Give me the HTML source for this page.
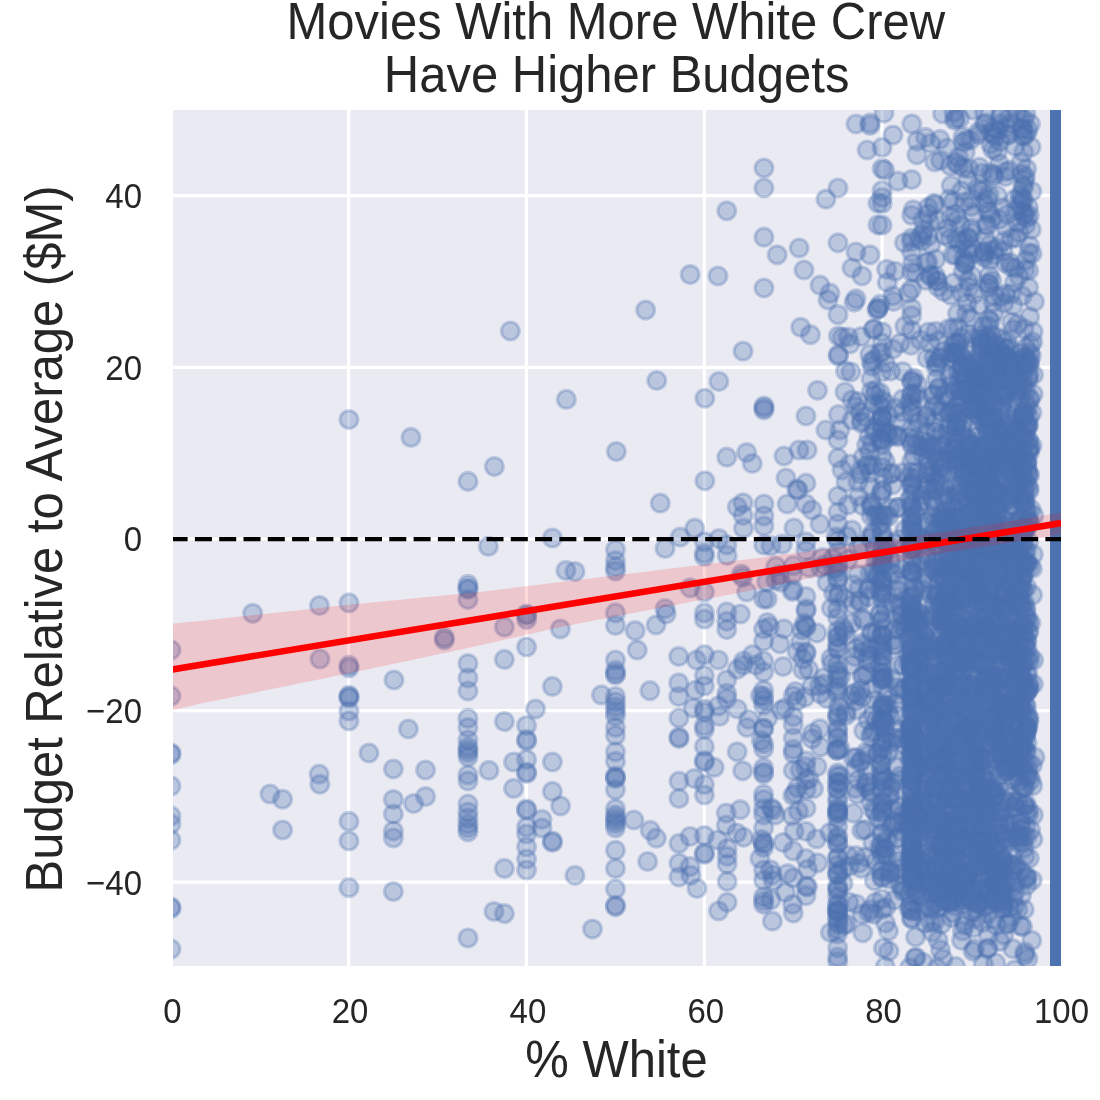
<!DOCTYPE html>
<html><head><meta charset="utf-8"><style>
html,body{margin:0;padding:0;background:#fff;width:1100px;height:1100px;overflow:hidden}
svg{display:block;will-change:transform}
text{font-family:"Liberation Sans",sans-serif;fill:#262626}
.c circle{r:9.0px}
</style></head><body>
<svg width="1100" height="1100" viewBox="0 0 1100 1100">
<defs><clipPath id="cp"><rect x="173" y="110" width="888" height="856"/></clipPath></defs>
<rect x="0" y="0" width="1100" height="1100" fill="#fff"/>
<rect x="173" y="110" width="888" height="856" fill="#EAEAF2"/>
<g stroke="#fff" stroke-width="3.2"><line x1="348.6" y1="110" x2="348.6" y2="966"/><line x1="526.4" y1="110" x2="526.4" y2="966"/><line x1="704.3" y1="110" x2="704.3" y2="966"/><line x1="882.1" y1="110" x2="882.1" y2="966"/><line x1="1060" y1="110" x2="1060" y2="966"/><line x1="173" y1="195.7" x2="1061" y2="195.7"/><line x1="173" y1="367.3" x2="1061" y2="367.3"/><line x1="173" y1="539" x2="1061" y2="539"/><line x1="173" y1="710.6" x2="1061" y2="710.6"/><line x1="173" y1="882.2" x2="1061" y2="882.2"/></g>
<g clip-path="url(#cp)">
<g class="c" fill="#4C72B0" fill-opacity="0.3" stroke="#4C72B0" stroke-opacity="0.3" stroke-width="3.2"><circle cx="171" cy="650" r="9"/><circle cx="171" cy="696" r="9"/><circle cx="171" cy="753" r="9"/><circle cx="171" cy="754.5" r="9"/><circle cx="171" cy="786" r="9"/><circle cx="171" cy="816" r="9"/><circle cx="171" cy="824" r="9"/><circle cx="171" cy="840" r="9"/><circle cx="171" cy="907" r="9"/><circle cx="171" cy="908.5" r="9"/><circle cx="171" cy="949" r="9"/><circle cx="252.7" cy="613.3" r="9"/><circle cx="319.5" cy="605.5" r="9"/><circle cx="320" cy="659" r="9"/><circle cx="270" cy="794" r="9"/><circle cx="282.6" cy="799.3" r="9"/><circle cx="282.6" cy="830" r="9"/><circle cx="319.2" cy="774.2" r="9"/><circle cx="319.9" cy="784.3" r="9"/><circle cx="349" cy="419.6" r="9"/><circle cx="349" cy="602.9" r="9"/><circle cx="349" cy="665.4" r="9"/><circle cx="349" cy="668" r="9"/><circle cx="349" cy="695.4" r="9"/><circle cx="349" cy="696.9" r="9"/><circle cx="349" cy="698" r="9"/><circle cx="349" cy="711" r="9"/><circle cx="349" cy="721" r="9"/><circle cx="349" cy="821.4" r="9"/><circle cx="349" cy="841" r="9"/><circle cx="349" cy="887.7" r="9"/><circle cx="510.4" cy="331" r="9"/><circle cx="566.4" cy="399.4" r="9"/><circle cx="411" cy="437.4" r="9"/><circle cx="494.4" cy="466.6" r="9"/><circle cx="468" cy="481.4" r="9"/><circle cx="488.4" cy="546.4" r="9"/><circle cx="552.4" cy="538" r="9"/><circle cx="566" cy="570.4" r="9"/><circle cx="575" cy="571.6" r="9"/><circle cx="504.4" cy="627" r="9"/><circle cx="560.4" cy="629" r="9"/><circle cx="504.4" cy="659.4" r="9"/><circle cx="394" cy="680" r="9"/><circle cx="552.4" cy="686.4" r="9"/><circle cx="535.6" cy="709" r="9"/><circle cx="408.4" cy="729" r="9"/><circle cx="369" cy="753" r="9"/><circle cx="425.6" cy="770" r="9"/><circle cx="413.6" cy="803.6" r="9"/><circle cx="425.6" cy="796.6" r="9"/><circle cx="504.4" cy="721.6" r="9"/><circle cx="489" cy="770.4" r="9"/><circle cx="513.6" cy="762" r="9"/><circle cx="513.6" cy="788.4" r="9"/><circle cx="504.4" cy="868.4" r="9"/><circle cx="552.4" cy="762" r="9"/><circle cx="552.4" cy="791.4" r="9"/><circle cx="560.6" cy="806" r="9"/><circle cx="542" cy="819.4" r="9"/><circle cx="542" cy="828" r="9"/><circle cx="575" cy="875.4" r="9"/><circle cx="494" cy="911.6" r="9"/><circle cx="504.4" cy="913.6" r="9"/><circle cx="552.4" cy="841" r="9"/><circle cx="552.4" cy="842.5" r="9"/><circle cx="444.4" cy="637.6" r="9"/><circle cx="444.4" cy="640" r="9"/><circle cx="393.4" cy="769" r="9"/><circle cx="393.4" cy="799.6" r="9"/><circle cx="393.4" cy="814" r="9"/><circle cx="393.4" cy="831" r="9"/><circle cx="393.4" cy="838" r="9"/><circle cx="393.4" cy="891.6" r="9"/><circle cx="468" cy="584.4" r="9"/><circle cx="468" cy="588" r="9"/><circle cx="468" cy="589.5" r="9"/><circle cx="468" cy="599.6" r="9"/><circle cx="468" cy="663.6" r="9"/><circle cx="468" cy="678" r="9"/><circle cx="468" cy="691" r="9"/><circle cx="468" cy="718.4" r="9"/><circle cx="468" cy="727.6" r="9"/><circle cx="468" cy="740" r="9"/><circle cx="468" cy="747" r="9"/><circle cx="468" cy="750" r="9"/><circle cx="468" cy="753" r="9"/><circle cx="468" cy="757" r="9"/><circle cx="468" cy="775" r="9"/><circle cx="468" cy="781" r="9"/><circle cx="468" cy="804" r="9"/><circle cx="468" cy="812" r="9"/><circle cx="468" cy="818" r="9"/><circle cx="468" cy="824" r="9"/><circle cx="468" cy="828" r="9"/><circle cx="468" cy="832" r="9"/><circle cx="468" cy="938" r="9"/><circle cx="526.6" cy="614" r="9"/><circle cx="526.6" cy="615.5" r="9"/><circle cx="526.6" cy="619.6" r="9"/><circle cx="526.6" cy="647" r="9"/><circle cx="526.6" cy="725.6" r="9"/><circle cx="526.6" cy="739.4" r="9"/><circle cx="526.6" cy="740.9" r="9"/><circle cx="526.6" cy="759.6" r="9"/><circle cx="526.6" cy="772" r="9"/><circle cx="526.6" cy="773.5" r="9"/><circle cx="526.6" cy="809" r="9"/><circle cx="526.6" cy="810.5" r="9"/><circle cx="526.6" cy="827" r="9"/><circle cx="526.6" cy="834" r="9"/><circle cx="526.6" cy="847" r="9"/><circle cx="526.6" cy="859" r="9"/><circle cx="526.6" cy="870" r="9"/><circle cx="726.8" cy="210.8" r="9"/><circle cx="690.2" cy="274.6" r="9"/><circle cx="718" cy="276" r="9"/><circle cx="645.7" cy="310.1" r="9"/><circle cx="743.1" cy="351.2" r="9"/><circle cx="656.8" cy="380.5" r="9"/><circle cx="718.9" cy="381.5" r="9"/><circle cx="704.9" cy="398.3" r="9"/><circle cx="616.4" cy="451.6" r="9"/><circle cx="726.8" cy="457.2" r="9"/><circle cx="746.7" cy="452.6" r="9"/><circle cx="752.3" cy="463.5" r="9"/><circle cx="704.9" cy="480.8" r="9"/><circle cx="660.3" cy="503.2" r="9"/><circle cx="737.3" cy="507" r="9"/><circle cx="743.1" cy="502.8" r="9"/><circle cx="743.1" cy="515.3" r="9"/><circle cx="694.8" cy="528.2" r="9"/><circle cx="680.2" cy="537.2" r="9"/><circle cx="665.1" cy="548.5" r="9"/><circle cx="690.2" cy="587.8" r="9"/><circle cx="665.1" cy="608.7" r="9"/><circle cx="666.2" cy="614" r="9"/><circle cx="656.1" cy="625" r="9"/><circle cx="635.2" cy="630.7" r="9"/><circle cx="637.3" cy="650.1" r="9"/><circle cx="649.9" cy="690.7" r="9"/><circle cx="601.4" cy="694.9" r="9"/><circle cx="678.7" cy="656.4" r="9"/><circle cx="678.7" cy="682.9" r="9"/><circle cx="678.7" cy="696.5" r="9"/><circle cx="696.5" cy="660" r="9"/><circle cx="695.4" cy="690.3" r="9"/><circle cx="693.4" cy="708" r="9"/><circle cx="718.4" cy="660" r="9"/><circle cx="718.9" cy="538.7" r="9"/><circle cx="726.8" cy="545" r="9"/><circle cx="727.2" cy="555.4" r="9"/><circle cx="726.8" cy="611.9" r="9"/><circle cx="726.8" cy="621.3" r="9"/><circle cx="726.8" cy="629.6" r="9"/><circle cx="740.4" cy="614" r="9"/><circle cx="726.8" cy="679.8" r="9"/><circle cx="726.8" cy="693.4" r="9"/><circle cx="726.8" cy="698.6" r="9"/><circle cx="718.4" cy="706" r="9"/><circle cx="719.5" cy="716.4" r="9"/><circle cx="737.3" cy="709" r="9"/><circle cx="737.3" cy="669.3" r="9"/><circle cx="743.5" cy="665.2" r="9"/><circle cx="743.5" cy="661" r="9"/><circle cx="752.5" cy="654.7" r="9"/><circle cx="748.8" cy="719.5" r="9"/><circle cx="743.5" cy="528.2" r="9"/><circle cx="742.5" cy="577.4" r="9"/><circle cx="746.7" cy="592" r="9"/><circle cx="741.4" cy="574.2" r="9"/><circle cx="615.5" cy="549.8" r="9"/><circle cx="615.5" cy="560.6" r="9"/><circle cx="615.5" cy="566.9" r="9"/><circle cx="615.5" cy="571.1" r="9"/><circle cx="615.5" cy="612.9" r="9"/><circle cx="615.5" cy="625.4" r="9"/><circle cx="615.5" cy="660" r="9"/><circle cx="615.5" cy="670.4" r="9"/><circle cx="615.5" cy="673.5" r="9"/><circle cx="615.5" cy="675" r="9"/><circle cx="615.5" cy="696.5" r="9"/><circle cx="615.5" cy="701.8" r="9"/><circle cx="615.5" cy="707" r="9"/><circle cx="615.5" cy="711.2" r="9"/><circle cx="615.5" cy="716" r="9"/><circle cx="615.5" cy="727.6" r="9"/><circle cx="615.5" cy="735.4" r="9"/><circle cx="615.5" cy="751.8" r="9"/><circle cx="615.5" cy="761.3" r="9"/><circle cx="615.5" cy="776" r="9"/><circle cx="615.5" cy="777.5" r="9"/><circle cx="615.5" cy="778.6" r="9"/><circle cx="615.5" cy="789.8" r="9"/><circle cx="615.5" cy="808.8" r="9"/><circle cx="615.5" cy="815" r="9"/><circle cx="615.5" cy="818" r="9"/><circle cx="615.5" cy="821" r="9"/><circle cx="615.5" cy="824" r="9"/><circle cx="615.5" cy="828" r="9"/><circle cx="615.5" cy="850.3" r="9"/><circle cx="615.5" cy="868.4" r="9"/><circle cx="615.5" cy="889" r="9"/><circle cx="615.5" cy="905.3" r="9"/><circle cx="615.5" cy="906.8" r="9"/><circle cx="704.4" cy="541.8" r="9"/><circle cx="704.4" cy="553.3" r="9"/><circle cx="704.4" cy="556.4" r="9"/><circle cx="704.4" cy="592" r="9"/><circle cx="704.4" cy="612.9" r="9"/><circle cx="704.4" cy="619.2" r="9"/><circle cx="704.4" cy="654.7" r="9"/><circle cx="704.4" cy="675.6" r="9"/><circle cx="704.4" cy="686" r="9"/><circle cx="704.4" cy="709" r="9"/><circle cx="704.4" cy="712.2" r="9"/><circle cx="704.4" cy="725.8" r="9"/><circle cx="704.4" cy="729.4" r="9"/><circle cx="704.4" cy="746.6" r="9"/><circle cx="704.4" cy="760.5" r="9"/><circle cx="704.4" cy="762" r="9"/><circle cx="704.4" cy="784.6" r="9"/><circle cx="704.4" cy="795" r="9"/><circle cx="704.4" cy="835.6" r="9"/><circle cx="704.4" cy="852.9" r="9"/><circle cx="704.4" cy="854.4" r="9"/><circle cx="679" cy="718.1" r="9"/><circle cx="679" cy="737.1" r="9"/><circle cx="679" cy="738.6" r="9"/><circle cx="679" cy="781.2" r="9"/><circle cx="679" cy="798.5" r="9"/><circle cx="679" cy="843.4" r="9"/><circle cx="679" cy="863.2" r="9"/><circle cx="679" cy="877.1" r="9"/><circle cx="633.9" cy="820" r="9"/><circle cx="650.3" cy="830.4" r="9"/><circle cx="656.4" cy="838.2" r="9"/><circle cx="647.7" cy="861.5" r="9"/><circle cx="592.5" cy="929.1" r="9"/><circle cx="694.4" cy="778.6" r="9"/><circle cx="690.1" cy="836.5" r="9"/><circle cx="690.1" cy="866.7" r="9"/><circle cx="690.9" cy="875.3" r="9"/><circle cx="697" cy="888.5" r="9"/><circle cx="714.2" cy="767.4" r="9"/><circle cx="737.2" cy="751.8" r="9"/><circle cx="742.7" cy="770.8" r="9"/><circle cx="747" cy="727.6" r="9"/><circle cx="726.3" cy="813.1" r="9"/><circle cx="740.2" cy="809.7" r="9"/><circle cx="726.3" cy="825.2" r="9"/><circle cx="736.7" cy="833" r="9"/><circle cx="743.6" cy="837.3" r="9"/><circle cx="717.7" cy="840" r="9"/><circle cx="727.2" cy="848.6" r="9"/><circle cx="727.2" cy="856.3" r="9"/><circle cx="727.2" cy="864.1" r="9"/><circle cx="727.2" cy="881.4" r="9"/><circle cx="727.2" cy="902.3" r="9"/><circle cx="718.6" cy="911" r="9"/><circle cx="884" cy="113.1" r="9"/><circle cx="911.8" cy="123.8" r="9"/><circle cx="954" cy="112.3" r="9"/><circle cx="954.5" cy="120.3" r="9"/><circle cx="942.6" cy="113.7" r="9"/><circle cx="959.7" cy="118.5" r="9"/><circle cx="955.6" cy="118.5" r="9"/><circle cx="979.2" cy="134.5" r="9"/><circle cx="973.6" cy="110.1" r="9"/><circle cx="978.5" cy="131.8" r="9"/><circle cx="984.5" cy="112.5" r="9"/><circle cx="990.4" cy="132.1" r="9"/><circle cx="994.5" cy="128.4" r="9"/><circle cx="985.8" cy="123.1" r="9"/><circle cx="997.7" cy="130.6" r="9"/><circle cx="1000.2" cy="115.8" r="9"/><circle cx="1001.8" cy="115.4" r="9"/><circle cx="1000" cy="123.9" r="9"/><circle cx="984.6" cy="124.7" r="9"/><circle cx="993" cy="134" r="9"/><circle cx="1009.1" cy="134.6" r="9"/><circle cx="1025.8" cy="113.8" r="9"/><circle cx="1010.7" cy="123.5" r="9"/><circle cx="1008.9" cy="118.1" r="9"/><circle cx="1006.2" cy="127.8" r="9"/><circle cx="1007" cy="134.9" r="9"/><circle cx="1028" cy="129.7" r="9"/><circle cx="1024.3" cy="119.2" r="9"/><circle cx="1022" cy="129" r="9"/><circle cx="1017" cy="111.5" r="9"/><circle cx="1020.7" cy="118.1" r="9"/><circle cx="1026.3" cy="133.8" r="9"/><circle cx="1023" cy="129.2" r="9"/><circle cx="1030.5" cy="123.9" r="9"/><circle cx="893" cy="135.1" r="9"/><circle cx="882.1" cy="147.4" r="9"/><circle cx="925.6" cy="137.4" r="9"/><circle cx="916.9" cy="154.8" r="9"/><circle cx="917.2" cy="141.1" r="9"/><circle cx="930.7" cy="143.3" r="9"/><circle cx="939.9" cy="139.4" r="9"/><circle cx="947" cy="148" r="9"/><circle cx="965.3" cy="152.3" r="9"/><circle cx="963.1" cy="136.7" r="9"/><circle cx="966.5" cy="139.9" r="9"/><circle cx="970.5" cy="140" r="9"/><circle cx="958.4" cy="157.3" r="9"/><circle cx="963.3" cy="142.3" r="9"/><circle cx="997.3" cy="151.8" r="9"/><circle cx="1000" cy="141.5" r="9"/><circle cx="990.7" cy="144.1" r="9"/><circle cx="992.9" cy="149.4" r="9"/><circle cx="995.7" cy="136.7" r="9"/><circle cx="1022.7" cy="135.9" r="9"/><circle cx="1023.7" cy="152.1" r="9"/><circle cx="1015" cy="146.2" r="9"/><circle cx="1031.1" cy="147" r="9"/><circle cx="1024" cy="135.7" r="9"/><circle cx="884.7" cy="169.9" r="9"/><circle cx="882.1" cy="168.7" r="9"/><circle cx="898.1" cy="181.2" r="9"/><circle cx="911.7" cy="179.6" r="9"/><circle cx="934.7" cy="162" r="9"/><circle cx="950.4" cy="165.8" r="9"/><circle cx="940.6" cy="160.3" r="9"/><circle cx="967.8" cy="179.8" r="9"/><circle cx="963.5" cy="168" r="9"/><circle cx="956" cy="162.5" r="9"/><circle cx="958.7" cy="165.2" r="9"/><circle cx="969.2" cy="169" r="9"/><circle cx="979.4" cy="167.1" r="9"/><circle cx="982.3" cy="173.2" r="9"/><circle cx="993.7" cy="176.4" r="9"/><circle cx="990.3" cy="173.1" r="9"/><circle cx="999.4" cy="163.8" r="9"/><circle cx="993.3" cy="174.7" r="9"/><circle cx="1009.1" cy="170.4" r="9"/><circle cx="1005.6" cy="176.6" r="9"/><circle cx="1026.7" cy="168.8" r="9"/><circle cx="1025.4" cy="176.5" r="9"/><circle cx="1005.4" cy="171.8" r="9"/><circle cx="1024.7" cy="180" r="9"/><circle cx="1021.9" cy="174.1" r="9"/><circle cx="1020.9" cy="162.7" r="9"/><circle cx="882.1" cy="197.5" r="9"/><circle cx="882.1" cy="190.5" r="9"/><circle cx="882.1" cy="203.6" r="9"/><circle cx="913.3" cy="209.8" r="9"/><circle cx="928.3" cy="207.5" r="9"/><circle cx="953.3" cy="201" r="9"/><circle cx="934" cy="203.3" r="9"/><circle cx="951.2" cy="185.4" r="9"/><circle cx="934.9" cy="204.6" r="9"/><circle cx="949.2" cy="199" r="9"/><circle cx="961.6" cy="190.9" r="9"/><circle cx="979.5" cy="190.6" r="9"/><circle cx="964.3" cy="202.2" r="9"/><circle cx="971.6" cy="199.1" r="9"/><circle cx="971.3" cy="206.6" r="9"/><circle cx="977.8" cy="187.7" r="9"/><circle cx="1002.8" cy="207.8" r="9"/><circle cx="989.2" cy="195" r="9"/><circle cx="997.1" cy="195.5" r="9"/><circle cx="982.8" cy="191.2" r="9"/><circle cx="987.6" cy="199.2" r="9"/><circle cx="984.3" cy="203.2" r="9"/><circle cx="1014.6" cy="199.3" r="9"/><circle cx="1020.9" cy="204.9" r="9"/><circle cx="1020.7" cy="197.9" r="9"/><circle cx="1023" cy="185.6" r="9"/><circle cx="1028.5" cy="207.5" r="9"/><circle cx="1023" cy="200.6" r="9"/><circle cx="1020.4" cy="194.9" r="9"/><circle cx="1023.2" cy="199" r="9"/><circle cx="1023.8" cy="187.3" r="9"/><circle cx="1031.9" cy="191.3" r="9"/><circle cx="882.1" cy="225.2" r="9"/><circle cx="911.7" cy="215.3" r="9"/><circle cx="923" cy="220" r="9"/><circle cx="924" cy="230.3" r="9"/><circle cx="929.8" cy="222.6" r="9"/><circle cx="922.5" cy="234.3" r="9"/><circle cx="928.2" cy="214" r="9"/><circle cx="947.6" cy="228.3" r="9"/><circle cx="950.8" cy="216.7" r="9"/><circle cx="937.9" cy="220.3" r="9"/><circle cx="957.3" cy="219.7" r="9"/><circle cx="971.1" cy="228.5" r="9"/><circle cx="960.7" cy="225.5" r="9"/><circle cx="973.8" cy="213.9" r="9"/><circle cx="955.4" cy="214" r="9"/><circle cx="972" cy="232.8" r="9"/><circle cx="987.8" cy="225.7" r="9"/><circle cx="987.9" cy="211" r="9"/><circle cx="986.1" cy="225" r="9"/><circle cx="991.4" cy="218.7" r="9"/><circle cx="989.8" cy="213.4" r="9"/><circle cx="999.2" cy="219.4" r="9"/><circle cx="1019.2" cy="232.5" r="9"/><circle cx="1024.9" cy="213.3" r="9"/><circle cx="1016.3" cy="210.3" r="9"/><circle cx="1023.9" cy="215.8" r="9"/><circle cx="1029.4" cy="215.6" r="9"/><circle cx="1017.7" cy="222.3" r="9"/><circle cx="1025.7" cy="224.9" r="9"/><circle cx="1027" cy="218" r="9"/><circle cx="1007.4" cy="214.6" r="9"/><circle cx="1006.2" cy="227.7" r="9"/><circle cx="1031.3" cy="229.5" r="9"/><circle cx="1021.9" cy="211.6" r="9"/><circle cx="904.4" cy="242.8" r="9"/><circle cx="911.7" cy="238" r="9"/><circle cx="922.1" cy="240.9" r="9"/><circle cx="911.7" cy="252.1" r="9"/><circle cx="919" cy="238.5" r="9"/><circle cx="911.7" cy="241.7" r="9"/><circle cx="928.4" cy="236.2" r="9"/><circle cx="952.8" cy="254.8" r="9"/><circle cx="935.8" cy="259.2" r="9"/><circle cx="950.2" cy="238.5" r="9"/><circle cx="930.9" cy="244.4" r="9"/><circle cx="944.5" cy="235.6" r="9"/><circle cx="971.8" cy="247.9" r="9"/><circle cx="967.3" cy="237.6" r="9"/><circle cx="973.7" cy="253.5" r="9"/><circle cx="955.6" cy="255.2" r="9"/><circle cx="963.9" cy="258.3" r="9"/><circle cx="963.6" cy="240.3" r="9"/><circle cx="959.9" cy="243.3" r="9"/><circle cx="956.8" cy="239.1" r="9"/><circle cx="966.8" cy="248.8" r="9"/><circle cx="968.9" cy="238.3" r="9"/><circle cx="983.7" cy="257.5" r="9"/><circle cx="983.4" cy="252.1" r="9"/><circle cx="993.9" cy="250" r="9"/><circle cx="1003.4" cy="241.4" r="9"/><circle cx="997.6" cy="247.9" r="9"/><circle cx="989.2" cy="245" r="9"/><circle cx="985.1" cy="237.5" r="9"/><circle cx="1003" cy="251" r="9"/><circle cx="984.2" cy="255.1" r="9"/><circle cx="984.6" cy="251.6" r="9"/><circle cx="994.7" cy="254.9" r="9"/><circle cx="1028.9" cy="253" r="9"/><circle cx="1016.2" cy="238" r="9"/><circle cx="1011.5" cy="238.3" r="9"/><circle cx="1032.1" cy="253.6" r="9"/><circle cx="1029.6" cy="245.7" r="9"/><circle cx="886.6" cy="269.3" r="9"/><circle cx="887.3" cy="282.5" r="9"/><circle cx="895.3" cy="271.3" r="9"/><circle cx="911.7" cy="271.9" r="9"/><circle cx="915.7" cy="272.7" r="9"/><circle cx="928.1" cy="261.9" r="9"/><circle cx="925.5" cy="280.3" r="9"/><circle cx="912.6" cy="263.3" r="9"/><circle cx="926.2" cy="262.5" r="9"/><circle cx="953.7" cy="282.8" r="9"/><circle cx="936.5" cy="280.7" r="9"/><circle cx="937.5" cy="281" r="9"/><circle cx="930.3" cy="275.2" r="9"/><circle cx="935.6" cy="275.9" r="9"/><circle cx="930.6" cy="276.2" r="9"/><circle cx="966.1" cy="261.7" r="9"/><circle cx="964.6" cy="263.9" r="9"/><circle cx="963.2" cy="271.7" r="9"/><circle cx="971.5" cy="275.8" r="9"/><circle cx="968.1" cy="281.3" r="9"/><circle cx="965.3" cy="263.6" r="9"/><circle cx="988.9" cy="283.4" r="9"/><circle cx="989.8" cy="260.3" r="9"/><circle cx="988.6" cy="284" r="9"/><circle cx="991.9" cy="280.6" r="9"/><circle cx="989.2" cy="275.2" r="9"/><circle cx="1010.1" cy="262.6" r="9"/><circle cx="1015.1" cy="268.1" r="9"/><circle cx="1018.9" cy="276.2" r="9"/><circle cx="1011" cy="266.7" r="9"/><circle cx="1005.6" cy="263" r="9"/><circle cx="1014.5" cy="282.5" r="9"/><circle cx="1026.1" cy="260.3" r="9"/><circle cx="1028.8" cy="270.5" r="9"/><circle cx="1025" cy="269.7" r="9"/><circle cx="880.3" cy="304.2" r="9"/><circle cx="893.6" cy="301.4" r="9"/><circle cx="892.9" cy="295.9" r="9"/><circle cx="911.7" cy="289.1" r="9"/><circle cx="911.7" cy="308.5" r="9"/><circle cx="908.6" cy="293" r="9"/><circle cx="950.9" cy="295.3" r="9"/><circle cx="943.7" cy="291.6" r="9"/><circle cx="938.1" cy="287" r="9"/><circle cx="967.2" cy="303.3" r="9"/><circle cx="969.3" cy="287.2" r="9"/><circle cx="961.7" cy="293" r="9"/><circle cx="974.6" cy="293.7" r="9"/><circle cx="979.1" cy="304.9" r="9"/><circle cx="993.3" cy="302.3" r="9"/><circle cx="988.5" cy="287.6" r="9"/><circle cx="1001.5" cy="296.5" r="9"/><circle cx="1004" cy="303.3" r="9"/><circle cx="994.4" cy="295.7" r="9"/><circle cx="1011.1" cy="293.8" r="9"/><circle cx="1013" cy="305.5" r="9"/><circle cx="1028.7" cy="287.4" r="9"/><circle cx="1005.6" cy="293.8" r="9"/><circle cx="1022.1" cy="295.9" r="9"/><circle cx="1034.5" cy="301.7" r="9"/><circle cx="904.8" cy="326.2" r="9"/><circle cx="882.1" cy="331.8" r="9"/><circle cx="911.7" cy="330.3" r="9"/><circle cx="928.5" cy="332.1" r="9"/><circle cx="911.7" cy="315.7" r="9"/><circle cx="935.8" cy="331.3" r="9"/><circle cx="948.4" cy="328.9" r="9"/><circle cx="953.6" cy="327.7" r="9"/><circle cx="966.7" cy="313.4" r="9"/><circle cx="967.9" cy="333.7" r="9"/><circle cx="970.4" cy="318.1" r="9"/><circle cx="957.5" cy="313.4" r="9"/><circle cx="958.1" cy="327.8" r="9"/><circle cx="990.9" cy="334.4" r="9"/><circle cx="988.3" cy="326.3" r="9"/><circle cx="988.7" cy="319.6" r="9"/><circle cx="990.7" cy="321.1" r="9"/><circle cx="982.9" cy="326" r="9"/><circle cx="993.9" cy="312.8" r="9"/><circle cx="1029.7" cy="316.9" r="9"/><circle cx="1013.5" cy="329.5" r="9"/><circle cx="1017.7" cy="324.2" r="9"/><circle cx="1024.1" cy="328.8" r="9"/><circle cx="1011.6" cy="322.2" r="9"/><circle cx="1033.2" cy="331.7" r="9"/><circle cx="861.1" cy="336.6" r="9"/><circle cx="869.8" cy="354.2" r="9"/><circle cx="879.9" cy="353.2" r="9"/><circle cx="882.1" cy="352" r="9"/><circle cx="893" cy="349.1" r="9"/><circle cx="882.1" cy="343" r="9"/><circle cx="900.1" cy="343.1" r="9"/><circle cx="920.2" cy="340" r="9"/><circle cx="911" cy="345.5" r="9"/><circle cx="927.1" cy="358.6" r="9"/><circle cx="952.6" cy="346.7" r="9"/><circle cx="934.1" cy="357.4" r="9"/><circle cx="953.8" cy="359.3" r="9"/><circle cx="939" cy="340.6" r="9"/><circle cx="953.1" cy="352.8" r="9"/><circle cx="953.1" cy="353.2" r="9"/><circle cx="954.6" cy="353.3" r="9"/><circle cx="950.5" cy="358.1" r="9"/><circle cx="940.7" cy="358" r="9"/><circle cx="940.3" cy="359" r="9"/><circle cx="943.6" cy="351" r="9"/><circle cx="930.2" cy="343.5" r="9"/><circle cx="955.3" cy="342.8" r="9"/><circle cx="961.4" cy="337.7" r="9"/><circle cx="961.4" cy="356.5" r="9"/><circle cx="960.4" cy="352.5" r="9"/><circle cx="979.8" cy="335.2" r="9"/><circle cx="972.8" cy="338.4" r="9"/><circle cx="959.6" cy="342.7" r="9"/><circle cx="977.9" cy="356.9" r="9"/><circle cx="957.3" cy="354.8" r="9"/><circle cx="957.1" cy="344" r="9"/><circle cx="980" cy="357" r="9"/><circle cx="957.7" cy="349.2" r="9"/><circle cx="996.9" cy="356.5" r="9"/><circle cx="993.9" cy="358.3" r="9"/><circle cx="1002.4" cy="339.1" r="9"/><circle cx="981.4" cy="339.9" r="9"/><circle cx="992.7" cy="352.4" r="9"/><circle cx="1001.4" cy="353.3" r="9"/><circle cx="996.4" cy="350" r="9"/><circle cx="996.4" cy="345" r="9"/><circle cx="996.6" cy="355.9" r="9"/><circle cx="1001.4" cy="353" r="9"/><circle cx="996.9" cy="336.8" r="9"/><circle cx="988.2" cy="346.4" r="9"/><circle cx="987.7" cy="340" r="9"/><circle cx="989.4" cy="355.8" r="9"/><circle cx="986.7" cy="358.4" r="9"/><circle cx="980.2" cy="345.5" r="9"/><circle cx="998" cy="353.9" r="9"/><circle cx="980.3" cy="337.9" r="9"/><circle cx="981.8" cy="349.1" r="9"/><circle cx="982.4" cy="344.9" r="9"/><circle cx="987.1" cy="337.6" r="9"/><circle cx="989.4" cy="345.9" r="9"/><circle cx="994.5" cy="343.6" r="9"/><circle cx="981.7" cy="343.2" r="9"/><circle cx="1005.1" cy="348" r="9"/><circle cx="1005.5" cy="356.6" r="9"/><circle cx="1009.9" cy="348.3" r="9"/><circle cx="1007.3" cy="348.7" r="9"/><circle cx="1024.8" cy="357.9" r="9"/><circle cx="1024.7" cy="357.3" r="9"/><circle cx="1005.2" cy="355.1" r="9"/><circle cx="1006.2" cy="356.8" r="9"/><circle cx="1029.9" cy="352.9" r="9"/><circle cx="1020.2" cy="353.3" r="9"/><circle cx="1007.2" cy="356.6" r="9"/><circle cx="1007.2" cy="341" r="9"/><circle cx="1030.3" cy="344.8" r="9"/><circle cx="1025.8" cy="347.5" r="9"/><circle cx="1031.3" cy="356" r="9"/><circle cx="1032.7" cy="342.1" r="9"/><circle cx="873.9" cy="360" r="9"/><circle cx="872.2" cy="366.2" r="9"/><circle cx="871.1" cy="379" r="9"/><circle cx="871.4" cy="361.8" r="9"/><circle cx="902.7" cy="371.6" r="9"/><circle cx="882.1" cy="371.8" r="9"/><circle cx="885.2" cy="363.1" r="9"/><circle cx="890.6" cy="371.1" r="9"/><circle cx="911.7" cy="381.5" r="9"/><circle cx="913.6" cy="378.1" r="9"/><circle cx="917.2" cy="384.5" r="9"/><circle cx="911.7" cy="380.9" r="9"/><circle cx="936.3" cy="366.9" r="9"/><circle cx="936.8" cy="363.4" r="9"/><circle cx="950.3" cy="377.5" r="9"/><circle cx="949.7" cy="376.1" r="9"/><circle cx="936.5" cy="362.2" r="9"/><circle cx="936.5" cy="379.7" r="9"/><circle cx="968.3" cy="368" r="9"/><circle cx="962.2" cy="368.4" r="9"/><circle cx="969.8" cy="364.2" r="9"/><circle cx="959" cy="381.2" r="9"/><circle cx="973.9" cy="369" r="9"/><circle cx="961.2" cy="374.6" r="9"/><circle cx="978.3" cy="379.7" r="9"/><circle cx="966.1" cy="375.9" r="9"/><circle cx="964" cy="377.7" r="9"/><circle cx="967.9" cy="360.7" r="9"/><circle cx="971.8" cy="381.8" r="9"/><circle cx="967.1" cy="364" r="9"/><circle cx="962.6" cy="364.8" r="9"/><circle cx="976" cy="378.4" r="9"/><circle cx="962.4" cy="367.6" r="9"/><circle cx="958.2" cy="371" r="9"/><circle cx="979.4" cy="378.9" r="9"/><circle cx="978.4" cy="361.9" r="9"/><circle cx="978.1" cy="382.8" r="9"/><circle cx="975.3" cy="363.2" r="9"/><circle cx="976.7" cy="384.5" r="9"/><circle cx="973.5" cy="372.9" r="9"/><circle cx="963.6" cy="382" r="9"/><circle cx="970" cy="368.1" r="9"/><circle cx="980.4" cy="377.6" r="9"/><circle cx="987.4" cy="363.3" r="9"/><circle cx="987.7" cy="371.6" r="9"/><circle cx="1001.2" cy="371.9" r="9"/><circle cx="983.2" cy="380.7" r="9"/><circle cx="996.9" cy="373.6" r="9"/><circle cx="1002.5" cy="370.1" r="9"/><circle cx="989.7" cy="361.4" r="9"/><circle cx="997.4" cy="375.5" r="9"/><circle cx="1003.7" cy="360.2" r="9"/><circle cx="990.3" cy="370.9" r="9"/><circle cx="990.4" cy="361.1" r="9"/><circle cx="1000.4" cy="361.1" r="9"/><circle cx="996" cy="367.8" r="9"/><circle cx="990.6" cy="380.9" r="9"/><circle cx="985.1" cy="372.8" r="9"/><circle cx="986.7" cy="375.3" r="9"/><circle cx="993.6" cy="376.7" r="9"/><circle cx="982.4" cy="375.8" r="9"/><circle cx="996.6" cy="361.7" r="9"/><circle cx="1004.2" cy="381.3" r="9"/><circle cx="999.8" cy="379.7" r="9"/><circle cx="992.5" cy="382.9" r="9"/><circle cx="983.9" cy="378.6" r="9"/><circle cx="1006.6" cy="376.2" r="9"/><circle cx="1029.3" cy="363.5" r="9"/><circle cx="1019" cy="382.4" r="9"/><circle cx="1011.6" cy="365.3" r="9"/><circle cx="1022.9" cy="379.9" r="9"/><circle cx="1028.5" cy="376.3" r="9"/><circle cx="1006.3" cy="380.5" r="9"/><circle cx="1012.1" cy="374.1" r="9"/><circle cx="1023" cy="384.5" r="9"/><circle cx="1018.8" cy="363.6" r="9"/><circle cx="1017.8" cy="373.9" r="9"/><circle cx="1023.8" cy="364.8" r="9"/><circle cx="1018.8" cy="361.2" r="9"/><circle cx="1029.6" cy="360.6" r="9"/><circle cx="1018.5" cy="364.4" r="9"/><circle cx="1011.9" cy="370.1" r="9"/><circle cx="1011.3" cy="366.5" r="9"/><circle cx="1012.7" cy="372.5" r="9"/><circle cx="1028.9" cy="365.2" r="9"/><circle cx="1009.3" cy="361.1" r="9"/><circle cx="1027.9" cy="379.6" r="9"/><circle cx="1025.8" cy="363.7" r="9"/><circle cx="1016" cy="376.8" r="9"/><circle cx="1018.3" cy="378.3" r="9"/><circle cx="1033.5" cy="374.8" r="9"/><circle cx="1029.2" cy="374.7" r="9"/><circle cx="1026.6" cy="360.3" r="9"/><circle cx="1022.5" cy="372" r="9"/><circle cx="871.4" cy="391.5" r="9"/><circle cx="858.1" cy="401.6" r="9"/><circle cx="875.6" cy="390.3" r="9"/><circle cx="855.9" cy="406.7" r="9"/><circle cx="873.8" cy="404.2" r="9"/><circle cx="874.8" cy="395.4" r="9"/><circle cx="878.8" cy="405.2" r="9"/><circle cx="902.7" cy="399.1" r="9"/><circle cx="882.1" cy="399.8" r="9"/><circle cx="880.4" cy="392.9" r="9"/><circle cx="895.6" cy="408.3" r="9"/><circle cx="884.6" cy="402.8" r="9"/><circle cx="882.1" cy="406.7" r="9"/><circle cx="909" cy="403.6" r="9"/><circle cx="911.7" cy="406.6" r="9"/><circle cx="919.3" cy="399.1" r="9"/><circle cx="911.7" cy="394.1" r="9"/><circle cx="911.7" cy="394.8" r="9"/><circle cx="911.7" cy="400.9" r="9"/><circle cx="915.8" cy="393.7" r="9"/><circle cx="953.7" cy="409.5" r="9"/><circle cx="939.1" cy="387.1" r="9"/><circle cx="934.1" cy="406.5" r="9"/><circle cx="938.8" cy="388.7" r="9"/><circle cx="953.9" cy="390.6" r="9"/><circle cx="944" cy="395.3" r="9"/><circle cx="933.5" cy="394.3" r="9"/><circle cx="949.7" cy="398.6" r="9"/><circle cx="951.4" cy="385.4" r="9"/><circle cx="932.7" cy="395.8" r="9"/><circle cx="946.1" cy="395.3" r="9"/><circle cx="936.9" cy="405.4" r="9"/><circle cx="971.2" cy="388.3" r="9"/><circle cx="973.5" cy="400.2" r="9"/><circle cx="973.4" cy="403.4" r="9"/><circle cx="969.1" cy="394.6" r="9"/><circle cx="975.9" cy="408.1" r="9"/><circle cx="978.8" cy="392.6" r="9"/><circle cx="960.3" cy="389.8" r="9"/><circle cx="972" cy="409.1" r="9"/><circle cx="961" cy="396.2" r="9"/><circle cx="968.6" cy="395.4" r="9"/><circle cx="968.7" cy="394.3" r="9"/><circle cx="969.7" cy="409.5" r="9"/><circle cx="974.1" cy="409.1" r="9"/><circle cx="965.5" cy="388.7" r="9"/><circle cx="960.1" cy="390.8" r="9"/><circle cx="974.2" cy="390.6" r="9"/><circle cx="969" cy="408.2" r="9"/><circle cx="965.5" cy="390.9" r="9"/><circle cx="977.2" cy="409.5" r="9"/><circle cx="956.7" cy="405.6" r="9"/><circle cx="979.4" cy="392.4" r="9"/><circle cx="964" cy="389.8" r="9"/><circle cx="960.4" cy="404.2" r="9"/><circle cx="966" cy="392.7" r="9"/><circle cx="1002.7" cy="409.9" r="9"/><circle cx="988" cy="391.7" r="9"/><circle cx="986.7" cy="404.6" r="9"/><circle cx="1002.7" cy="389.8" r="9"/><circle cx="982.6" cy="393.3" r="9"/><circle cx="1000.8" cy="406.2" r="9"/><circle cx="1003.8" cy="395.5" r="9"/><circle cx="981.1" cy="386.1" r="9"/><circle cx="1000.2" cy="394.4" r="9"/><circle cx="984.3" cy="392" r="9"/><circle cx="982.5" cy="407.9" r="9"/><circle cx="990.8" cy="397.6" r="9"/><circle cx="985" cy="398.1" r="9"/><circle cx="986.3" cy="408.5" r="9"/><circle cx="1001.6" cy="403" r="9"/><circle cx="994.1" cy="403.3" r="9"/><circle cx="982.1" cy="394" r="9"/><circle cx="1002" cy="404.8" r="9"/><circle cx="987.9" cy="394.6" r="9"/><circle cx="983.5" cy="385" r="9"/><circle cx="1003.8" cy="389.6" r="9"/><circle cx="1000" cy="389.5" r="9"/><circle cx="991.4" cy="398.6" r="9"/><circle cx="984.6" cy="392" r="9"/><circle cx="1005.1" cy="394.2" r="9"/><circle cx="1026" cy="390.5" r="9"/><circle cx="1015.8" cy="394.8" r="9"/><circle cx="1017.9" cy="390.4" r="9"/><circle cx="1006.2" cy="393.3" r="9"/><circle cx="1029.5" cy="399.5" r="9"/><circle cx="1016.3" cy="392.4" r="9"/><circle cx="1022.9" cy="388.7" r="9"/><circle cx="1020.3" cy="397.5" r="9"/><circle cx="1006.7" cy="397.5" r="9"/><circle cx="1013.5" cy="385.3" r="9"/><circle cx="1016.2" cy="390.1" r="9"/><circle cx="1030.3" cy="398.8" r="9"/><circle cx="1025.9" cy="402.6" r="9"/><circle cx="1033.2" cy="394.1" r="9"/><circle cx="1027.9" cy="407.3" r="9"/><circle cx="874.7" cy="431.8" r="9"/><circle cx="865.3" cy="417.1" r="9"/><circle cx="874.2" cy="427.6" r="9"/><circle cx="861.9" cy="421.1" r="9"/><circle cx="861.2" cy="423.1" r="9"/><circle cx="860.2" cy="411.8" r="9"/><circle cx="882.1" cy="417.5" r="9"/><circle cx="887.8" cy="433.2" r="9"/><circle cx="886.5" cy="432.6" r="9"/><circle cx="880.4" cy="421.7" r="9"/><circle cx="882.1" cy="416.9" r="9"/><circle cx="893.3" cy="434.6" r="9"/><circle cx="888.3" cy="415.7" r="9"/><circle cx="882.1" cy="429.3" r="9"/><circle cx="901.5" cy="422" r="9"/><circle cx="902.5" cy="411.9" r="9"/><circle cx="881.9" cy="418.8" r="9"/><circle cx="882.1" cy="425.8" r="9"/><circle cx="911.7" cy="428.4" r="9"/><circle cx="926.6" cy="432.7" r="9"/><circle cx="926.2" cy="417.2" r="9"/><circle cx="920" cy="419.9" r="9"/><circle cx="918.6" cy="422.9" r="9"/><circle cx="911.7" cy="413.7" r="9"/><circle cx="927" cy="415.2" r="9"/><circle cx="935.8" cy="432" r="9"/><circle cx="941.1" cy="434.5" r="9"/><circle cx="942.4" cy="412.9" r="9"/><circle cx="949.1" cy="413" r="9"/><circle cx="947.4" cy="434.9" r="9"/><circle cx="948.6" cy="430.3" r="9"/><circle cx="940.6" cy="411.6" r="9"/><circle cx="935.6" cy="431.5" r="9"/><circle cx="949.7" cy="424.4" r="9"/><circle cx="935" cy="421.9" r="9"/><circle cx="950.5" cy="412.7" r="9"/><circle cx="952.6" cy="412" r="9"/><circle cx="955.5" cy="431.4" r="9"/><circle cx="962.9" cy="423.8" r="9"/><circle cx="956.1" cy="426.7" r="9"/><circle cx="979.9" cy="417.6" r="9"/><circle cx="976" cy="413.8" r="9"/><circle cx="955.9" cy="426.7" r="9"/><circle cx="961.8" cy="427.9" r="9"/><circle cx="956.6" cy="413.3" r="9"/><circle cx="962.9" cy="423" r="9"/><circle cx="961" cy="413.2" r="9"/><circle cx="957.8" cy="419.2" r="9"/><circle cx="956.6" cy="423.5" r="9"/><circle cx="993" cy="417.9" r="9"/><circle cx="981" cy="410.6" r="9"/><circle cx="994.6" cy="427.8" r="9"/><circle cx="984.5" cy="424.3" r="9"/><circle cx="982.1" cy="421.6" r="9"/><circle cx="1000.4" cy="414.7" r="9"/><circle cx="991.6" cy="432.6" r="9"/><circle cx="986.7" cy="429.6" r="9"/><circle cx="981.9" cy="416.9" r="9"/><circle cx="999.4" cy="431.7" r="9"/><circle cx="987.3" cy="420.3" r="9"/><circle cx="988.3" cy="414.8" r="9"/><circle cx="988.2" cy="431" r="9"/><circle cx="994.4" cy="431.1" r="9"/><circle cx="994.3" cy="426.9" r="9"/><circle cx="993.9" cy="415.3" r="9"/><circle cx="992.3" cy="418.6" r="9"/><circle cx="985.7" cy="417.9" r="9"/><circle cx="1003" cy="434.1" r="9"/><circle cx="1004.2" cy="423.6" r="9"/><circle cx="986.9" cy="419.1" r="9"/><circle cx="987.4" cy="434.1" r="9"/><circle cx="1001.6" cy="429.7" r="9"/><circle cx="993" cy="422.1" r="9"/><circle cx="1027.2" cy="427.9" r="9"/><circle cx="1028.7" cy="425.1" r="9"/><circle cx="1026" cy="425.2" r="9"/><circle cx="1018.7" cy="430.5" r="9"/><circle cx="1016.2" cy="431.1" r="9"/><circle cx="1011.4" cy="434.4" r="9"/><circle cx="1023.3" cy="414.9" r="9"/><circle cx="1022.1" cy="417.2" r="9"/><circle cx="1007.4" cy="413.3" r="9"/><circle cx="1015.8" cy="433.7" r="9"/><circle cx="1010.9" cy="423.6" r="9"/><circle cx="1016" cy="414.3" r="9"/><circle cx="1022.4" cy="417.6" r="9"/><circle cx="1006.1" cy="431.2" r="9"/><circle cx="1024.1" cy="411.2" r="9"/><circle cx="1016.3" cy="418" r="9"/><circle cx="1021.4" cy="417.8" r="9"/><circle cx="1022.5" cy="411.1" r="9"/><circle cx="1027.7" cy="426.2" r="9"/><circle cx="1015" cy="430.5" r="9"/><circle cx="1023.5" cy="417.8" r="9"/><circle cx="1007.2" cy="426" r="9"/><circle cx="1015.6" cy="431.7" r="9"/><circle cx="1008.7" cy="430.8" r="9"/><circle cx="1023.1" cy="416.4" r="9"/><circle cx="1029.2" cy="417.1" r="9"/><circle cx="1027.3" cy="423.3" r="9"/><circle cx="1025.9" cy="413.1" r="9"/><circle cx="1024.3" cy="430.3" r="9"/><circle cx="1032" cy="412.5" r="9"/><circle cx="866.7" cy="445" r="9"/><circle cx="869.6" cy="451.5" r="9"/><circle cx="879.8" cy="438.7" r="9"/><circle cx="863.1" cy="457.3" r="9"/><circle cx="872.2" cy="442.7" r="9"/><circle cx="869.1" cy="436.6" r="9"/><circle cx="882.1" cy="456.1" r="9"/><circle cx="882.1" cy="444.3" r="9"/><circle cx="897.4" cy="436.8" r="9"/><circle cx="882.1" cy="439.3" r="9"/><circle cx="888.8" cy="436.9" r="9"/><circle cx="882.1" cy="441.6" r="9"/><circle cx="897.8" cy="435.5" r="9"/><circle cx="911.7" cy="445" r="9"/><circle cx="908.7" cy="437.7" r="9"/><circle cx="923.1" cy="454.7" r="9"/><circle cx="927.5" cy="442.5" r="9"/><circle cx="922.5" cy="440.7" r="9"/><circle cx="928" cy="449.8" r="9"/><circle cx="914.2" cy="456.1" r="9"/><circle cx="911.7" cy="442.6" r="9"/><circle cx="921.5" cy="446.6" r="9"/><circle cx="924.6" cy="448.1" r="9"/><circle cx="916.8" cy="444.7" r="9"/><circle cx="914.9" cy="438.3" r="9"/><circle cx="947.2" cy="443" r="9"/><circle cx="950.2" cy="452" r="9"/><circle cx="941.3" cy="448.2" r="9"/><circle cx="953.7" cy="448.5" r="9"/><circle cx="932.6" cy="446" r="9"/><circle cx="937.6" cy="459" r="9"/><circle cx="940.9" cy="445" r="9"/><circle cx="949.1" cy="454.1" r="9"/><circle cx="932" cy="452" r="9"/><circle cx="953.3" cy="449.5" r="9"/><circle cx="936.9" cy="458.3" r="9"/><circle cx="931.6" cy="447.2" r="9"/><circle cx="968.9" cy="445" r="9"/><circle cx="977" cy="436.8" r="9"/><circle cx="966.6" cy="442.2" r="9"/><circle cx="957.7" cy="456.1" r="9"/><circle cx="971.2" cy="443.8" r="9"/><circle cx="968.3" cy="446.2" r="9"/><circle cx="956.5" cy="443.2" r="9"/><circle cx="955.8" cy="437.5" r="9"/><circle cx="976.2" cy="454.5" r="9"/><circle cx="962.4" cy="435.4" r="9"/><circle cx="977" cy="436.7" r="9"/><circle cx="961.1" cy="456.2" r="9"/><circle cx="969.4" cy="446" r="9"/><circle cx="974.5" cy="458" r="9"/><circle cx="969.4" cy="458" r="9"/><circle cx="956.7" cy="448" r="9"/><circle cx="972.2" cy="456.2" r="9"/><circle cx="966.9" cy="450.7" r="9"/><circle cx="962.2" cy="453.2" r="9"/><circle cx="969.5" cy="459.7" r="9"/><circle cx="968.2" cy="439.8" r="9"/><circle cx="974.8" cy="446.3" r="9"/><circle cx="958.3" cy="459.1" r="9"/><circle cx="967.4" cy="439.2" r="9"/><circle cx="986.4" cy="458.2" r="9"/><circle cx="1000.3" cy="435.9" r="9"/><circle cx="997.5" cy="443.2" r="9"/><circle cx="990.9" cy="453.6" r="9"/><circle cx="987.3" cy="442.3" r="9"/><circle cx="1003.3" cy="454.7" r="9"/><circle cx="1000.8" cy="453.6" r="9"/><circle cx="1004" cy="453.9" r="9"/><circle cx="998.6" cy="442.3" r="9"/><circle cx="997.6" cy="458.4" r="9"/><circle cx="994.3" cy="453" r="9"/><circle cx="984.4" cy="446.6" r="9"/><circle cx="993.2" cy="453.3" r="9"/><circle cx="993" cy="440.9" r="9"/><circle cx="1004.6" cy="447.1" r="9"/><circle cx="983" cy="456" r="9"/><circle cx="989.1" cy="458.8" r="9"/><circle cx="980.8" cy="454" r="9"/><circle cx="997" cy="452.9" r="9"/><circle cx="980.9" cy="447.6" r="9"/><circle cx="992.6" cy="442.5" r="9"/><circle cx="982.2" cy="450.3" r="9"/><circle cx="989.1" cy="459.6" r="9"/><circle cx="985.9" cy="444.8" r="9"/><circle cx="1008.4" cy="438.8" r="9"/><circle cx="1007.2" cy="456.2" r="9"/><circle cx="1024.6" cy="438" r="9"/><circle cx="1012" cy="451.6" r="9"/><circle cx="1006.4" cy="436.5" r="9"/><circle cx="1009.7" cy="454.4" r="9"/><circle cx="1011.2" cy="453.7" r="9"/><circle cx="1009.1" cy="450.9" r="9"/><circle cx="1021.9" cy="451" r="9"/><circle cx="1009.4" cy="446.6" r="9"/><circle cx="1011.3" cy="443.1" r="9"/><circle cx="1013.3" cy="457.7" r="9"/><circle cx="1009.7" cy="444.9" r="9"/><circle cx="1024.5" cy="437" r="9"/><circle cx="1024.4" cy="457.6" r="9"/><circle cx="1020.5" cy="458.1" r="9"/><circle cx="1016.4" cy="454.5" r="9"/><circle cx="1029.9" cy="447.4" r="9"/><circle cx="1016.3" cy="458.8" r="9"/><circle cx="1022.4" cy="447.6" r="9"/><circle cx="1014.9" cy="452.9" r="9"/><circle cx="1029.3" cy="447.6" r="9"/><circle cx="1016.6" cy="447.7" r="9"/><circle cx="1006" cy="455.6" r="9"/><circle cx="1029.4" cy="452.4" r="9"/><circle cx="1032.1" cy="445.8" r="9"/><circle cx="1028.6" cy="441" r="9"/><circle cx="1028.4" cy="451.3" r="9"/><circle cx="1028.4" cy="439.9" r="9"/><circle cx="1024.2" cy="436" r="9"/><circle cx="866.8" cy="465" r="9"/><circle cx="868.3" cy="465.4" r="9"/><circle cx="860.5" cy="470.7" r="9"/><circle cx="870.9" cy="472.9" r="9"/><circle cx="860.7" cy="474.3" r="9"/><circle cx="872.6" cy="465.3" r="9"/><circle cx="858" cy="481.7" r="9"/><circle cx="892.2" cy="472.8" r="9"/><circle cx="883.8" cy="477.5" r="9"/><circle cx="903.4" cy="472.4" r="9"/><circle cx="892.6" cy="484.7" r="9"/><circle cx="882.1" cy="467.5" r="9"/><circle cx="890.5" cy="474.1" r="9"/><circle cx="885.3" cy="461.6" r="9"/><circle cx="928.8" cy="466" r="9"/><circle cx="917.4" cy="472.3" r="9"/><circle cx="927.5" cy="474.6" r="9"/><circle cx="928" cy="471.1" r="9"/><circle cx="911.7" cy="472" r="9"/><circle cx="913.2" cy="478.6" r="9"/><circle cx="909.3" cy="477.4" r="9"/><circle cx="928" cy="484.5" r="9"/><circle cx="911.7" cy="484.3" r="9"/><circle cx="927.6" cy="460.2" r="9"/><circle cx="912.3" cy="482.5" r="9"/><circle cx="911.7" cy="461.4" r="9"/><circle cx="947.3" cy="473.3" r="9"/><circle cx="940.3" cy="461.7" r="9"/><circle cx="948.1" cy="460.2" r="9"/><circle cx="944.5" cy="462.4" r="9"/><circle cx="941.4" cy="474.6" r="9"/><circle cx="936.2" cy="478.9" r="9"/><circle cx="936.4" cy="481.7" r="9"/><circle cx="939.8" cy="477.2" r="9"/><circle cx="941.3" cy="468" r="9"/><circle cx="932.3" cy="475.3" r="9"/><circle cx="931.3" cy="471.7" r="9"/><circle cx="940.2" cy="467.3" r="9"/><circle cx="967.2" cy="482" r="9"/><circle cx="974.9" cy="467.7" r="9"/><circle cx="969.9" cy="475.8" r="9"/><circle cx="973.1" cy="475.6" r="9"/><circle cx="956.6" cy="463.6" r="9"/><circle cx="974.7" cy="466.6" r="9"/><circle cx="969.2" cy="461.3" r="9"/><circle cx="969.5" cy="467.2" r="9"/><circle cx="956" cy="460.4" r="9"/><circle cx="961" cy="472.9" r="9"/><circle cx="973.8" cy="460.8" r="9"/><circle cx="967.7" cy="468.4" r="9"/><circle cx="970.2" cy="477.5" r="9"/><circle cx="957.1" cy="466.2" r="9"/><circle cx="976.7" cy="476.6" r="9"/><circle cx="959.2" cy="473.5" r="9"/><circle cx="964.1" cy="463.9" r="9"/><circle cx="965.2" cy="473.3" r="9"/><circle cx="971.4" cy="482.1" r="9"/><circle cx="961.8" cy="484.7" r="9"/><circle cx="964.2" cy="476.2" r="9"/><circle cx="964.9" cy="471.2" r="9"/><circle cx="972.2" cy="478.5" r="9"/><circle cx="956.7" cy="460.6" r="9"/><circle cx="987.9" cy="471.1" r="9"/><circle cx="1003.6" cy="467.5" r="9"/><circle cx="985.7" cy="470.8" r="9"/><circle cx="988.3" cy="470.3" r="9"/><circle cx="993.1" cy="462.8" r="9"/><circle cx="998.9" cy="475.8" r="9"/><circle cx="998.8" cy="471" r="9"/><circle cx="984.4" cy="478.6" r="9"/><circle cx="1001.8" cy="482.3" r="9"/><circle cx="998.1" cy="463.1" r="9"/><circle cx="987.3" cy="477.3" r="9"/><circle cx="981" cy="467.1" r="9"/><circle cx="989.7" cy="479.9" r="9"/><circle cx="980.7" cy="466.8" r="9"/><circle cx="995.9" cy="460.1" r="9"/><circle cx="987.7" cy="478.4" r="9"/><circle cx="991.6" cy="478.6" r="9"/><circle cx="986.1" cy="477.8" r="9"/><circle cx="983.9" cy="475.7" r="9"/><circle cx="999.7" cy="461.6" r="9"/><circle cx="987" cy="468.3" r="9"/><circle cx="1002.1" cy="461.7" r="9"/><circle cx="990.3" cy="484.9" r="9"/><circle cx="982.3" cy="483.9" r="9"/><circle cx="1018.6" cy="471.2" r="9"/><circle cx="1022.1" cy="467.1" r="9"/><circle cx="1016.8" cy="481.7" r="9"/><circle cx="1009.1" cy="482.4" r="9"/><circle cx="1007.4" cy="464.4" r="9"/><circle cx="1010.6" cy="473.5" r="9"/><circle cx="1012.8" cy="471.8" r="9"/><circle cx="1006.5" cy="467.5" r="9"/><circle cx="1005.1" cy="463" r="9"/><circle cx="1021.5" cy="473.9" r="9"/><circle cx="1016.6" cy="460.6" r="9"/><circle cx="1024" cy="462.5" r="9"/><circle cx="1022.5" cy="470.2" r="9"/><circle cx="1026.8" cy="462.4" r="9"/><circle cx="1013.8" cy="461" r="9"/><circle cx="1028.4" cy="475.4" r="9"/><circle cx="1013.5" cy="464" r="9"/><circle cx="1027.3" cy="468.9" r="9"/><circle cx="1008.1" cy="471.7" r="9"/><circle cx="1014.1" cy="480.5" r="9"/><circle cx="1006.5" cy="479.2" r="9"/><circle cx="1027.2" cy="461.5" r="9"/><circle cx="1022" cy="478.1" r="9"/><circle cx="1023.9" cy="481.7" r="9"/><circle cx="1029.7" cy="474.7" r="9"/><circle cx="1026.6" cy="463.3" r="9"/><circle cx="1028.1" cy="473.2" r="9"/><circle cx="1025.2" cy="478.2" r="9"/><circle cx="862.5" cy="505.6" r="9"/><circle cx="871.5" cy="502.6" r="9"/><circle cx="869.9" cy="486.7" r="9"/><circle cx="871.2" cy="506.7" r="9"/><circle cx="871.7" cy="506.1" r="9"/><circle cx="858.6" cy="496.4" r="9"/><circle cx="882.1" cy="490.1" r="9"/><circle cx="882.1" cy="491.4" r="9"/><circle cx="890.3" cy="508.1" r="9"/><circle cx="897.4" cy="507.7" r="9"/><circle cx="880.7" cy="495.6" r="9"/><circle cx="898.1" cy="507.6" r="9"/><circle cx="927.8" cy="489.7" r="9"/><circle cx="911.7" cy="495.6" r="9"/><circle cx="911.7" cy="485.8" r="9"/><circle cx="922" cy="501.1" r="9"/><circle cx="914.2" cy="491.9" r="9"/><circle cx="909.2" cy="499.9" r="9"/><circle cx="911.7" cy="504" r="9"/><circle cx="911.7" cy="505.9" r="9"/><circle cx="911.7" cy="508.3" r="9"/><circle cx="924.9" cy="490.1" r="9"/><circle cx="922.4" cy="495" r="9"/><circle cx="919.8" cy="506" r="9"/><circle cx="950.5" cy="497.5" r="9"/><circle cx="932.5" cy="500.8" r="9"/><circle cx="954.3" cy="490.4" r="9"/><circle cx="933.4" cy="489.8" r="9"/><circle cx="932.2" cy="497.8" r="9"/><circle cx="935" cy="507.1" r="9"/><circle cx="952.3" cy="506.8" r="9"/><circle cx="943.3" cy="496.2" r="9"/><circle cx="946.7" cy="495.1" r="9"/><circle cx="944.1" cy="486.6" r="9"/><circle cx="943.7" cy="499" r="9"/><circle cx="935.4" cy="489.5" r="9"/><circle cx="977.5" cy="509.8" r="9"/><circle cx="972.7" cy="493.2" r="9"/><circle cx="963.2" cy="508.1" r="9"/><circle cx="961.7" cy="499.9" r="9"/><circle cx="973" cy="492" r="9"/><circle cx="978.2" cy="491.3" r="9"/><circle cx="979.8" cy="502.6" r="9"/><circle cx="968.2" cy="499.4" r="9"/><circle cx="977.3" cy="506.4" r="9"/><circle cx="956.1" cy="493" r="9"/><circle cx="955.2" cy="495.6" r="9"/><circle cx="972.6" cy="494.7" r="9"/><circle cx="969.1" cy="489.1" r="9"/><circle cx="960.1" cy="493.3" r="9"/><circle cx="961.4" cy="502.8" r="9"/><circle cx="974.5" cy="492.7" r="9"/><circle cx="975.9" cy="493.8" r="9"/><circle cx="975.8" cy="502.5" r="9"/><circle cx="967.5" cy="504.2" r="9"/><circle cx="974.7" cy="490.5" r="9"/><circle cx="977.5" cy="493.5" r="9"/><circle cx="956.6" cy="509.8" r="9"/><circle cx="979.8" cy="501.6" r="9"/><circle cx="956.1" cy="485.3" r="9"/><circle cx="997.3" cy="506" r="9"/><circle cx="1004" cy="500.7" r="9"/><circle cx="1000.3" cy="494.1" r="9"/><circle cx="990.2" cy="500.4" r="9"/><circle cx="987.7" cy="501.4" r="9"/><circle cx="1002.1" cy="496.2" r="9"/><circle cx="1002.3" cy="504.1" r="9"/><circle cx="986.5" cy="486.7" r="9"/><circle cx="987.9" cy="499.9" r="9"/><circle cx="994.5" cy="489.1" r="9"/><circle cx="997.1" cy="493" r="9"/><circle cx="989.6" cy="487.8" r="9"/><circle cx="997.7" cy="491.2" r="9"/><circle cx="985.1" cy="507.4" r="9"/><circle cx="988.3" cy="505.2" r="9"/><circle cx="981.5" cy="497.6" r="9"/><circle cx="996.1" cy="502.6" r="9"/><circle cx="991.6" cy="489.3" r="9"/><circle cx="993.6" cy="507.1" r="9"/><circle cx="987.4" cy="495.2" r="9"/><circle cx="996.6" cy="493.8" r="9"/><circle cx="996.2" cy="495.4" r="9"/><circle cx="984.1" cy="497" r="9"/><circle cx="981.5" cy="487" r="9"/><circle cx="1013.5" cy="505.1" r="9"/><circle cx="1006.3" cy="493.7" r="9"/><circle cx="1020.1" cy="499.3" r="9"/><circle cx="1020.5" cy="499.4" r="9"/><circle cx="1029.1" cy="490.6" r="9"/><circle cx="1017.7" cy="486.9" r="9"/><circle cx="1024.1" cy="498.7" r="9"/><circle cx="1029.1" cy="487.9" r="9"/><circle cx="1018.4" cy="491.7" r="9"/><circle cx="1015.5" cy="508.2" r="9"/><circle cx="1010.7" cy="488.3" r="9"/><circle cx="1015.1" cy="491.8" r="9"/><circle cx="1024.3" cy="502.8" r="9"/><circle cx="1011.6" cy="506" r="9"/><circle cx="1010.9" cy="486.6" r="9"/><circle cx="1009.3" cy="499.4" r="9"/><circle cx="1024.3" cy="502.9" r="9"/><circle cx="1009" cy="494.8" r="9"/><circle cx="1025.5" cy="500.9" r="9"/><circle cx="1024.2" cy="488.8" r="9"/><circle cx="1025.1" cy="489.3" r="9"/><circle cx="1005.8" cy="497" r="9"/><circle cx="1021.2" cy="500.8" r="9"/><circle cx="1017.2" cy="489.6" r="9"/><circle cx="1027.1" cy="485" r="9"/><circle cx="1023.9" cy="494.6" r="9"/><circle cx="1031" cy="509.3" r="9"/><circle cx="879" cy="516.4" r="9"/><circle cx="879.9" cy="524.8" r="9"/><circle cx="871.1" cy="515.9" r="9"/><circle cx="878.1" cy="513.6" r="9"/><circle cx="872.3" cy="533.2" r="9"/><circle cx="875.1" cy="515.3" r="9"/><circle cx="904.9" cy="530" r="9"/><circle cx="885.5" cy="515.3" r="9"/><circle cx="882.1" cy="521.9" r="9"/><circle cx="882.1" cy="532.6" r="9"/><circle cx="888.5" cy="516.4" r="9"/><circle cx="882.1" cy="515.2" r="9"/><circle cx="911.7" cy="527.6" r="9"/><circle cx="911.7" cy="524" r="9"/><circle cx="913.3" cy="525.8" r="9"/><circle cx="911.7" cy="532.4" r="9"/><circle cx="916.1" cy="533.1" r="9"/><circle cx="916.4" cy="514.7" r="9"/><circle cx="911.7" cy="517.8" r="9"/><circle cx="911.7" cy="531.7" r="9"/><circle cx="926.5" cy="522.1" r="9"/><circle cx="914.3" cy="513.4" r="9"/><circle cx="911.7" cy="517.7" r="9"/><circle cx="912.2" cy="523.1" r="9"/><circle cx="933.5" cy="524.5" r="9"/><circle cx="952.6" cy="528.9" r="9"/><circle cx="943.5" cy="516.2" r="9"/><circle cx="947.9" cy="516" r="9"/><circle cx="951.2" cy="516.9" r="9"/><circle cx="934.8" cy="529.5" r="9"/><circle cx="935.3" cy="517" r="9"/><circle cx="947.4" cy="519.6" r="9"/><circle cx="939.9" cy="532.9" r="9"/><circle cx="951.7" cy="534.8" r="9"/><circle cx="944" cy="519.4" r="9"/><circle cx="944.7" cy="520.2" r="9"/><circle cx="954.1" cy="516.6" r="9"/><circle cx="950.7" cy="529.7" r="9"/><circle cx="937" cy="529.5" r="9"/><circle cx="947.3" cy="529.9" r="9"/><circle cx="942.9" cy="513.6" r="9"/><circle cx="942.1" cy="533.9" r="9"/><circle cx="952.7" cy="518" r="9"/><circle cx="946.2" cy="510.7" r="9"/><circle cx="948" cy="524.6" r="9"/><circle cx="939.7" cy="516.8" r="9"/><circle cx="932.1" cy="516" r="9"/><circle cx="940.7" cy="520.6" r="9"/><circle cx="972.4" cy="510.3" r="9"/><circle cx="959.5" cy="517.1" r="9"/><circle cx="959.4" cy="530.3" r="9"/><circle cx="978.8" cy="521.8" r="9"/><circle cx="963.4" cy="531.1" r="9"/><circle cx="973.9" cy="526.3" r="9"/><circle cx="978.1" cy="511.8" r="9"/><circle cx="969.8" cy="516.7" r="9"/><circle cx="979.2" cy="511.6" r="9"/><circle cx="977.1" cy="532.9" r="9"/><circle cx="956.4" cy="532.1" r="9"/><circle cx="967.6" cy="532.5" r="9"/><circle cx="966.7" cy="534.5" r="9"/><circle cx="962.9" cy="514.8" r="9"/><circle cx="970.8" cy="534.4" r="9"/><circle cx="961.4" cy="527.2" r="9"/><circle cx="961.6" cy="519.3" r="9"/><circle cx="970.4" cy="529.2" r="9"/><circle cx="967.4" cy="533.3" r="9"/><circle cx="971.4" cy="510.9" r="9"/><circle cx="970.4" cy="510.9" r="9"/><circle cx="961" cy="523.4" r="9"/><circle cx="965.2" cy="527.2" r="9"/><circle cx="965.2" cy="530.2" r="9"/><circle cx="994.8" cy="525.4" r="9"/><circle cx="992.6" cy="523.3" r="9"/><circle cx="980.2" cy="513.7" r="9"/><circle cx="987.8" cy="515.7" r="9"/><circle cx="984.8" cy="527.3" r="9"/><circle cx="991.1" cy="514" r="9"/><circle cx="996.4" cy="514.4" r="9"/><circle cx="987.5" cy="515" r="9"/><circle cx="996.9" cy="522.6" r="9"/><circle cx="980.3" cy="527.6" r="9"/><circle cx="984.5" cy="516.5" r="9"/><circle cx="982.6" cy="524.9" r="9"/><circle cx="993.9" cy="516.3" r="9"/><circle cx="1004.9" cy="520" r="9"/><circle cx="983.3" cy="530" r="9"/><circle cx="992.8" cy="521.6" r="9"/><circle cx="995.1" cy="521.8" r="9"/><circle cx="990.8" cy="511.1" r="9"/><circle cx="999.9" cy="523.8" r="9"/><circle cx="997.8" cy="511.5" r="9"/><circle cx="991.8" cy="518.6" r="9"/><circle cx="993.1" cy="527.4" r="9"/><circle cx="986.4" cy="528.4" r="9"/><circle cx="997.4" cy="511.8" r="9"/><circle cx="1020.6" cy="516.7" r="9"/><circle cx="1027.3" cy="511.1" r="9"/><circle cx="1019.4" cy="531.3" r="9"/><circle cx="1023.1" cy="532.8" r="9"/><circle cx="1017.1" cy="532.9" r="9"/><circle cx="1006.2" cy="530.6" r="9"/><circle cx="1009.8" cy="526.2" r="9"/><circle cx="1029.8" cy="522.5" r="9"/><circle cx="1026.1" cy="527" r="9"/><circle cx="1026.1" cy="510.1" r="9"/><circle cx="1017.2" cy="526.3" r="9"/><circle cx="1023.1" cy="533.5" r="9"/><circle cx="1009.5" cy="523.1" r="9"/><circle cx="1020.5" cy="520" r="9"/><circle cx="1028" cy="522.6" r="9"/><circle cx="1006.8" cy="526" r="9"/><circle cx="1023.6" cy="527.5" r="9"/><circle cx="1017.2" cy="521.7" r="9"/><circle cx="1026.4" cy="527.6" r="9"/><circle cx="1022.6" cy="530.5" r="9"/><circle cx="1007.6" cy="527.5" r="9"/><circle cx="1026.4" cy="528.3" r="9"/><circle cx="1028.6" cy="519.9" r="9"/><circle cx="1023.9" cy="529.1" r="9"/><circle cx="1027.7" cy="522" r="9"/><circle cx="1033.8" cy="515.5" r="9"/><circle cx="1024.8" cy="514.2" r="9"/><circle cx="763.9" cy="545" r="9"/><circle cx="771" cy="545.8" r="9"/><circle cx="782.3" cy="544.2" r="9"/><circle cx="806" cy="550.6" r="9"/><circle cx="822.6" cy="557.7" r="9"/><circle cx="806" cy="541.9" r="9"/><circle cx="847.2" cy="536.4" r="9"/><circle cx="836.1" cy="536.8" r="9"/><circle cx="832.9" cy="558.7" r="9"/><circle cx="837.7" cy="540.2" r="9"/><circle cx="848.2" cy="559" r="9"/><circle cx="837.7" cy="552.1" r="9"/><circle cx="861.9" cy="545.7" r="9"/><circle cx="875" cy="546.7" r="9"/><circle cx="878.3" cy="558.4" r="9"/><circle cx="870.1" cy="538" r="9"/><circle cx="858.3" cy="548.5" r="9"/><circle cx="875.7" cy="560" r="9"/><circle cx="872.9" cy="535" r="9"/><circle cx="883.2" cy="552.5" r="9"/><circle cx="886.8" cy="549.3" r="9"/><circle cx="895.1" cy="543.4" r="9"/><circle cx="903" cy="548.8" r="9"/><circle cx="882.1" cy="549.3" r="9"/><circle cx="881.9" cy="556.6" r="9"/><circle cx="885.4" cy="540.6" r="9"/><circle cx="882.1" cy="556.2" r="9"/><circle cx="890.4" cy="559.7" r="9"/><circle cx="882.1" cy="535.1" r="9"/><circle cx="899" cy="539.5" r="9"/><circle cx="882" cy="548.9" r="9"/><circle cx="926.5" cy="556.2" r="9"/><circle cx="911.7" cy="545.5" r="9"/><circle cx="911.7" cy="549.6" r="9"/><circle cx="923.3" cy="542.6" r="9"/><circle cx="922.3" cy="538.8" r="9"/><circle cx="911.7" cy="548.9" r="9"/><circle cx="910.7" cy="545.3" r="9"/><circle cx="916.9" cy="536.7" r="9"/><circle cx="923.4" cy="541.2" r="9"/><circle cx="926.2" cy="553.5" r="9"/><circle cx="911.7" cy="542.9" r="9"/><circle cx="911.7" cy="556.7" r="9"/><circle cx="948.7" cy="535.3" r="9"/><circle cx="948.6" cy="538.5" r="9"/><circle cx="934.6" cy="546.6" r="9"/><circle cx="945.2" cy="541.4" r="9"/><circle cx="951.6" cy="553.3" r="9"/><circle cx="954.1" cy="538.6" r="9"/><circle cx="941.8" cy="544.2" r="9"/><circle cx="939.9" cy="537.5" r="9"/><circle cx="952.6" cy="538.1" r="9"/><circle cx="931.3" cy="535.4" r="9"/><circle cx="949.8" cy="556.7" r="9"/><circle cx="938.1" cy="539.8" r="9"/><circle cx="937" cy="545.8" r="9"/><circle cx="945.3" cy="541.7" r="9"/><circle cx="948.5" cy="553.4" r="9"/><circle cx="953.2" cy="558.5" r="9"/><circle cx="948.6" cy="558.5" r="9"/><circle cx="949.5" cy="544.7" r="9"/><circle cx="930.6" cy="540.4" r="9"/><circle cx="953.6" cy="551.5" r="9"/><circle cx="950.5" cy="536.4" r="9"/><circle cx="949.6" cy="542" r="9"/><circle cx="937.4" cy="545.9" r="9"/><circle cx="950.8" cy="552.7" r="9"/><circle cx="955.1" cy="545.9" r="9"/><circle cx="970.5" cy="546.2" r="9"/><circle cx="964.7" cy="557.4" r="9"/><circle cx="967.7" cy="538.8" r="9"/><circle cx="964.7" cy="544.9" r="9"/><circle cx="962.1" cy="537.5" r="9"/><circle cx="975.9" cy="552.5" r="9"/><circle cx="979.3" cy="552.2" r="9"/><circle cx="967.5" cy="558" r="9"/><circle cx="970.4" cy="557.1" r="9"/><circle cx="977.2" cy="547.1" r="9"/><circle cx="960.3" cy="543.6" r="9"/><circle cx="977.1" cy="545.5" r="9"/><circle cx="964.9" cy="540.5" r="9"/><circle cx="974.3" cy="535" r="9"/><circle cx="976.7" cy="539" r="9"/><circle cx="960.3" cy="541.9" r="9"/><circle cx="965.7" cy="549.6" r="9"/><circle cx="973.7" cy="547.1" r="9"/><circle cx="971.9" cy="536" r="9"/><circle cx="970.4" cy="549.6" r="9"/><circle cx="956.9" cy="559.2" r="9"/><circle cx="969.9" cy="547" r="9"/><circle cx="960.2" cy="548" r="9"/><circle cx="997.4" cy="537.2" r="9"/><circle cx="987.8" cy="558" r="9"/><circle cx="982.7" cy="550.7" r="9"/><circle cx="1001.7" cy="552" r="9"/><circle cx="995.8" cy="535.9" r="9"/><circle cx="987.1" cy="540.9" r="9"/><circle cx="986.5" cy="551.6" r="9"/><circle cx="988" cy="535.4" r="9"/><circle cx="981.3" cy="545.3" r="9"/><circle cx="990.8" cy="548.9" r="9"/><circle cx="987.9" cy="555" r="9"/><circle cx="1003.2" cy="557.4" r="9"/><circle cx="1003.5" cy="544.4" r="9"/><circle cx="991.2" cy="556.9" r="9"/><circle cx="984.2" cy="557.5" r="9"/><circle cx="1000.4" cy="542.7" r="9"/><circle cx="980.1" cy="548.2" r="9"/><circle cx="984.9" cy="539.7" r="9"/><circle cx="989.6" cy="545.2" r="9"/><circle cx="998.6" cy="552.4" r="9"/><circle cx="1000.1" cy="554.5" r="9"/><circle cx="990" cy="543.7" r="9"/><circle cx="989.5" cy="548.1" r="9"/><circle cx="992.1" cy="549.2" r="9"/><circle cx="1013.9" cy="549" r="9"/><circle cx="1009.8" cy="549.2" r="9"/><circle cx="1019.6" cy="551.9" r="9"/><circle cx="1016.3" cy="538.4" r="9"/><circle cx="1013.8" cy="541.9" r="9"/><circle cx="1009.7" cy="558.1" r="9"/><circle cx="1022.6" cy="558.5" r="9"/><circle cx="1028.6" cy="541.8" r="9"/><circle cx="1012.6" cy="547.4" r="9"/><circle cx="1015.2" cy="545.5" r="9"/><circle cx="1007.1" cy="558.1" r="9"/><circle cx="1026.5" cy="549.6" r="9"/><circle cx="1014.5" cy="549.9" r="9"/><circle cx="1018.5" cy="544.5" r="9"/><circle cx="1023.2" cy="541.4" r="9"/><circle cx="1014.1" cy="555.7" r="9"/><circle cx="1022.9" cy="540" r="9"/><circle cx="1013.3" cy="548" r="9"/><circle cx="1009" cy="553.5" r="9"/><circle cx="1020.5" cy="544.1" r="9"/><circle cx="1013.3" cy="539.7" r="9"/><circle cx="1009.8" cy="549.3" r="9"/><circle cx="1018.6" cy="556" r="9"/><circle cx="1025" cy="553.3" r="9"/><circle cx="1023.5" cy="546" r="9"/><circle cx="1033.4" cy="554.6" r="9"/><circle cx="775.9" cy="566.4" r="9"/><circle cx="779.3" cy="574.8" r="9"/><circle cx="775.8" cy="580.1" r="9"/><circle cx="766.7" cy="581.8" r="9"/><circle cx="792.4" cy="574.9" r="9"/><circle cx="793.3" cy="565.7" r="9"/><circle cx="780.8" cy="582.2" r="9"/><circle cx="827.2" cy="582.6" r="9"/><circle cx="824.4" cy="565.2" r="9"/><circle cx="809.3" cy="567.7" r="9"/><circle cx="820.9" cy="568.1" r="9"/><circle cx="853.3" cy="584.7" r="9"/><circle cx="837.7" cy="579.8" r="9"/><circle cx="837.7" cy="564.9" r="9"/><circle cx="837.7" cy="567.7" r="9"/><circle cx="833.8" cy="569.1" r="9"/><circle cx="837.7" cy="577.9" r="9"/><circle cx="837.7" cy="572.2" r="9"/><circle cx="869.8" cy="572.8" r="9"/><circle cx="876.5" cy="574.7" r="9"/><circle cx="877.5" cy="576.1" r="9"/><circle cx="873.1" cy="573.2" r="9"/><circle cx="857.8" cy="574.6" r="9"/><circle cx="876.9" cy="578.8" r="9"/><circle cx="882.1" cy="581.5" r="9"/><circle cx="882.1" cy="560.3" r="9"/><circle cx="882.1" cy="565.2" r="9"/><circle cx="882.1" cy="579.6" r="9"/><circle cx="901.8" cy="569.1" r="9"/><circle cx="882.1" cy="567.2" r="9"/><circle cx="882.1" cy="579.2" r="9"/><circle cx="893.6" cy="573.8" r="9"/><circle cx="897.4" cy="580.8" r="9"/><circle cx="891.1" cy="572.5" r="9"/><circle cx="884.1" cy="561.9" r="9"/><circle cx="891" cy="564.3" r="9"/><circle cx="911.7" cy="570.8" r="9"/><circle cx="928.2" cy="579" r="9"/><circle cx="920.9" cy="560.5" r="9"/><circle cx="911.7" cy="571" r="9"/><circle cx="922.9" cy="583" r="9"/><circle cx="916.7" cy="563.5" r="9"/><circle cx="911.7" cy="564.8" r="9"/><circle cx="921.7" cy="579.7" r="9"/><circle cx="911.7" cy="571.9" r="9"/><circle cx="912.9" cy="573.4" r="9"/><circle cx="911.7" cy="576.2" r="9"/><circle cx="922.2" cy="561" r="9"/><circle cx="939.1" cy="565.8" r="9"/><circle cx="954.7" cy="573.1" r="9"/><circle cx="947.7" cy="572.3" r="9"/><circle cx="952.3" cy="564.1" r="9"/><circle cx="942.1" cy="577.5" r="9"/><circle cx="934.3" cy="563.6" r="9"/><circle cx="942.2" cy="573.4" r="9"/><circle cx="951.8" cy="576.1" r="9"/><circle cx="935.9" cy="568.2" r="9"/><circle cx="950.8" cy="564.1" r="9"/><circle cx="937.8" cy="568" r="9"/><circle cx="945" cy="577.9" r="9"/><circle cx="933.9" cy="570.9" r="9"/><circle cx="951.5" cy="576.4" r="9"/><circle cx="951.5" cy="581.3" r="9"/><circle cx="943.1" cy="566.9" r="9"/><circle cx="937.9" cy="573.2" r="9"/><circle cx="952.6" cy="567" r="9"/><circle cx="949.7" cy="566.4" r="9"/><circle cx="935.9" cy="561.4" r="9"/><circle cx="939.8" cy="580.2" r="9"/><circle cx="940.4" cy="575.5" r="9"/><circle cx="932.2" cy="567.8" r="9"/><circle cx="943.1" cy="560.3" r="9"/><circle cx="975.4" cy="562.5" r="9"/><circle cx="974.7" cy="575.9" r="9"/><circle cx="960.8" cy="564.5" r="9"/><circle cx="971.7" cy="574.2" r="9"/><circle cx="963.6" cy="580.2" r="9"/><circle cx="968.6" cy="583.2" r="9"/><circle cx="963.6" cy="571.1" r="9"/><circle cx="975.8" cy="567.7" r="9"/><circle cx="974.1" cy="579.5" r="9"/><circle cx="971.4" cy="575.1" r="9"/><circle cx="976.7" cy="564.3" r="9"/><circle cx="979" cy="581.7" r="9"/><circle cx="963.7" cy="560.1" r="9"/><circle cx="980" cy="582.3" r="9"/><circle cx="971" cy="584.4" r="9"/><circle cx="958.9" cy="567.6" r="9"/><circle cx="964.9" cy="564.1" r="9"/><circle cx="959.4" cy="581.5" r="9"/><circle cx="967.8" cy="570.2" r="9"/><circle cx="965.2" cy="577.5" r="9"/><circle cx="972.6" cy="570" r="9"/><circle cx="957.6" cy="568.1" r="9"/><circle cx="962.5" cy="564.5" r="9"/><circle cx="969.7" cy="583.9" r="9"/><circle cx="981.3" cy="563.5" r="9"/><circle cx="1003.4" cy="584.4" r="9"/><circle cx="989.5" cy="571.4" r="9"/><circle cx="986.7" cy="577" r="9"/><circle cx="1002.7" cy="574.6" r="9"/><circle cx="997.7" cy="560.3" r="9"/><circle cx="1001.5" cy="573.8" r="9"/><circle cx="981" cy="568.4" r="9"/><circle cx="998.4" cy="565.1" r="9"/><circle cx="1000.1" cy="575.3" r="9"/><circle cx="996.1" cy="582.3" r="9"/><circle cx="1002.8" cy="567.9" r="9"/><circle cx="983.4" cy="577.4" r="9"/><circle cx="998.7" cy="566.9" r="9"/><circle cx="990.2" cy="581.3" r="9"/><circle cx="984.2" cy="562.5" r="9"/><circle cx="1003.5" cy="560.3" r="9"/><circle cx="985.3" cy="560.5" r="9"/><circle cx="991.3" cy="577.4" r="9"/><circle cx="985.5" cy="563.2" r="9"/><circle cx="992.6" cy="565.3" r="9"/><circle cx="994.3" cy="570.7" r="9"/><circle cx="986.6" cy="580.4" r="9"/><circle cx="986.6" cy="574" r="9"/><circle cx="1026.8" cy="564.6" r="9"/><circle cx="1021.5" cy="584.8" r="9"/><circle cx="1010.5" cy="577.4" r="9"/><circle cx="1006.8" cy="583" r="9"/><circle cx="1021.5" cy="577.7" r="9"/><circle cx="1006" cy="569.6" r="9"/><circle cx="1019.9" cy="566.4" r="9"/><circle cx="1023.9" cy="574.2" r="9"/><circle cx="1010.3" cy="581.7" r="9"/><circle cx="1021.1" cy="566.2" r="9"/><circle cx="1013.7" cy="576.7" r="9"/><circle cx="1021" cy="570.8" r="9"/><circle cx="1021.6" cy="561.5" r="9"/><circle cx="1010.7" cy="562.4" r="9"/><circle cx="1022.2" cy="578" r="9"/><circle cx="1022.7" cy="575.7" r="9"/><circle cx="1013.4" cy="572.7" r="9"/><circle cx="1015.7" cy="563.6" r="9"/><circle cx="1025.3" cy="563.3" r="9"/><circle cx="1012" cy="578.6" r="9"/><circle cx="1026.6" cy="562.4" r="9"/><circle cx="1024.2" cy="566" r="9"/><circle cx="1027.8" cy="562.5" r="9"/><circle cx="1029.8" cy="567" r="9"/><circle cx="1032.4" cy="568.4" r="9"/><circle cx="1022.4" cy="567.6" r="9"/><circle cx="767.2" cy="599.1" r="9"/><circle cx="763.6" cy="599.1" r="9"/><circle cx="793.3" cy="589.7" r="9"/><circle cx="792.3" cy="591.6" r="9"/><circle cx="806.3" cy="608.9" r="9"/><circle cx="806" cy="596.6" r="9"/><circle cx="839" cy="593.4" r="9"/><circle cx="837.7" cy="609.3" r="9"/><circle cx="831.3" cy="608.3" r="9"/><circle cx="833.6" cy="593.2" r="9"/><circle cx="853.4" cy="604.5" r="9"/><circle cx="837.7" cy="597.1" r="9"/><circle cx="844.8" cy="598.4" r="9"/><circle cx="859.2" cy="588.3" r="9"/><circle cx="860.6" cy="602.4" r="9"/><circle cx="868.7" cy="597" r="9"/><circle cx="868.9" cy="589.1" r="9"/><circle cx="859.2" cy="600.4" r="9"/><circle cx="879.3" cy="589.7" r="9"/><circle cx="868.3" cy="590.1" r="9"/><circle cx="899.5" cy="605.2" r="9"/><circle cx="881.7" cy="593.9" r="9"/><circle cx="892" cy="602.8" r="9"/><circle cx="897.8" cy="589.5" r="9"/><circle cx="898.5" cy="591" r="9"/><circle cx="882.1" cy="593.1" r="9"/><circle cx="886.2" cy="594.5" r="9"/><circle cx="885.4" cy="607.2" r="9"/><circle cx="903.8" cy="600.5" r="9"/><circle cx="882.1" cy="586.7" r="9"/><circle cx="882.1" cy="598.8" r="9"/><circle cx="900.4" cy="608" r="9"/><circle cx="915.9" cy="588.8" r="9"/><circle cx="911.7" cy="604.5" r="9"/><circle cx="913.9" cy="588" r="9"/><circle cx="911.7" cy="596.5" r="9"/><circle cx="911.7" cy="606.4" r="9"/><circle cx="911.7" cy="597.2" r="9"/><circle cx="922.7" cy="590" r="9"/><circle cx="913.4" cy="595" r="9"/><circle cx="911.7" cy="605.6" r="9"/><circle cx="908.4" cy="597" r="9"/><circle cx="910.3" cy="606.1" r="9"/><circle cx="924.4" cy="603.5" r="9"/><circle cx="940.3" cy="605.9" r="9"/><circle cx="947.5" cy="603.9" r="9"/><circle cx="945.4" cy="594.5" r="9"/><circle cx="950.9" cy="588.4" r="9"/><circle cx="951.3" cy="605.8" r="9"/><circle cx="942.1" cy="599.8" r="9"/><circle cx="947.9" cy="585.5" r="9"/><circle cx="934" cy="605.1" r="9"/><circle cx="937.2" cy="595.2" r="9"/><circle cx="949.3" cy="602.1" r="9"/><circle cx="931.4" cy="594.9" r="9"/><circle cx="935.7" cy="596.2" r="9"/><circle cx="939.8" cy="594.1" r="9"/><circle cx="949.5" cy="596.9" r="9"/><circle cx="945.8" cy="590.2" r="9"/><circle cx="937.7" cy="596.7" r="9"/><circle cx="945.1" cy="595.7" r="9"/><circle cx="949.5" cy="594.1" r="9"/><circle cx="935.9" cy="592.6" r="9"/><circle cx="941.9" cy="606.2" r="9"/><circle cx="948.6" cy="590.4" r="9"/><circle cx="954.1" cy="607.2" r="9"/><circle cx="946" cy="597.9" r="9"/><circle cx="951.8" cy="601.9" r="9"/><circle cx="956.1" cy="598.1" r="9"/><circle cx="976.1" cy="595.5" r="9"/><circle cx="978.5" cy="594.3" r="9"/><circle cx="965.6" cy="605" r="9"/><circle cx="965.9" cy="589.9" r="9"/><circle cx="970.5" cy="587.3" r="9"/><circle cx="957.7" cy="600.6" r="9"/><circle cx="968.4" cy="588" r="9"/><circle cx="965.3" cy="585.4" r="9"/><circle cx="976.4" cy="606.3" r="9"/><circle cx="957.1" cy="593.9" r="9"/><circle cx="961.2" cy="601.3" r="9"/><circle cx="967.8" cy="598.9" r="9"/><circle cx="976.5" cy="599.3" r="9"/><circle cx="969.3" cy="603.2" r="9"/><circle cx="960.8" cy="603.6" r="9"/><circle cx="978.2" cy="600.4" r="9"/><circle cx="977.8" cy="592.9" r="9"/><circle cx="962.9" cy="599.2" r="9"/><circle cx="956.5" cy="598.1" r="9"/><circle cx="957.6" cy="599.8" r="9"/><circle cx="978.7" cy="585.5" r="9"/><circle cx="963.4" cy="585.4" r="9"/><circle cx="963.6" cy="593.5" r="9"/><circle cx="983.6" cy="600.5" r="9"/><circle cx="992.1" cy="602.2" r="9"/><circle cx="988.9" cy="602.8" r="9"/><circle cx="996" cy="604.3" r="9"/><circle cx="987.5" cy="597.3" r="9"/><circle cx="981.8" cy="593" r="9"/><circle cx="992.6" cy="605.7" r="9"/><circle cx="1003.2" cy="603.5" r="9"/><circle cx="987" cy="595.1" r="9"/><circle cx="998.8" cy="607.4" r="9"/><circle cx="1003.4" cy="594.3" r="9"/><circle cx="988.3" cy="603.6" r="9"/><circle cx="992.5" cy="606" r="9"/><circle cx="990.9" cy="588.8" r="9"/><circle cx="989.7" cy="598.7" r="9"/><circle cx="997.9" cy="594.4" r="9"/><circle cx="1004.3" cy="588.6" r="9"/><circle cx="989.9" cy="590" r="9"/><circle cx="984.1" cy="606.5" r="9"/><circle cx="1002.9" cy="608.8" r="9"/><circle cx="993.9" cy="586.1" r="9"/><circle cx="981" cy="591" r="9"/><circle cx="1003.8" cy="593.3" r="9"/><circle cx="1003.7" cy="594.5" r="9"/><circle cx="1024.6" cy="603.2" r="9"/><circle cx="1019.6" cy="598.8" r="9"/><circle cx="1022.5" cy="589.3" r="9"/><circle cx="1013.6" cy="594.8" r="9"/><circle cx="1008.1" cy="600.6" r="9"/><circle cx="1018.8" cy="588.8" r="9"/><circle cx="1026.7" cy="587.1" r="9"/><circle cx="1014.4" cy="590" r="9"/><circle cx="1024.1" cy="589.6" r="9"/><circle cx="1006.7" cy="605.4" r="9"/><circle cx="1014.1" cy="603.7" r="9"/><circle cx="1022.8" cy="606.8" r="9"/><circle cx="1013.7" cy="605.1" r="9"/><circle cx="1018" cy="605.5" r="9"/><circle cx="1011.9" cy="587.8" r="9"/><circle cx="1021" cy="607.9" r="9"/><circle cx="1012.7" cy="598.9" r="9"/><circle cx="1019.5" cy="587" r="9"/><circle cx="1020.5" cy="604.6" r="9"/><circle cx="1012.7" cy="585.3" r="9"/><circle cx="1013.5" cy="595.4" r="9"/><circle cx="1020.1" cy="589.5" r="9"/><circle cx="1006.2" cy="607.2" r="9"/><circle cx="1018.8" cy="595.7" r="9"/><circle cx="1021.3" cy="602.1" r="9"/><circle cx="1032.6" cy="594.9" r="9"/><circle cx="1026" cy="608.1" r="9"/><circle cx="767.4" cy="622.5" r="9"/><circle cx="769.5" cy="626.8" r="9"/><circle cx="763.6" cy="629" r="9"/><circle cx="784" cy="628.8" r="9"/><circle cx="801.9" cy="629.7" r="9"/><circle cx="804.3" cy="623.4" r="9"/><circle cx="806" cy="610.8" r="9"/><circle cx="806" cy="625.6" r="9"/><circle cx="816.9" cy="632.9" r="9"/><circle cx="806" cy="627.4" r="9"/><circle cx="837.7" cy="617.7" r="9"/><circle cx="843.2" cy="627.6" r="9"/><circle cx="837.7" cy="630.7" r="9"/><circle cx="844.4" cy="630.8" r="9"/><circle cx="846.2" cy="634.8" r="9"/><circle cx="851.8" cy="623.3" r="9"/><circle cx="864" cy="620.5" r="9"/><circle cx="872" cy="632.8" r="9"/><circle cx="876.3" cy="631.9" r="9"/><circle cx="871.2" cy="632.9" r="9"/><circle cx="879.8" cy="613.9" r="9"/><circle cx="862.1" cy="618.1" r="9"/><circle cx="902.1" cy="625.8" r="9"/><circle cx="882.1" cy="619.7" r="9"/><circle cx="901.7" cy="613.6" r="9"/><circle cx="900.1" cy="629.9" r="9"/><circle cx="904.9" cy="628.4" r="9"/><circle cx="904.6" cy="623" r="9"/><circle cx="894.2" cy="629.4" r="9"/><circle cx="880.6" cy="613" r="9"/><circle cx="881.3" cy="620.9" r="9"/><circle cx="901.5" cy="615.5" r="9"/><circle cx="901.2" cy="620.8" r="9"/><circle cx="883.5" cy="627.8" r="9"/><circle cx="917.4" cy="619.5" r="9"/><circle cx="911.7" cy="615.1" r="9"/><circle cx="911.5" cy="617.9" r="9"/><circle cx="926.8" cy="615.4" r="9"/><circle cx="911.7" cy="633.1" r="9"/><circle cx="916.3" cy="612" r="9"/><circle cx="911.7" cy="614.7" r="9"/><circle cx="911.7" cy="618.2" r="9"/><circle cx="924.1" cy="634.2" r="9"/><circle cx="911.7" cy="615.9" r="9"/><circle cx="911.7" cy="614.5" r="9"/><circle cx="920.4" cy="614.2" r="9"/><circle cx="916.6" cy="622.1" r="9"/><circle cx="926.5" cy="630.5" r="9"/><circle cx="924.5" cy="634.6" r="9"/><circle cx="919.4" cy="631.2" r="9"/><circle cx="911.7" cy="622.3" r="9"/><circle cx="918.1" cy="624.4" r="9"/><circle cx="915.4" cy="620.1" r="9"/><circle cx="919.4" cy="623.6" r="9"/><circle cx="908" cy="621" r="9"/><circle cx="919.4" cy="618.6" r="9"/><circle cx="911.7" cy="627" r="9"/><circle cx="910.9" cy="610" r="9"/><circle cx="943.9" cy="629.2" r="9"/><circle cx="945" cy="610.8" r="9"/><circle cx="947.5" cy="618.2" r="9"/><circle cx="947.7" cy="626.6" r="9"/><circle cx="950.1" cy="617" r="9"/><circle cx="940.9" cy="620.5" r="9"/><circle cx="941.5" cy="618.5" r="9"/><circle cx="931.7" cy="615.3" r="9"/><circle cx="940.5" cy="615.8" r="9"/><circle cx="944.2" cy="618.8" r="9"/><circle cx="946.1" cy="615.2" r="9"/><circle cx="944.4" cy="624.5" r="9"/><circle cx="953.5" cy="628.9" r="9"/><circle cx="951.9" cy="623.2" r="9"/><circle cx="943.8" cy="610.8" r="9"/><circle cx="942.4" cy="621.2" r="9"/><circle cx="931.7" cy="620.6" r="9"/><circle cx="942.2" cy="621.9" r="9"/><circle cx="955" cy="612" r="9"/><circle cx="943.3" cy="617.8" r="9"/><circle cx="938.4" cy="620.9" r="9"/><circle cx="952.5" cy="631.8" r="9"/><circle cx="934.2" cy="617.4" r="9"/><circle cx="945" cy="627.3" r="9"/><circle cx="961.6" cy="627" r="9"/><circle cx="967" cy="621.6" r="9"/><circle cx="977.9" cy="616.8" r="9"/><circle cx="976.4" cy="627.2" r="9"/><circle cx="972.2" cy="618.8" r="9"/><circle cx="962.8" cy="627.3" r="9"/><circle cx="969.1" cy="611.8" r="9"/><circle cx="958.4" cy="627.4" r="9"/><circle cx="955.6" cy="622.2" r="9"/><circle cx="957.8" cy="627.2" r="9"/><circle cx="962.4" cy="625.5" r="9"/><circle cx="964.1" cy="630.6" r="9"/><circle cx="955.9" cy="634.4" r="9"/><circle cx="972.6" cy="610.1" r="9"/><circle cx="956.9" cy="622" r="9"/><circle cx="977.4" cy="618.7" r="9"/><circle cx="955" cy="630" r="9"/><circle cx="959.1" cy="615.9" r="9"/><circle cx="974.3" cy="624.7" r="9"/><circle cx="977" cy="630.4" r="9"/><circle cx="955.6" cy="625.7" r="9"/><circle cx="974.6" cy="624.2" r="9"/><circle cx="974.5" cy="627.5" r="9"/><circle cx="968.2" cy="631.6" r="9"/><circle cx="986.3" cy="624.2" r="9"/><circle cx="1002.3" cy="626.2" r="9"/><circle cx="1002.1" cy="612.4" r="9"/><circle cx="985.7" cy="618.8" r="9"/><circle cx="994.9" cy="615.1" r="9"/><circle cx="982.2" cy="628" r="9"/><circle cx="991.7" cy="614.7" r="9"/><circle cx="1004.3" cy="610.5" r="9"/><circle cx="997.2" cy="632.5" r="9"/><circle cx="998.6" cy="621.7" r="9"/><circle cx="986" cy="626.4" r="9"/><circle cx="984" cy="633.8" r="9"/><circle cx="993.4" cy="619.8" r="9"/><circle cx="991.4" cy="634.2" r="9"/><circle cx="982.8" cy="628.1" r="9"/><circle cx="983.6" cy="616.4" r="9"/><circle cx="986.2" cy="626.8" r="9"/><circle cx="995.8" cy="617" r="9"/><circle cx="993.1" cy="630.5" r="9"/><circle cx="981.3" cy="620.6" r="9"/><circle cx="988.9" cy="629.1" r="9"/><circle cx="1001.4" cy="630.5" r="9"/><circle cx="989.7" cy="632.3" r="9"/><circle cx="998.9" cy="623.4" r="9"/><circle cx="1006.8" cy="618.4" r="9"/><circle cx="1023.6" cy="626.5" r="9"/><circle cx="1028.9" cy="631.8" r="9"/><circle cx="1021.2" cy="620.7" r="9"/><circle cx="1015.6" cy="633.6" r="9"/><circle cx="1011.5" cy="616.3" r="9"/><circle cx="1005.3" cy="612.2" r="9"/><circle cx="1025.9" cy="617.7" r="9"/><circle cx="1014.4" cy="633.7" r="9"/><circle cx="1011" cy="632" r="9"/><circle cx="1013.7" cy="631.2" r="9"/><circle cx="1028.7" cy="623.3" r="9"/><circle cx="1027.5" cy="618" r="9"/><circle cx="1011.8" cy="629.2" r="9"/><circle cx="1023.5" cy="633.4" r="9"/><circle cx="1016.7" cy="632.9" r="9"/><circle cx="1006.2" cy="633.9" r="9"/><circle cx="1010.3" cy="627.1" r="9"/><circle cx="1028.1" cy="631.7" r="9"/><circle cx="1019.4" cy="629.1" r="9"/><circle cx="1015.7" cy="626.4" r="9"/><circle cx="1009.4" cy="613.6" r="9"/><circle cx="1024.9" cy="623.5" r="9"/><circle cx="1025.7" cy="611.7" r="9"/><circle cx="1030.9" cy="622.9" r="9"/><circle cx="1022.1" cy="627.5" r="9"/><circle cx="763.6" cy="641.2" r="9"/><circle cx="779.8" cy="643.8" r="9"/><circle cx="797.2" cy="651.8" r="9"/><circle cx="800.4" cy="642.1" r="9"/><circle cx="803" cy="659.1" r="9"/><circle cx="806" cy="651.8" r="9"/><circle cx="806" cy="653.7" r="9"/><circle cx="831" cy="658.4" r="9"/><circle cx="837.7" cy="642.9" r="9"/><circle cx="854.8" cy="656.6" r="9"/><circle cx="837.7" cy="647.5" r="9"/><circle cx="837.7" cy="649.6" r="9"/><circle cx="837.7" cy="637.1" r="9"/><circle cx="837.7" cy="636.5" r="9"/><circle cx="868.5" cy="655.6" r="9"/><circle cx="862.9" cy="651.9" r="9"/><circle cx="862.5" cy="643.2" r="9"/><circle cx="862.9" cy="645.7" r="9"/><circle cx="856.9" cy="648.4" r="9"/><circle cx="877.3" cy="645.4" r="9"/><circle cx="870.2" cy="648.8" r="9"/><circle cx="882.1" cy="635.5" r="9"/><circle cx="882.1" cy="656.8" r="9"/><circle cx="882.1" cy="649.5" r="9"/><circle cx="882.1" cy="635.1" r="9"/><circle cx="882.1" cy="652" r="9"/><circle cx="882.1" cy="646.5" r="9"/><circle cx="896.3" cy="645" r="9"/><circle cx="893.8" cy="640.5" r="9"/><circle cx="882.1" cy="655.8" r="9"/><circle cx="882.1" cy="643.7" r="9"/><circle cx="894.3" cy="644.7" r="9"/><circle cx="882.1" cy="635.9" r="9"/><circle cx="925.1" cy="637.4" r="9"/><circle cx="911.3" cy="656.7" r="9"/><circle cx="919.2" cy="653.7" r="9"/><circle cx="908.1" cy="654.3" r="9"/><circle cx="911.7" cy="649.6" r="9"/><circle cx="926.9" cy="656.3" r="9"/><circle cx="918" cy="637.9" r="9"/><circle cx="911.7" cy="656" r="9"/><circle cx="925.2" cy="645.1" r="9"/><circle cx="911.7" cy="647.2" r="9"/><circle cx="927.6" cy="649.5" r="9"/><circle cx="911.7" cy="659.9" r="9"/><circle cx="915.6" cy="641.9" r="9"/><circle cx="911.7" cy="635.9" r="9"/><circle cx="916.7" cy="657.1" r="9"/><circle cx="919.9" cy="658.9" r="9"/><circle cx="911.7" cy="648.1" r="9"/><circle cx="908.5" cy="639.3" r="9"/><circle cx="911.7" cy="639.3" r="9"/><circle cx="921.6" cy="659.6" r="9"/><circle cx="928.9" cy="639.9" r="9"/><circle cx="911.7" cy="651.3" r="9"/><circle cx="921.8" cy="643.2" r="9"/><circle cx="928" cy="643" r="9"/><circle cx="945.4" cy="641" r="9"/><circle cx="934.2" cy="650.1" r="9"/><circle cx="945.9" cy="649.3" r="9"/><circle cx="936.3" cy="645.5" r="9"/><circle cx="947.5" cy="646.3" r="9"/><circle cx="931.8" cy="651.5" r="9"/><circle cx="934.8" cy="657.4" r="9"/><circle cx="939" cy="648.2" r="9"/><circle cx="948.9" cy="649.3" r="9"/><circle cx="933.5" cy="648" r="9"/><circle cx="954.4" cy="646.8" r="9"/><circle cx="932.1" cy="657.3" r="9"/><circle cx="946" cy="643.1" r="9"/><circle cx="953.5" cy="640.3" r="9"/><circle cx="947.6" cy="642.5" r="9"/><circle cx="935.3" cy="640.4" r="9"/><circle cx="944.4" cy="653.8" r="9"/><circle cx="938.4" cy="658.1" r="9"/><circle cx="943.7" cy="646.9" r="9"/><circle cx="945.6" cy="648.6" r="9"/><circle cx="949" cy="657.9" r="9"/><circle cx="951.5" cy="635.8" r="9"/><circle cx="949.8" cy="639.6" r="9"/><circle cx="948.3" cy="636.2" r="9"/><circle cx="964.1" cy="639.7" r="9"/><circle cx="971.3" cy="650" r="9"/><circle cx="970.4" cy="658.7" r="9"/><circle cx="956.6" cy="648.6" r="9"/><circle cx="958.1" cy="642.3" r="9"/><circle cx="965.2" cy="654.1" r="9"/><circle cx="973.2" cy="648.1" r="9"/><circle cx="974.4" cy="645" r="9"/><circle cx="963.2" cy="646.3" r="9"/><circle cx="977.1" cy="653.8" r="9"/><circle cx="967" cy="644.6" r="9"/><circle cx="965.6" cy="642.5" r="9"/><circle cx="968" cy="635.3" r="9"/><circle cx="978.5" cy="640.6" r="9"/><circle cx="961.3" cy="656.9" r="9"/><circle cx="957.1" cy="647.2" r="9"/><circle cx="960.7" cy="639.4" r="9"/><circle cx="959.9" cy="639.7" r="9"/><circle cx="964.7" cy="656.5" r="9"/><circle cx="978.5" cy="651.4" r="9"/><circle cx="962.6" cy="643.5" r="9"/><circle cx="961.3" cy="643.8" r="9"/><circle cx="975.3" cy="643.3" r="9"/><circle cx="974.3" cy="647.4" r="9"/><circle cx="990.8" cy="646.1" r="9"/><circle cx="997.3" cy="641.2" r="9"/><circle cx="987.6" cy="639.7" r="9"/><circle cx="999.4" cy="636" r="9"/><circle cx="1000.4" cy="648.7" r="9"/><circle cx="996.8" cy="644.8" r="9"/><circle cx="997.7" cy="651.9" r="9"/><circle cx="996.7" cy="654.9" r="9"/><circle cx="1004.4" cy="648.2" r="9"/><circle cx="980.3" cy="640.7" r="9"/><circle cx="983.9" cy="647.7" r="9"/><circle cx="984.9" cy="651.2" r="9"/><circle cx="999.7" cy="652.3" r="9"/><circle cx="986.1" cy="648.2" r="9"/><circle cx="1003.9" cy="651.5" r="9"/><circle cx="990.3" cy="635.7" r="9"/><circle cx="1000.7" cy="651.2" r="9"/><circle cx="991.9" cy="655.3" r="9"/><circle cx="1003.3" cy="639.4" r="9"/><circle cx="990.6" cy="650.6" r="9"/><circle cx="980.5" cy="647.1" r="9"/><circle cx="1001.5" cy="641.8" r="9"/><circle cx="994.6" cy="652.1" r="9"/><circle cx="999.9" cy="655.8" r="9"/><circle cx="1023.7" cy="637.2" r="9"/><circle cx="1011" cy="657.1" r="9"/><circle cx="1019.7" cy="641.4" r="9"/><circle cx="1014.4" cy="646.1" r="9"/><circle cx="1014.4" cy="636.9" r="9"/><circle cx="1017.8" cy="644.6" r="9"/><circle cx="1006.4" cy="655.7" r="9"/><circle cx="1009.4" cy="636.9" r="9"/><circle cx="1029.5" cy="655.7" r="9"/><circle cx="1010.7" cy="657" r="9"/><circle cx="1026.6" cy="639.9" r="9"/><circle cx="1024.3" cy="637.4" r="9"/><circle cx="1025.3" cy="644.3" r="9"/><circle cx="1011.1" cy="658.2" r="9"/><circle cx="1015.3" cy="650.5" r="9"/><circle cx="1014.8" cy="656.8" r="9"/><circle cx="1025.7" cy="657.6" r="9"/><circle cx="1019.1" cy="655.9" r="9"/><circle cx="1016.5" cy="660" r="9"/><circle cx="1019.8" cy="638.6" r="9"/><circle cx="1018.6" cy="653.1" r="9"/><circle cx="1011.5" cy="654.4" r="9"/><circle cx="1022.3" cy="653.4" r="9"/><circle cx="1019.6" cy="646.8" r="9"/><circle cx="1027" cy="648.8" r="9"/><circle cx="1026.8" cy="641" r="9"/><circle cx="1025.1" cy="648.6" r="9"/><circle cx="756" cy="665.2" r="9"/><circle cx="763.6" cy="661" r="9"/><circle cx="763.6" cy="672.1" r="9"/><circle cx="803" cy="669.9" r="9"/><circle cx="783.1" cy="666.6" r="9"/><circle cx="824" cy="677.7" r="9"/><circle cx="823.6" cy="684" r="9"/><circle cx="808.7" cy="669.5" r="9"/><circle cx="837.7" cy="679.3" r="9"/><circle cx="840.7" cy="677.1" r="9"/><circle cx="831.9" cy="663.3" r="9"/><circle cx="837.7" cy="664.4" r="9"/><circle cx="850.8" cy="665.1" r="9"/><circle cx="837.7" cy="671.1" r="9"/><circle cx="837.7" cy="675.2" r="9"/><circle cx="866.6" cy="674.3" r="9"/><circle cx="870.8" cy="662.8" r="9"/><circle cx="879.4" cy="663.3" r="9"/><circle cx="863.1" cy="674.8" r="9"/><circle cx="867.6" cy="660.4" r="9"/><circle cx="862.4" cy="676.7" r="9"/><circle cx="882.1" cy="678.4" r="9"/><circle cx="882.1" cy="665.1" r="9"/><circle cx="882.1" cy="684.9" r="9"/><circle cx="891.6" cy="678.2" r="9"/><circle cx="903.1" cy="665.3" r="9"/><circle cx="882.1" cy="672.9" r="9"/><circle cx="882.1" cy="676.5" r="9"/><circle cx="881.1" cy="672.3" r="9"/><circle cx="882.1" cy="678.6" r="9"/><circle cx="898.2" cy="664.9" r="9"/><circle cx="884.6" cy="677.6" r="9"/><circle cx="882.1" cy="680.2" r="9"/><circle cx="923.3" cy="675.2" r="9"/><circle cx="920.4" cy="672.7" r="9"/><circle cx="919.9" cy="663.2" r="9"/><circle cx="911.7" cy="667.4" r="9"/><circle cx="921.6" cy="683" r="9"/><circle cx="925" cy="672.6" r="9"/><circle cx="908.7" cy="662.4" r="9"/><circle cx="911.7" cy="670.9" r="9"/><circle cx="911.7" cy="664.1" r="9"/><circle cx="911.7" cy="683.5" r="9"/><circle cx="911.7" cy="665.8" r="9"/><circle cx="921.3" cy="668.1" r="9"/><circle cx="911.7" cy="682.4" r="9"/><circle cx="911.7" cy="661.1" r="9"/><circle cx="923.3" cy="677.2" r="9"/><circle cx="911.7" cy="670.8" r="9"/><circle cx="923.9" cy="677.5" r="9"/><circle cx="924.6" cy="672.4" r="9"/><circle cx="911.7" cy="663.6" r="9"/><circle cx="911.7" cy="677.1" r="9"/><circle cx="911.7" cy="665.6" r="9"/><circle cx="926.6" cy="672.6" r="9"/><circle cx="911.7" cy="669.4" r="9"/><circle cx="911.7" cy="666.4" r="9"/><circle cx="952" cy="663.1" r="9"/><circle cx="945.9" cy="663.3" r="9"/><circle cx="933.7" cy="672.9" r="9"/><circle cx="950.1" cy="666.9" r="9"/><circle cx="945.6" cy="682.8" r="9"/><circle cx="944.5" cy="669.2" r="9"/><circle cx="937.6" cy="678.7" r="9"/><circle cx="946.8" cy="676.5" r="9"/><circle cx="946.5" cy="675.9" r="9"/><circle cx="942.3" cy="684.2" r="9"/><circle cx="932.7" cy="661.3" r="9"/><circle cx="942.3" cy="682.9" r="9"/><circle cx="940.9" cy="682.7" r="9"/><circle cx="940.6" cy="673.1" r="9"/><circle cx="948.5" cy="683.3" r="9"/><circle cx="942.6" cy="670.6" r="9"/><circle cx="953.7" cy="670.1" r="9"/><circle cx="945.4" cy="673.9" r="9"/><circle cx="944.8" cy="661.4" r="9"/><circle cx="946.2" cy="675.6" r="9"/><circle cx="952.4" cy="681.6" r="9"/><circle cx="946.4" cy="674.3" r="9"/><circle cx="948.6" cy="665.2" r="9"/><circle cx="930.5" cy="677.2" r="9"/><circle cx="965.1" cy="663.8" r="9"/><circle cx="959.9" cy="674" r="9"/><circle cx="965.3" cy="683.9" r="9"/><circle cx="968.9" cy="667.7" r="9"/><circle cx="963.4" cy="660.5" r="9"/><circle cx="975" cy="660.1" r="9"/><circle cx="973.7" cy="661.6" r="9"/><circle cx="958.5" cy="666.3" r="9"/><circle cx="962.2" cy="663.1" r="9"/><circle cx="965.1" cy="661.6" r="9"/><circle cx="956.6" cy="662.3" r="9"/><circle cx="962.4" cy="661.8" r="9"/><circle cx="971" cy="673.6" r="9"/><circle cx="976" cy="660.9" r="9"/><circle cx="970.8" cy="663.4" r="9"/><circle cx="979.4" cy="664.1" r="9"/><circle cx="960.9" cy="683.6" r="9"/><circle cx="977.1" cy="680.7" r="9"/><circle cx="955.3" cy="661" r="9"/><circle cx="955.5" cy="673.1" r="9"/><circle cx="978.4" cy="663.7" r="9"/><circle cx="962.9" cy="672.2" r="9"/><circle cx="969" cy="683.4" r="9"/><circle cx="962.1" cy="668.8" r="9"/><circle cx="989.4" cy="667.9" r="9"/><circle cx="993.8" cy="665" r="9"/><circle cx="988.6" cy="684.6" r="9"/><circle cx="982.4" cy="665.1" r="9"/><circle cx="995.6" cy="667.2" r="9"/><circle cx="992.6" cy="677.4" r="9"/><circle cx="983.9" cy="664.2" r="9"/><circle cx="985.6" cy="677.9" r="9"/><circle cx="995.3" cy="684.8" r="9"/><circle cx="988.6" cy="672.5" r="9"/><circle cx="984.5" cy="684.2" r="9"/><circle cx="997.5" cy="676.2" r="9"/><circle cx="984.7" cy="680.2" r="9"/><circle cx="1000.9" cy="663.3" r="9"/><circle cx="983.4" cy="681.7" r="9"/><circle cx="993.4" cy="678.9" r="9"/><circle cx="1003.4" cy="679.4" r="9"/><circle cx="984" cy="664.3" r="9"/><circle cx="997.7" cy="675.7" r="9"/><circle cx="1001.7" cy="678.1" r="9"/><circle cx="987.8" cy="675.3" r="9"/><circle cx="995.3" cy="684" r="9"/><circle cx="1004.5" cy="672.8" r="9"/><circle cx="991.3" cy="676.4" r="9"/><circle cx="1016.1" cy="664.7" r="9"/><circle cx="1009.2" cy="673.5" r="9"/><circle cx="1015.3" cy="672.9" r="9"/><circle cx="1023.4" cy="664.2" r="9"/><circle cx="1011.7" cy="679.7" r="9"/><circle cx="1012.7" cy="668.8" r="9"/><circle cx="1027.5" cy="660.4" r="9"/><circle cx="1014.2" cy="664.4" r="9"/><circle cx="1029.5" cy="683.4" r="9"/><circle cx="1027.6" cy="672.7" r="9"/><circle cx="1019.2" cy="675.1" r="9"/><circle cx="1023.2" cy="679.7" r="9"/><circle cx="1026.7" cy="675.1" r="9"/><circle cx="1006.7" cy="677.9" r="9"/><circle cx="1015.4" cy="672.8" r="9"/><circle cx="1023.9" cy="682.9" r="9"/><circle cx="1021.7" cy="675.6" r="9"/><circle cx="1029.9" cy="660.4" r="9"/><circle cx="1022.9" cy="662.5" r="9"/><circle cx="1018.9" cy="666.4" r="9"/><circle cx="1014.1" cy="680.8" r="9"/><circle cx="1013.1" cy="682.5" r="9"/><circle cx="1020.7" cy="682.6" r="9"/><circle cx="1020.8" cy="675.2" r="9"/><circle cx="1033.7" cy="660.2" r="9"/><circle cx="1021.7" cy="665.5" r="9"/><circle cx="1033.4" cy="684.1" r="9"/><circle cx="763.6" cy="696.7" r="9"/><circle cx="763.6" cy="690.3" r="9"/><circle cx="763.6" cy="705.2" r="9"/><circle cx="763.6" cy="700" r="9"/><circle cx="760.5" cy="695.7" r="9"/><circle cx="793.3" cy="695.8" r="9"/><circle cx="785.1" cy="708" r="9"/><circle cx="805" cy="697.3" r="9"/><circle cx="796.9" cy="701" r="9"/><circle cx="795.4" cy="691.5" r="9"/><circle cx="820.1" cy="693.7" r="9"/><circle cx="811.9" cy="686" r="9"/><circle cx="826.8" cy="698.6" r="9"/><circle cx="819.5" cy="685.9" r="9"/><circle cx="837.7" cy="693.8" r="9"/><circle cx="851.5" cy="694.7" r="9"/><circle cx="837.7" cy="686.8" r="9"/><circle cx="837.7" cy="690.6" r="9"/><circle cx="838.6" cy="706.7" r="9"/><circle cx="854.8" cy="692.9" r="9"/><circle cx="871.9" cy="688.8" r="9"/><circle cx="874.5" cy="700.6" r="9"/><circle cx="857.7" cy="695.5" r="9"/><circle cx="862.4" cy="697.1" r="9"/><circle cx="860.7" cy="689.7" r="9"/><circle cx="855.2" cy="701.4" r="9"/><circle cx="895.9" cy="703.1" r="9"/><circle cx="904.3" cy="688.8" r="9"/><circle cx="882.1" cy="704.7" r="9"/><circle cx="883.7" cy="704.7" r="9"/><circle cx="882.1" cy="706.9" r="9"/><circle cx="899" cy="694.6" r="9"/><circle cx="887.3" cy="706.1" r="9"/><circle cx="882.8" cy="708.4" r="9"/><circle cx="887.9" cy="695.8" r="9"/><circle cx="884.4" cy="704.8" r="9"/><circle cx="899.9" cy="689.5" r="9"/><circle cx="897" cy="687.5" r="9"/><circle cx="911.7" cy="685" r="9"/><circle cx="911.7" cy="707.8" r="9"/><circle cx="915" cy="687.8" r="9"/><circle cx="910.1" cy="685.3" r="9"/><circle cx="925.5" cy="694.9" r="9"/><circle cx="919" cy="697" r="9"/><circle cx="927.6" cy="697.8" r="9"/><circle cx="914.5" cy="697.6" r="9"/><circle cx="917.7" cy="707.5" r="9"/><circle cx="911.7" cy="696" r="9"/><circle cx="911.7" cy="694.2" r="9"/><circle cx="929.4" cy="693.4" r="9"/><circle cx="913" cy="686.1" r="9"/><circle cx="911.7" cy="700.2" r="9"/><circle cx="926.1" cy="703.7" r="9"/><circle cx="911.7" cy="686.8" r="9"/><circle cx="913.3" cy="705" r="9"/><circle cx="926.1" cy="689.4" r="9"/><circle cx="927.6" cy="687.9" r="9"/><circle cx="917.3" cy="708.4" r="9"/><circle cx="911.7" cy="701.3" r="9"/><circle cx="911.7" cy="696.3" r="9"/><circle cx="912" cy="703.5" r="9"/><circle cx="924" cy="706.9" r="9"/><circle cx="953.2" cy="709.1" r="9"/><circle cx="941.3" cy="685.8" r="9"/><circle cx="936.5" cy="687.6" r="9"/><circle cx="934.3" cy="691.9" r="9"/><circle cx="943.9" cy="687.4" r="9"/><circle cx="953.5" cy="696.7" r="9"/><circle cx="936.3" cy="685.5" r="9"/><circle cx="944.7" cy="705.1" r="9"/><circle cx="951.4" cy="700.5" r="9"/><circle cx="943.6" cy="685.5" r="9"/><circle cx="939.8" cy="709.7" r="9"/><circle cx="934.4" cy="705.7" r="9"/><circle cx="946" cy="701.9" r="9"/><circle cx="941.9" cy="695" r="9"/><circle cx="949.4" cy="703.1" r="9"/><circle cx="942.9" cy="685" r="9"/><circle cx="940.9" cy="691.3" r="9"/><circle cx="932" cy="697.9" r="9"/><circle cx="939.7" cy="709.8" r="9"/><circle cx="937.4" cy="706.6" r="9"/><circle cx="933.8" cy="698.7" r="9"/><circle cx="938.9" cy="685.7" r="9"/><circle cx="932.4" cy="699.2" r="9"/><circle cx="951.7" cy="685.7" r="9"/><circle cx="975.4" cy="701.1" r="9"/><circle cx="972.2" cy="698.4" r="9"/><circle cx="961.1" cy="697.4" r="9"/><circle cx="956.1" cy="706.4" r="9"/><circle cx="955.2" cy="686" r="9"/><circle cx="968.4" cy="687.1" r="9"/><circle cx="963.2" cy="703.9" r="9"/><circle cx="965.5" cy="701.9" r="9"/><circle cx="961.5" cy="709" r="9"/><circle cx="956.9" cy="700.5" r="9"/><circle cx="960.2" cy="695.2" r="9"/><circle cx="962.5" cy="685.1" r="9"/><circle cx="979.2" cy="702.3" r="9"/><circle cx="975" cy="685" r="9"/><circle cx="972.1" cy="701.5" r="9"/><circle cx="959.7" cy="686.9" r="9"/><circle cx="972.3" cy="695.3" r="9"/><circle cx="963.9" cy="708" r="9"/><circle cx="976.5" cy="690" r="9"/><circle cx="973.7" cy="685.5" r="9"/><circle cx="962.2" cy="685.1" r="9"/><circle cx="971.8" cy="689.8" r="9"/><circle cx="967.5" cy="692.6" r="9"/><circle cx="960.7" cy="703.8" r="9"/><circle cx="995.7" cy="699.8" r="9"/><circle cx="1002.9" cy="689.6" r="9"/><circle cx="982.9" cy="703.5" r="9"/><circle cx="989" cy="704.7" r="9"/><circle cx="987.5" cy="687.3" r="9"/><circle cx="1002.8" cy="704" r="9"/><circle cx="1004.5" cy="709.8" r="9"/><circle cx="984.6" cy="686.6" r="9"/><circle cx="985.9" cy="691.7" r="9"/><circle cx="999.6" cy="702.3" r="9"/><circle cx="985.6" cy="702.1" r="9"/><circle cx="989.3" cy="708.7" r="9"/><circle cx="1001.1" cy="687.8" r="9"/><circle cx="993.8" cy="689.1" r="9"/><circle cx="1001.7" cy="709.1" r="9"/><circle cx="998.4" cy="704.2" r="9"/><circle cx="984.4" cy="694.2" r="9"/><circle cx="1004.9" cy="694" r="9"/><circle cx="1000.3" cy="697.1" r="9"/><circle cx="1001.5" cy="708.9" r="9"/><circle cx="1001.2" cy="707.9" r="9"/><circle cx="989.1" cy="688.3" r="9"/><circle cx="999.1" cy="706.9" r="9"/><circle cx="990.5" cy="694.4" r="9"/><circle cx="1029" cy="688.1" r="9"/><circle cx="1025.3" cy="704.8" r="9"/><circle cx="1022.5" cy="705" r="9"/><circle cx="1019.5" cy="705.7" r="9"/><circle cx="1019.7" cy="706.8" r="9"/><circle cx="1028.5" cy="686.3" r="9"/><circle cx="1020.4" cy="709.4" r="9"/><circle cx="1014.2" cy="685.6" r="9"/><circle cx="1014.8" cy="699.6" r="9"/><circle cx="1011.4" cy="707.6" r="9"/><circle cx="1005.2" cy="692.4" r="9"/><circle cx="1025.3" cy="691.2" r="9"/><circle cx="1009.5" cy="692.6" r="9"/><circle cx="1009.8" cy="703.4" r="9"/><circle cx="1026.6" cy="690.7" r="9"/><circle cx="1026.4" cy="706.4" r="9"/><circle cx="1015" cy="694.9" r="9"/><circle cx="1027" cy="691.9" r="9"/><circle cx="1022.1" cy="708.7" r="9"/><circle cx="1019.2" cy="691.3" r="9"/><circle cx="1018.6" cy="699.3" r="9"/><circle cx="1017" cy="690.2" r="9"/><circle cx="1005.5" cy="705.9" r="9"/><circle cx="1005.1" cy="702.1" r="9"/><circle cx="1024.6" cy="686.2" r="9"/><circle cx="1028.5" cy="689.9" r="9"/><circle cx="1022.2" cy="698.4" r="9"/><circle cx="1025.7" cy="693" r="9"/><circle cx="763.6" cy="728.6" r="9"/><circle cx="767.8" cy="718.2" r="9"/><circle cx="763.6" cy="728.5" r="9"/><circle cx="793.3" cy="724.7" r="9"/><circle cx="781.4" cy="710" r="9"/><circle cx="793.3" cy="716.7" r="9"/><circle cx="812.4" cy="733.4" r="9"/><circle cx="819.7" cy="728.7" r="9"/><circle cx="837.7" cy="731.3" r="9"/><circle cx="837.7" cy="728.6" r="9"/><circle cx="837.7" cy="718.1" r="9"/><circle cx="846.1" cy="712" r="9"/><circle cx="837.7" cy="715.9" r="9"/><circle cx="846" cy="715.4" r="9"/><circle cx="837.7" cy="713.1" r="9"/><circle cx="868.3" cy="720.2" r="9"/><circle cx="863.7" cy="730.8" r="9"/><circle cx="874.4" cy="731.4" r="9"/><circle cx="871.8" cy="733.2" r="9"/><circle cx="876" cy="720.3" r="9"/><circle cx="873.2" cy="715.1" r="9"/><circle cx="856.9" cy="710" r="9"/><circle cx="882.1" cy="719.3" r="9"/><circle cx="880.8" cy="727.1" r="9"/><circle cx="881" cy="722.3" r="9"/><circle cx="883.9" cy="727.8" r="9"/><circle cx="885.6" cy="733" r="9"/><circle cx="882.1" cy="719.3" r="9"/><circle cx="884.3" cy="720.6" r="9"/><circle cx="887.8" cy="712" r="9"/><circle cx="897.9" cy="715.5" r="9"/><circle cx="885.3" cy="723.2" r="9"/><circle cx="896.6" cy="729.3" r="9"/><circle cx="890" cy="716.5" r="9"/><circle cx="915.5" cy="710.8" r="9"/><circle cx="927.6" cy="725.9" r="9"/><circle cx="909.2" cy="728.7" r="9"/><circle cx="911.5" cy="726.4" r="9"/><circle cx="912.4" cy="733.5" r="9"/><circle cx="929.9" cy="716.2" r="9"/><circle cx="919.5" cy="714" r="9"/><circle cx="911.7" cy="712.2" r="9"/><circle cx="929.2" cy="711" r="9"/><circle cx="921.1" cy="724" r="9"/><circle cx="922.7" cy="715.3" r="9"/><circle cx="911.7" cy="727.8" r="9"/><circle cx="927.8" cy="734.1" r="9"/><circle cx="911.7" cy="729" r="9"/><circle cx="909.1" cy="721.4" r="9"/><circle cx="911.7" cy="728.2" r="9"/><circle cx="911.7" cy="723.8" r="9"/><circle cx="920.7" cy="732.7" r="9"/><circle cx="911.7" cy="727.5" r="9"/><circle cx="910.5" cy="733.3" r="9"/><circle cx="911.7" cy="725.5" r="9"/><circle cx="911.7" cy="713" r="9"/><circle cx="910.1" cy="728" r="9"/><circle cx="913.1" cy="711.6" r="9"/><circle cx="932.6" cy="734.9" r="9"/><circle cx="932.7" cy="714.2" r="9"/><circle cx="931" cy="735" r="9"/><circle cx="945" cy="712" r="9"/><circle cx="930.3" cy="720.6" r="9"/><circle cx="936.7" cy="730.9" r="9"/><circle cx="949.7" cy="716.2" r="9"/><circle cx="930.1" cy="716.5" r="9"/><circle cx="933.8" cy="715.8" r="9"/><circle cx="935.5" cy="726.7" r="9"/><circle cx="940.8" cy="732.6" r="9"/><circle cx="950.4" cy="722" r="9"/><circle cx="941.8" cy="722.7" r="9"/><circle cx="954.3" cy="720.5" r="9"/><circle cx="940.8" cy="714" r="9"/><circle cx="952.5" cy="729.8" r="9"/><circle cx="946.9" cy="729.6" r="9"/><circle cx="939.5" cy="730.7" r="9"/><circle cx="935.1" cy="710" r="9"/><circle cx="946.8" cy="728.7" r="9"/><circle cx="944.3" cy="723.4" r="9"/><circle cx="943.6" cy="710.9" r="9"/><circle cx="944" cy="731.6" r="9"/><circle cx="930.5" cy="716.5" r="9"/><circle cx="964.9" cy="727.1" r="9"/><circle cx="958.9" cy="725.3" r="9"/><circle cx="967.5" cy="729.6" r="9"/><circle cx="970.9" cy="727.1" r="9"/><circle cx="962.2" cy="732.9" r="9"/><circle cx="964" cy="725.4" r="9"/><circle cx="963.3" cy="731.3" r="9"/><circle cx="973.3" cy="724.4" r="9"/><circle cx="978.3" cy="732.8" r="9"/><circle cx="964.2" cy="716.6" r="9"/><circle cx="963.1" cy="716.1" r="9"/><circle cx="962.2" cy="712.7" r="9"/><circle cx="974.1" cy="719.3" r="9"/><circle cx="976.4" cy="710.2" r="9"/><circle cx="962.6" cy="734" r="9"/><circle cx="976.7" cy="734.9" r="9"/><circle cx="979.3" cy="732.2" r="9"/><circle cx="971.1" cy="734.1" r="9"/><circle cx="958.6" cy="721.5" r="9"/><circle cx="969.3" cy="729.5" r="9"/><circle cx="969.7" cy="715" r="9"/><circle cx="976.8" cy="722.7" r="9"/><circle cx="971.1" cy="710.3" r="9"/><circle cx="979.6" cy="710.7" r="9"/><circle cx="995.6" cy="721.7" r="9"/><circle cx="996.1" cy="721.9" r="9"/><circle cx="1003.4" cy="730.4" r="9"/><circle cx="980.3" cy="720.7" r="9"/><circle cx="988" cy="729.5" r="9"/><circle cx="988" cy="718.7" r="9"/><circle cx="1003.6" cy="724" r="9"/><circle cx="988.3" cy="716" r="9"/><circle cx="980.2" cy="715.2" r="9"/><circle cx="985" cy="728.6" r="9"/><circle cx="1004" cy="719.6" r="9"/><circle cx="981.6" cy="710.5" r="9"/><circle cx="1004.6" cy="732.1" r="9"/><circle cx="1001.9" cy="727.9" r="9"/><circle cx="992.7" cy="718.1" r="9"/><circle cx="988.8" cy="722.2" r="9"/><circle cx="985" cy="720.6" r="9"/><circle cx="1003.6" cy="723" r="9"/><circle cx="993" cy="722.1" r="9"/><circle cx="992.6" cy="732.3" r="9"/><circle cx="996.2" cy="728.4" r="9"/><circle cx="1003.2" cy="729" r="9"/><circle cx="997.7" cy="731" r="9"/><circle cx="990.4" cy="725.3" r="9"/><circle cx="1026.8" cy="730.5" r="9"/><circle cx="1016.9" cy="726.2" r="9"/><circle cx="1029" cy="717.9" r="9"/><circle cx="1019.4" cy="731.9" r="9"/><circle cx="1017.8" cy="712" r="9"/><circle cx="1010" cy="712.2" r="9"/><circle cx="1014.2" cy="711.6" r="9"/><circle cx="1023.5" cy="714.3" r="9"/><circle cx="1005.3" cy="711.3" r="9"/><circle cx="1005.9" cy="730.6" r="9"/><circle cx="1005.9" cy="719.3" r="9"/><circle cx="1026.1" cy="730.7" r="9"/><circle cx="1012" cy="710.4" r="9"/><circle cx="1026.3" cy="726.3" r="9"/><circle cx="1027.9" cy="727.3" r="9"/><circle cx="1023.9" cy="725.5" r="9"/><circle cx="1021.9" cy="725.5" r="9"/><circle cx="1008" cy="716.2" r="9"/><circle cx="1023.1" cy="733.4" r="9"/><circle cx="1009" cy="714.7" r="9"/><circle cx="1012.9" cy="724.1" r="9"/><circle cx="1027" cy="714" r="9"/><circle cx="1028.8" cy="722.1" r="9"/><circle cx="1006.3" cy="723" r="9"/><circle cx="1026" cy="732.5" r="9"/><circle cx="1020.5" cy="717.4" r="9"/><circle cx="1028.2" cy="718.8" r="9"/><circle cx="1027.4" cy="727.1" r="9"/><circle cx="763.6" cy="748.8" r="9"/><circle cx="763.6" cy="743.7" r="9"/><circle cx="761.3" cy="740.7" r="9"/><circle cx="793.3" cy="749.4" r="9"/><circle cx="793.3" cy="753.3" r="9"/><circle cx="793.3" cy="738" r="9"/><circle cx="812.1" cy="738.8" r="9"/><circle cx="820.5" cy="746.9" r="9"/><circle cx="837.7" cy="750.4" r="9"/><circle cx="837.7" cy="749" r="9"/><circle cx="840.2" cy="748.5" r="9"/><circle cx="837.7" cy="738" r="9"/><circle cx="837.7" cy="737.1" r="9"/><circle cx="853.2" cy="758" r="9"/><circle cx="836.2" cy="750.1" r="9"/><circle cx="865.9" cy="752.4" r="9"/><circle cx="870.8" cy="736.8" r="9"/><circle cx="856.2" cy="757.5" r="9"/><circle cx="877.6" cy="753" r="9"/><circle cx="868.1" cy="754.9" r="9"/><circle cx="877.8" cy="753.8" r="9"/><circle cx="882.1" cy="741.3" r="9"/><circle cx="891.4" cy="742.3" r="9"/><circle cx="904.8" cy="744.8" r="9"/><circle cx="887.8" cy="754.6" r="9"/><circle cx="882.1" cy="743.7" r="9"/><circle cx="882.1" cy="748.3" r="9"/><circle cx="902.2" cy="738.3" r="9"/><circle cx="885.4" cy="740.4" r="9"/><circle cx="897" cy="738.6" r="9"/><circle cx="889.2" cy="750.2" r="9"/><circle cx="892.2" cy="737.5" r="9"/><circle cx="882.1" cy="756.2" r="9"/><circle cx="914.8" cy="752.1" r="9"/><circle cx="918.8" cy="741.3" r="9"/><circle cx="911.7" cy="738.9" r="9"/><circle cx="908.3" cy="756.8" r="9"/><circle cx="913.5" cy="740" r="9"/><circle cx="917.5" cy="740.4" r="9"/><circle cx="928.4" cy="756.7" r="9"/><circle cx="920.1" cy="753.3" r="9"/><circle cx="911.7" cy="736" r="9"/><circle cx="910.4" cy="742.1" r="9"/><circle cx="911.7" cy="748.4" r="9"/><circle cx="911.7" cy="740.9" r="9"/><circle cx="911.7" cy="756.4" r="9"/><circle cx="923.6" cy="735.5" r="9"/><circle cx="911.7" cy="754" r="9"/><circle cx="923.6" cy="743.8" r="9"/><circle cx="914.6" cy="749.8" r="9"/><circle cx="913.9" cy="742.2" r="9"/><circle cx="928.3" cy="756.3" r="9"/><circle cx="920.5" cy="743" r="9"/><circle cx="911.7" cy="758.4" r="9"/><circle cx="913.7" cy="757.1" r="9"/><circle cx="910" cy="743" r="9"/><circle cx="911.7" cy="754.2" r="9"/><circle cx="945.7" cy="745.9" r="9"/><circle cx="951.4" cy="745.1" r="9"/><circle cx="933.6" cy="751.3" r="9"/><circle cx="952.7" cy="757.3" r="9"/><circle cx="950.6" cy="745.9" r="9"/><circle cx="942.1" cy="751" r="9"/><circle cx="943.4" cy="758" r="9"/><circle cx="947" cy="756.2" r="9"/><circle cx="945.3" cy="736.6" r="9"/><circle cx="932" cy="741.1" r="9"/><circle cx="944.8" cy="757.1" r="9"/><circle cx="952.3" cy="749.9" r="9"/><circle cx="936.7" cy="749.8" r="9"/><circle cx="936.1" cy="748" r="9"/><circle cx="942.3" cy="758.4" r="9"/><circle cx="952.6" cy="736.2" r="9"/><circle cx="950.5" cy="750" r="9"/><circle cx="945" cy="746.2" r="9"/><circle cx="952.2" cy="754.4" r="9"/><circle cx="933.6" cy="743.7" r="9"/><circle cx="936.3" cy="740.5" r="9"/><circle cx="935.2" cy="751.8" r="9"/><circle cx="939.2" cy="741.2" r="9"/><circle cx="938.2" cy="756.1" r="9"/><circle cx="976.8" cy="750" r="9"/><circle cx="967" cy="739.1" r="9"/><circle cx="979.9" cy="755.7" r="9"/><circle cx="970.5" cy="748.3" r="9"/><circle cx="970.3" cy="744.8" r="9"/><circle cx="955.7" cy="739.7" r="9"/><circle cx="963.4" cy="737.6" r="9"/><circle cx="974" cy="748.8" r="9"/><circle cx="976" cy="757.1" r="9"/><circle cx="969.6" cy="751.5" r="9"/><circle cx="960.5" cy="737.6" r="9"/><circle cx="973.4" cy="756.9" r="9"/><circle cx="960.4" cy="756.2" r="9"/><circle cx="965.5" cy="749.6" r="9"/><circle cx="977.1" cy="757.5" r="9"/><circle cx="975.4" cy="755.7" r="9"/><circle cx="972.4" cy="755.8" r="9"/><circle cx="975.4" cy="741.6" r="9"/><circle cx="969.4" cy="736.3" r="9"/><circle cx="960.1" cy="758.4" r="9"/><circle cx="959.5" cy="745.1" r="9"/><circle cx="960.1" cy="740.9" r="9"/><circle cx="965.3" cy="737.3" r="9"/><circle cx="973.5" cy="740.5" r="9"/><circle cx="991.5" cy="746.8" r="9"/><circle cx="990.1" cy="759.2" r="9"/><circle cx="1003.6" cy="756.3" r="9"/><circle cx="994.3" cy="738.3" r="9"/><circle cx="997.2" cy="741.1" r="9"/><circle cx="993.8" cy="738.7" r="9"/><circle cx="997" cy="740.4" r="9"/><circle cx="1003.5" cy="754.2" r="9"/><circle cx="994" cy="737.8" r="9"/><circle cx="985.2" cy="746.1" r="9"/><circle cx="997.8" cy="746.8" r="9"/><circle cx="1002.3" cy="748.9" r="9"/><circle cx="986.5" cy="740.1" r="9"/><circle cx="981.6" cy="755.4" r="9"/><circle cx="1002.2" cy="755.9" r="9"/><circle cx="1002.3" cy="755.9" r="9"/><circle cx="992.4" cy="744.9" r="9"/><circle cx="994.9" cy="758.3" r="9"/><circle cx="984.9" cy="758.8" r="9"/><circle cx="997.9" cy="738.4" r="9"/><circle cx="980.7" cy="738.7" r="9"/><circle cx="1002.1" cy="742.5" r="9"/><circle cx="1000.1" cy="752.6" r="9"/><circle cx="984.9" cy="743.4" r="9"/><circle cx="1007.9" cy="743.4" r="9"/><circle cx="1022.5" cy="747.6" r="9"/><circle cx="1018.5" cy="746.6" r="9"/><circle cx="1020.9" cy="749" r="9"/><circle cx="1008.7" cy="737.5" r="9"/><circle cx="1013.3" cy="752.6" r="9"/><circle cx="1025" cy="748.1" r="9"/><circle cx="1026.5" cy="751.6" r="9"/><circle cx="1025.3" cy="750.8" r="9"/><circle cx="1027.1" cy="742.9" r="9"/><circle cx="1011.2" cy="750.8" r="9"/><circle cx="1021" cy="748.8" r="9"/><circle cx="1011.1" cy="753.7" r="9"/><circle cx="1021.4" cy="746.5" r="9"/><circle cx="1018.9" cy="742.4" r="9"/><circle cx="1014.7" cy="759.2" r="9"/><circle cx="1008.5" cy="747.3" r="9"/><circle cx="1020.2" cy="747.5" r="9"/><circle cx="1016.4" cy="737.5" r="9"/><circle cx="1025" cy="736.6" r="9"/><circle cx="1014.1" cy="744.9" r="9"/><circle cx="1009.3" cy="757.2" r="9"/><circle cx="1025.7" cy="735.6" r="9"/><circle cx="1006" cy="736.5" r="9"/><circle cx="1022.6" cy="746.8" r="9"/><circle cx="1021.9" cy="736" r="9"/><circle cx="1035" cy="757.2" r="9"/><circle cx="1021.2" cy="743.6" r="9"/><circle cx="763.6" cy="773.9" r="9"/><circle cx="763.6" cy="767.9" r="9"/><circle cx="763.6" cy="772" r="9"/><circle cx="793.3" cy="770.4" r="9"/><circle cx="800.2" cy="770" r="9"/><circle cx="805.7" cy="766.7" r="9"/><circle cx="817.1" cy="766.6" r="9"/><circle cx="809.2" cy="779" r="9"/><circle cx="806" cy="760.9" r="9"/><circle cx="806" cy="779.9" r="9"/><circle cx="840.2" cy="782.9" r="9"/><circle cx="837.7" cy="772.9" r="9"/><circle cx="837.7" cy="775.8" r="9"/><circle cx="837.7" cy="782" r="9"/><circle cx="837.7" cy="782.8" r="9"/><circle cx="839.5" cy="776.3" r="9"/><circle cx="867.2" cy="771.2" r="9"/><circle cx="861.2" cy="760.7" r="9"/><circle cx="858.4" cy="780" r="9"/><circle cx="855.5" cy="768.4" r="9"/><circle cx="860.2" cy="762.3" r="9"/><circle cx="867.7" cy="782" r="9"/><circle cx="865.9" cy="783.7" r="9"/><circle cx="880.5" cy="764.4" r="9"/><circle cx="881.1" cy="772" r="9"/><circle cx="900.1" cy="775.8" r="9"/><circle cx="881.7" cy="764.1" r="9"/><circle cx="892.9" cy="782.9" r="9"/><circle cx="900.6" cy="779.6" r="9"/><circle cx="882.1" cy="774.5" r="9"/><circle cx="896.8" cy="767" r="9"/><circle cx="885.9" cy="778.9" r="9"/><circle cx="882.1" cy="780.6" r="9"/><circle cx="882.7" cy="781" r="9"/><circle cx="882.1" cy="776.4" r="9"/><circle cx="911.7" cy="774.4" r="9"/><circle cx="921.9" cy="764.6" r="9"/><circle cx="911.7" cy="780.2" r="9"/><circle cx="911.7" cy="771.4" r="9"/><circle cx="923.3" cy="764.8" r="9"/><circle cx="929.4" cy="768.3" r="9"/><circle cx="917.3" cy="760.7" r="9"/><circle cx="916" cy="784.7" r="9"/><circle cx="919.8" cy="767.4" r="9"/><circle cx="911.7" cy="779.4" r="9"/><circle cx="911.7" cy="780.5" r="9"/><circle cx="928" cy="768.5" r="9"/><circle cx="911.7" cy="776.7" r="9"/><circle cx="928.6" cy="770.3" r="9"/><circle cx="913.6" cy="767.2" r="9"/><circle cx="920.4" cy="766.2" r="9"/><circle cx="911.7" cy="761.5" r="9"/><circle cx="915.8" cy="770.8" r="9"/><circle cx="915.4" cy="764.9" r="9"/><circle cx="911.7" cy="772.5" r="9"/><circle cx="928.8" cy="782.8" r="9"/><circle cx="911.7" cy="768" r="9"/><circle cx="911.7" cy="781.6" r="9"/><circle cx="928.8" cy="763.5" r="9"/><circle cx="940" cy="762" r="9"/><circle cx="941.8" cy="774.9" r="9"/><circle cx="954.8" cy="771.2" r="9"/><circle cx="948.5" cy="778.7" r="9"/><circle cx="947" cy="773.7" r="9"/><circle cx="946.2" cy="781.1" r="9"/><circle cx="935.2" cy="760.9" r="9"/><circle cx="948" cy="763.8" r="9"/><circle cx="948.8" cy="770.6" r="9"/><circle cx="953.5" cy="776.5" r="9"/><circle cx="938" cy="763.7" r="9"/><circle cx="931.1" cy="762" r="9"/><circle cx="941" cy="777.9" r="9"/><circle cx="954.8" cy="778.5" r="9"/><circle cx="943.2" cy="774.5" r="9"/><circle cx="944.6" cy="761.5" r="9"/><circle cx="944.7" cy="761.7" r="9"/><circle cx="934" cy="782.2" r="9"/><circle cx="937.6" cy="776.7" r="9"/><circle cx="938" cy="765.1" r="9"/><circle cx="940.8" cy="774.4" r="9"/><circle cx="953.1" cy="774.4" r="9"/><circle cx="933.7" cy="760" r="9"/><circle cx="943" cy="762.3" r="9"/><circle cx="957.1" cy="761.4" r="9"/><circle cx="974.4" cy="773.6" r="9"/><circle cx="965.3" cy="776" r="9"/><circle cx="976.2" cy="760.5" r="9"/><circle cx="978.1" cy="778.5" r="9"/><circle cx="970.5" cy="775.2" r="9"/><circle cx="975.9" cy="775.1" r="9"/><circle cx="976.3" cy="768.7" r="9"/><circle cx="959.6" cy="775.4" r="9"/><circle cx="973.4" cy="783.9" r="9"/><circle cx="976.3" cy="775.2" r="9"/><circle cx="975.5" cy="778" r="9"/><circle cx="970" cy="777.7" r="9"/><circle cx="958.5" cy="768.4" r="9"/><circle cx="969.5" cy="765.6" r="9"/><circle cx="962" cy="761.2" r="9"/><circle cx="955.1" cy="784.8" r="9"/><circle cx="956.4" cy="763" r="9"/><circle cx="971.6" cy="774" r="9"/><circle cx="958.2" cy="773.6" r="9"/><circle cx="970.9" cy="762.2" r="9"/><circle cx="973.9" cy="764.6" r="9"/><circle cx="957.7" cy="780.5" r="9"/><circle cx="966.1" cy="763.1" r="9"/><circle cx="985.3" cy="773.3" r="9"/><circle cx="982.5" cy="777.3" r="9"/><circle cx="995.9" cy="768.2" r="9"/><circle cx="982.1" cy="776.8" r="9"/><circle cx="987.5" cy="781.5" r="9"/><circle cx="1003.6" cy="761.8" r="9"/><circle cx="981.6" cy="761" r="9"/><circle cx="980.3" cy="760.3" r="9"/><circle cx="1004.2" cy="767.4" r="9"/><circle cx="998.8" cy="775.8" r="9"/><circle cx="997.7" cy="768.1" r="9"/><circle cx="988" cy="765.1" r="9"/><circle cx="1018.7" cy="763.7" r="9"/><circle cx="1020.7" cy="765.2" r="9"/><circle cx="1010" cy="767.1" r="9"/><circle cx="1007.7" cy="771" r="9"/><circle cx="1025.2" cy="762.3" r="9"/><circle cx="1021.7" cy="760.9" r="9"/><circle cx="1011.1" cy="767.1" r="9"/><circle cx="1013.8" cy="779.3" r="9"/><circle cx="1005.6" cy="771" r="9"/><circle cx="1014.6" cy="766.9" r="9"/><circle cx="1008.9" cy="765.6" r="9"/><circle cx="1019.2" cy="781.3" r="9"/><circle cx="1027.6" cy="769.3" r="9"/><circle cx="1006.4" cy="767.2" r="9"/><circle cx="1022.9" cy="769" r="9"/><circle cx="1015.3" cy="765" r="9"/><circle cx="1026.7" cy="776.4" r="9"/><circle cx="1016.2" cy="772" r="9"/><circle cx="1006.4" cy="771.4" r="9"/><circle cx="1027" cy="775" r="9"/><circle cx="1021.9" cy="768.5" r="9"/><circle cx="1016.3" cy="776.8" r="9"/><circle cx="1017.1" cy="766.7" r="9"/><circle cx="1008.8" cy="767.9" r="9"/><circle cx="1029.2" cy="764.1" r="9"/><circle cx="1032.5" cy="765.3" r="9"/><circle cx="1029.2" cy="776.4" r="9"/><circle cx="1031" cy="780.2" r="9"/><circle cx="763.6" cy="794.3" r="9"/><circle cx="763.6" cy="808.9" r="9"/><circle cx="763.6" cy="799.5" r="9"/><circle cx="771.3" cy="808.2" r="9"/><circle cx="795.1" cy="793.4" r="9"/><circle cx="797.5" cy="787.8" r="9"/><circle cx="792.9" cy="795.4" r="9"/><circle cx="806.2" cy="789.3" r="9"/><circle cx="806.1" cy="808.2" r="9"/><circle cx="813.5" cy="788.7" r="9"/><circle cx="837.7" cy="801.8" r="9"/><circle cx="837.7" cy="788.8" r="9"/><circle cx="837.7" cy="789.5" r="9"/><circle cx="837.7" cy="809.7" r="9"/><circle cx="837.7" cy="808.7" r="9"/><circle cx="837.7" cy="797.9" r="9"/><circle cx="871.1" cy="792.4" r="9"/><circle cx="855.6" cy="788.6" r="9"/><circle cx="865.9" cy="786.8" r="9"/><circle cx="857.2" cy="794.1" r="9"/><circle cx="870.3" cy="790.9" r="9"/><circle cx="870.7" cy="801.8" r="9"/><circle cx="873.3" cy="809.7" r="9"/><circle cx="893.8" cy="808.3" r="9"/><circle cx="899" cy="806.8" r="9"/><circle cx="889.1" cy="796" r="9"/><circle cx="890.7" cy="787.4" r="9"/><circle cx="883.2" cy="808.5" r="9"/><circle cx="891.8" cy="809.6" r="9"/><circle cx="882.1" cy="792.5" r="9"/><circle cx="882.1" cy="789.2" r="9"/><circle cx="881.7" cy="802.7" r="9"/><circle cx="890.1" cy="795.5" r="9"/><circle cx="900.7" cy="789.3" r="9"/><circle cx="883.1" cy="803.2" r="9"/><circle cx="911.7" cy="804.7" r="9"/><circle cx="911.7" cy="804.6" r="9"/><circle cx="911.7" cy="790.2" r="9"/><circle cx="911.7" cy="806.9" r="9"/><circle cx="911.7" cy="806.1" r="9"/><circle cx="911.7" cy="800" r="9"/><circle cx="922.8" cy="795" r="9"/><circle cx="916.8" cy="800.2" r="9"/><circle cx="915" cy="806.9" r="9"/><circle cx="920.5" cy="801.7" r="9"/><circle cx="924.2" cy="804.7" r="9"/><circle cx="911.7" cy="797.2" r="9"/><circle cx="921.6" cy="803.3" r="9"/><circle cx="911.7" cy="787.5" r="9"/><circle cx="911.7" cy="791.1" r="9"/><circle cx="923.4" cy="788.2" r="9"/><circle cx="924.5" cy="807.2" r="9"/><circle cx="920.5" cy="789" r="9"/><circle cx="922.5" cy="809.5" r="9"/><circle cx="912" cy="805.3" r="9"/><circle cx="911.9" cy="808.3" r="9"/><circle cx="925.1" cy="785.5" r="9"/><circle cx="928" cy="787.6" r="9"/><circle cx="926.2" cy="789.9" r="9"/><circle cx="940.1" cy="801" r="9"/><circle cx="947.6" cy="797.4" r="9"/><circle cx="940.8" cy="792.6" r="9"/><circle cx="932" cy="795.7" r="9"/><circle cx="934.1" cy="787.9" r="9"/><circle cx="938.6" cy="797.8" r="9"/><circle cx="954.1" cy="797.7" r="9"/><circle cx="948.4" cy="786.8" r="9"/><circle cx="946.8" cy="795.9" r="9"/><circle cx="936.1" cy="804.4" r="9"/><circle cx="938.6" cy="789.8" r="9"/><circle cx="949.2" cy="807.7" r="9"/><circle cx="931.9" cy="803.5" r="9"/><circle cx="944" cy="805.8" r="9"/><circle cx="936.6" cy="803.4" r="9"/><circle cx="952.9" cy="790.4" r="9"/><circle cx="949.2" cy="794.7" r="9"/><circle cx="950.2" cy="792.1" r="9"/><circle cx="949.9" cy="790.4" r="9"/><circle cx="945.8" cy="799.4" r="9"/><circle cx="934.9" cy="785.1" r="9"/><circle cx="941.8" cy="808.1" r="9"/><circle cx="946.4" cy="807.9" r="9"/><circle cx="948.3" cy="794.3" r="9"/><circle cx="971.8" cy="797.6" r="9"/><circle cx="970.8" cy="789.6" r="9"/><circle cx="968.6" cy="796.4" r="9"/><circle cx="977.6" cy="792.9" r="9"/><circle cx="964.7" cy="791.2" r="9"/><circle cx="977.5" cy="795.4" r="9"/><circle cx="978.3" cy="786.5" r="9"/><circle cx="976" cy="801.6" r="9"/><circle cx="979.6" cy="793" r="9"/><circle cx="963.3" cy="799.1" r="9"/><circle cx="962.3" cy="801" r="9"/><circle cx="975.1" cy="799.8" r="9"/><circle cx="959.2" cy="802.7" r="9"/><circle cx="977.7" cy="805.8" r="9"/><circle cx="972" cy="796" r="9"/><circle cx="957.1" cy="801.3" r="9"/><circle cx="963.1" cy="786.4" r="9"/><circle cx="956.5" cy="796.6" r="9"/><circle cx="958.3" cy="797.6" r="9"/><circle cx="966.9" cy="808.9" r="9"/><circle cx="960.1" cy="803.1" r="9"/><circle cx="966.6" cy="786.5" r="9"/><circle cx="956.6" cy="791.3" r="9"/><circle cx="958.2" cy="801.7" r="9"/><circle cx="995.3" cy="788" r="9"/><circle cx="986" cy="800.9" r="9"/><circle cx="980.4" cy="794.6" r="9"/><circle cx="987.6" cy="807.2" r="9"/><circle cx="988.3" cy="807.3" r="9"/><circle cx="1004.9" cy="791.2" r="9"/><circle cx="983.8" cy="790" r="9"/><circle cx="992.9" cy="788.3" r="9"/><circle cx="984.1" cy="794.7" r="9"/><circle cx="981.9" cy="787.9" r="9"/><circle cx="981.7" cy="795.2" r="9"/><circle cx="995.4" cy="793.9" r="9"/><circle cx="994.1" cy="798.1" r="9"/><circle cx="998.7" cy="787.2" r="9"/><circle cx="986.2" cy="803.7" r="9"/><circle cx="984.1" cy="804.7" r="9"/><circle cx="1001" cy="802.5" r="9"/><circle cx="991.9" cy="798.1" r="9"/><circle cx="990.8" cy="787.8" r="9"/><circle cx="990.8" cy="791.7" r="9"/><circle cx="995.1" cy="794.8" r="9"/><circle cx="984.7" cy="786.1" r="9"/><circle cx="993.4" cy="791.2" r="9"/><circle cx="980.1" cy="799.1" r="9"/><circle cx="1021.7" cy="786.1" r="9"/><circle cx="1025.5" cy="787" r="9"/><circle cx="1014.5" cy="806.9" r="9"/><circle cx="1011.3" cy="796.9" r="9"/><circle cx="1018.2" cy="802.1" r="9"/><circle cx="1016.2" cy="806.4" r="9"/><circle cx="1005.1" cy="800.8" r="9"/><circle cx="1015.4" cy="801.8" r="9"/><circle cx="1009" cy="802.8" r="9"/><circle cx="1023.1" cy="787.9" r="9"/><circle cx="1024.4" cy="805.6" r="9"/><circle cx="1023.6" cy="786.8" r="9"/><circle cx="1024.3" cy="805" r="9"/><circle cx="1032.7" cy="785.7" r="9"/><circle cx="1028.3" cy="809.5" r="9"/><circle cx="1026.2" cy="804.1" r="9"/><circle cx="773.3" cy="810" r="9"/><circle cx="763.6" cy="814.8" r="9"/><circle cx="763.6" cy="828.1" r="9"/><circle cx="775.3" cy="815.1" r="9"/><circle cx="794.1" cy="831.2" r="9"/><circle cx="798.4" cy="811.2" r="9"/><circle cx="792.3" cy="815.8" r="9"/><circle cx="829.9" cy="832.6" r="9"/><circle cx="806" cy="831.4" r="9"/><circle cx="837.7" cy="812.5" r="9"/><circle cx="837.7" cy="826.8" r="9"/><circle cx="837.7" cy="817.9" r="9"/><circle cx="837.7" cy="812" r="9"/><circle cx="837.7" cy="814" r="9"/><circle cx="853.4" cy="813.2" r="9"/><circle cx="878.3" cy="818.4" r="9"/><circle cx="861.8" cy="830.4" r="9"/><circle cx="865" cy="829.6" r="9"/><circle cx="875.4" cy="811.7" r="9"/><circle cx="897.9" cy="822.6" r="9"/><circle cx="901.3" cy="831.5" r="9"/><circle cx="902.5" cy="815.2" r="9"/><circle cx="902.8" cy="823.6" r="9"/><circle cx="882.1" cy="834.3" r="9"/><circle cx="890.9" cy="827.2" r="9"/><circle cx="894" cy="822.1" r="9"/><circle cx="882.1" cy="812.6" r="9"/><circle cx="882.1" cy="811.2" r="9"/><circle cx="882.1" cy="821.2" r="9"/><circle cx="893" cy="825.4" r="9"/><circle cx="882.1" cy="832.8" r="9"/><circle cx="921.3" cy="820.6" r="9"/><circle cx="926.7" cy="811.5" r="9"/><circle cx="911.7" cy="812.7" r="9"/><circle cx="911.7" cy="827.3" r="9"/><circle cx="911.7" cy="829.8" r="9"/><circle cx="921" cy="820.1" r="9"/><circle cx="911.7" cy="811.2" r="9"/><circle cx="908.2" cy="822.3" r="9"/><circle cx="911.7" cy="813.3" r="9"/><circle cx="917.8" cy="818" r="9"/><circle cx="910.2" cy="817.1" r="9"/><circle cx="915.9" cy="821.8" r="9"/><circle cx="911.4" cy="827.3" r="9"/><circle cx="911.7" cy="821.7" r="9"/><circle cx="914.7" cy="834.2" r="9"/><circle cx="922.3" cy="832" r="9"/><circle cx="908.7" cy="815" r="9"/><circle cx="914.8" cy="819.8" r="9"/><circle cx="921.7" cy="827.7" r="9"/><circle cx="920.7" cy="817.4" r="9"/><circle cx="919.2" cy="817.4" r="9"/><circle cx="916.7" cy="819.9" r="9"/><circle cx="924.9" cy="813.5" r="9"/><circle cx="909.2" cy="828.3" r="9"/><circle cx="942.4" cy="822.7" r="9"/><circle cx="940.1" cy="820.1" r="9"/><circle cx="952.4" cy="834.9" r="9"/><circle cx="940.1" cy="834.5" r="9"/><circle cx="934.2" cy="829.6" r="9"/><circle cx="931.6" cy="832.7" r="9"/><circle cx="937.1" cy="811.3" r="9"/><circle cx="945.3" cy="830.7" r="9"/><circle cx="944.9" cy="820.7" r="9"/><circle cx="954.5" cy="821.8" r="9"/><circle cx="937.2" cy="816.6" r="9"/><circle cx="941.1" cy="829.7" r="9"/><circle cx="938.4" cy="824.2" r="9"/><circle cx="942" cy="827" r="9"/><circle cx="953.3" cy="821.1" r="9"/><circle cx="953.6" cy="814.9" r="9"/><circle cx="934.1" cy="823.3" r="9"/><circle cx="930.9" cy="822.4" r="9"/><circle cx="944" cy="814.3" r="9"/><circle cx="935.4" cy="818.4" r="9"/><circle cx="950.5" cy="831.7" r="9"/><circle cx="930.8" cy="821.1" r="9"/><circle cx="954.7" cy="826.6" r="9"/><circle cx="943.4" cy="823.4" r="9"/><circle cx="962.9" cy="820.5" r="9"/><circle cx="957.1" cy="822.9" r="9"/><circle cx="955.5" cy="825.1" r="9"/><circle cx="975.4" cy="819.5" r="9"/><circle cx="973.2" cy="832.2" r="9"/><circle cx="964.3" cy="813" r="9"/><circle cx="961.9" cy="825.3" r="9"/><circle cx="976" cy="815" r="9"/><circle cx="979.3" cy="810.5" r="9"/><circle cx="976.9" cy="824.5" r="9"/><circle cx="979.9" cy="829" r="9"/><circle cx="977.2" cy="833.1" r="9"/><circle cx="975.1" cy="815.5" r="9"/><circle cx="966.5" cy="822.8" r="9"/><circle cx="958.7" cy="833.3" r="9"/><circle cx="962.5" cy="813.5" r="9"/><circle cx="961.5" cy="812.9" r="9"/><circle cx="959.2" cy="834.2" r="9"/><circle cx="962.4" cy="812.5" r="9"/><circle cx="958.6" cy="828.1" r="9"/><circle cx="957.7" cy="831.4" r="9"/><circle cx="965.6" cy="816.3" r="9"/><circle cx="957.2" cy="826.1" r="9"/><circle cx="970.8" cy="816.7" r="9"/><circle cx="981.6" cy="814.6" r="9"/><circle cx="991.8" cy="810.5" r="9"/><circle cx="982" cy="828.4" r="9"/><circle cx="990.5" cy="834.3" r="9"/><circle cx="986.5" cy="825.8" r="9"/><circle cx="984" cy="824.7" r="9"/><circle cx="985.9" cy="816.6" r="9"/><circle cx="1005" cy="810.2" r="9"/><circle cx="998.1" cy="817.8" r="9"/><circle cx="998.6" cy="825" r="9"/><circle cx="983.9" cy="816.1" r="9"/><circle cx="1003.5" cy="834.3" r="9"/><circle cx="983.4" cy="825.8" r="9"/><circle cx="990.5" cy="816.9" r="9"/><circle cx="1000.3" cy="813.4" r="9"/><circle cx="997.2" cy="811.7" r="9"/><circle cx="983.9" cy="810.6" r="9"/><circle cx="982.9" cy="834.8" r="9"/><circle cx="998.9" cy="833.5" r="9"/><circle cx="1001.4" cy="811.3" r="9"/><circle cx="1001.2" cy="818.3" r="9"/><circle cx="983.9" cy="829.5" r="9"/><circle cx="982.3" cy="818.9" r="9"/><circle cx="998" cy="825.9" r="9"/><circle cx="1025.7" cy="826.5" r="9"/><circle cx="1005.1" cy="823" r="9"/><circle cx="1014" cy="824.9" r="9"/><circle cx="1020.7" cy="819.9" r="9"/><circle cx="1026.3" cy="814.2" r="9"/><circle cx="1009.6" cy="825.6" r="9"/><circle cx="1028.8" cy="814.1" r="9"/><circle cx="1021.5" cy="829.1" r="9"/><circle cx="1013.6" cy="831.7" r="9"/><circle cx="1020.6" cy="823.3" r="9"/><circle cx="1008.6" cy="822.4" r="9"/><circle cx="1016.6" cy="834.3" r="9"/><circle cx="1030.7" cy="829.9" r="9"/><circle cx="1033.5" cy="814.9" r="9"/><circle cx="761.7" cy="839.6" r="9"/><circle cx="763.6" cy="847.6" r="9"/><circle cx="759.9" cy="858.6" r="9"/><circle cx="763.6" cy="842.5" r="9"/><circle cx="763.6" cy="843.9" r="9"/><circle cx="783.1" cy="842.6" r="9"/><circle cx="793.3" cy="850.9" r="9"/><circle cx="816.6" cy="838.9" r="9"/><circle cx="806" cy="858.6" r="9"/><circle cx="847.5" cy="855.4" r="9"/><circle cx="837.7" cy="844.2" r="9"/><circle cx="837.7" cy="857.4" r="9"/><circle cx="837.3" cy="838.3" r="9"/><circle cx="837.7" cy="842.7" r="9"/><circle cx="837.7" cy="836.7" r="9"/><circle cx="837.7" cy="858" r="9"/><circle cx="872.9" cy="842.8" r="9"/><circle cx="855.9" cy="855.7" r="9"/><circle cx="865.6" cy="856.8" r="9"/><circle cx="884.1" cy="852.6" r="9"/><circle cx="880.1" cy="846" r="9"/><circle cx="885.3" cy="847.9" r="9"/><circle cx="897.6" cy="838.3" r="9"/><circle cx="886.4" cy="855.9" r="9"/><circle cx="896.9" cy="838.2" r="9"/><circle cx="887.3" cy="839.4" r="9"/><circle cx="882.1" cy="843.4" r="9"/><circle cx="880.5" cy="850.3" r="9"/><circle cx="882.3" cy="855.5" r="9"/><circle cx="897.1" cy="857.4" r="9"/><circle cx="884.1" cy="849.3" r="9"/><circle cx="911.7" cy="854" r="9"/><circle cx="911.7" cy="853.5" r="9"/><circle cx="911.7" cy="843.7" r="9"/><circle cx="911.7" cy="845.6" r="9"/><circle cx="911.7" cy="851.6" r="9"/><circle cx="923.8" cy="839.6" r="9"/><circle cx="911.7" cy="840.4" r="9"/><circle cx="919.6" cy="858.6" r="9"/><circle cx="911.7" cy="856.9" r="9"/><circle cx="926.9" cy="836.2" r="9"/><circle cx="909.2" cy="858.4" r="9"/><circle cx="911.7" cy="845.5" r="9"/><circle cx="911.7" cy="837.3" r="9"/><circle cx="920.8" cy="838.5" r="9"/><circle cx="911.7" cy="836.1" r="9"/><circle cx="911.7" cy="857.3" r="9"/><circle cx="911.7" cy="847.1" r="9"/><circle cx="917" cy="857.8" r="9"/><circle cx="915.4" cy="859.7" r="9"/><circle cx="911.7" cy="853.6" r="9"/><circle cx="921.6" cy="848" r="9"/><circle cx="913.3" cy="849.9" r="9"/><circle cx="922.2" cy="853.7" r="9"/><circle cx="920.1" cy="836.9" r="9"/><circle cx="940.7" cy="842.5" r="9"/><circle cx="939.3" cy="844.9" r="9"/><circle cx="944.9" cy="852.4" r="9"/><circle cx="947.9" cy="851.4" r="9"/><circle cx="931" cy="856.7" r="9"/><circle cx="948.9" cy="840.4" r="9"/><circle cx="952.8" cy="856.2" r="9"/><circle cx="934.4" cy="837" r="9"/><circle cx="931.7" cy="855.9" r="9"/><circle cx="931.3" cy="854.7" r="9"/><circle cx="940.7" cy="846.6" r="9"/><circle cx="937.4" cy="851.9" r="9"/><circle cx="954.7" cy="849.8" r="9"/><circle cx="941" cy="847.3" r="9"/><circle cx="943.3" cy="848.3" r="9"/><circle cx="937.9" cy="853.1" r="9"/><circle cx="942" cy="843" r="9"/><circle cx="942.3" cy="853.1" r="9"/><circle cx="946.9" cy="846.4" r="9"/><circle cx="955" cy="837.3" r="9"/><circle cx="942" cy="843.5" r="9"/><circle cx="954.1" cy="858.1" r="9"/><circle cx="941.6" cy="859.5" r="9"/><circle cx="951" cy="845.7" r="9"/><circle cx="975.2" cy="840.9" r="9"/><circle cx="970.8" cy="838.4" r="9"/><circle cx="973.9" cy="852.8" r="9"/><circle cx="963.6" cy="850.1" r="9"/><circle cx="970.6" cy="848.6" r="9"/><circle cx="967.3" cy="839.8" r="9"/><circle cx="979" cy="855.9" r="9"/><circle cx="968.8" cy="839.8" r="9"/><circle cx="957.5" cy="856.4" r="9"/><circle cx="978.8" cy="850.8" r="9"/><circle cx="955.7" cy="843.7" r="9"/><circle cx="968.3" cy="840.8" r="9"/><circle cx="956.5" cy="851.6" r="9"/><circle cx="977.5" cy="839.1" r="9"/><circle cx="965.3" cy="858.3" r="9"/><circle cx="958" cy="841.4" r="9"/><circle cx="956.1" cy="859" r="9"/><circle cx="963.1" cy="837.5" r="9"/><circle cx="965.2" cy="845.1" r="9"/><circle cx="977.5" cy="839.6" r="9"/><circle cx="963.8" cy="839.9" r="9"/><circle cx="971.5" cy="838.6" r="9"/><circle cx="968.2" cy="846.9" r="9"/><circle cx="977.3" cy="854.9" r="9"/><circle cx="980.8" cy="851.6" r="9"/><circle cx="987.1" cy="856.1" r="9"/><circle cx="988.7" cy="839.1" r="9"/><circle cx="992.7" cy="859.9" r="9"/><circle cx="1001.5" cy="857.6" r="9"/><circle cx="996.5" cy="837.4" r="9"/><circle cx="989.1" cy="855.8" r="9"/><circle cx="984.1" cy="851.9" r="9"/><circle cx="1003.3" cy="847.9" r="9"/><circle cx="990.4" cy="837.4" r="9"/><circle cx="999.7" cy="842.3" r="9"/><circle cx="983" cy="843.2" r="9"/><circle cx="988.4" cy="836.9" r="9"/><circle cx="1002.9" cy="859.1" r="9"/><circle cx="989.2" cy="856.4" r="9"/><circle cx="989.2" cy="844.4" r="9"/><circle cx="983.2" cy="857" r="9"/><circle cx="980.4" cy="841.1" r="9"/><circle cx="995.5" cy="847.6" r="9"/><circle cx="1000" cy="852.8" r="9"/><circle cx="989.7" cy="858.9" r="9"/><circle cx="995.7" cy="847.2" r="9"/><circle cx="997.4" cy="843.4" r="9"/><circle cx="984.2" cy="853.9" r="9"/><circle cx="1026.7" cy="836.5" r="9"/><circle cx="1012.2" cy="854.1" r="9"/><circle cx="1008.5" cy="841.1" r="9"/><circle cx="1024.2" cy="848.1" r="9"/><circle cx="1025" cy="856.4" r="9"/><circle cx="1017.5" cy="838.2" r="9"/><circle cx="1022.4" cy="842.7" r="9"/><circle cx="1023.8" cy="837.4" r="9"/><circle cx="1018.6" cy="842.1" r="9"/><circle cx="1005.2" cy="838.6" r="9"/><circle cx="1017.2" cy="836.5" r="9"/><circle cx="1029.4" cy="858.3" r="9"/><circle cx="1021" cy="835.9" r="9"/><circle cx="1033" cy="839.2" r="9"/><circle cx="763.6" cy="870.2" r="9"/><circle cx="773.3" cy="880.8" r="9"/><circle cx="770.6" cy="869.8" r="9"/><circle cx="772.4" cy="875" r="9"/><circle cx="763.6" cy="880.2" r="9"/><circle cx="787.7" cy="873.6" r="9"/><circle cx="793.3" cy="877.9" r="9"/><circle cx="817.7" cy="862.8" r="9"/><circle cx="807.5" cy="869.2" r="9"/><circle cx="849.3" cy="866.3" r="9"/><circle cx="837.7" cy="874.6" r="9"/><circle cx="843.1" cy="883.2" r="9"/><circle cx="837.7" cy="871.1" r="9"/><circle cx="837.7" cy="865.3" r="9"/><circle cx="837.7" cy="874.6" r="9"/><circle cx="842.7" cy="869.5" r="9"/><circle cx="859" cy="863.3" r="9"/><circle cx="875.7" cy="861.4" r="9"/><circle cx="861.2" cy="868.3" r="9"/><circle cx="874.4" cy="880.8" r="9"/><circle cx="900.7" cy="874" r="9"/><circle cx="891" cy="872.3" r="9"/><circle cx="889.4" cy="870.1" r="9"/><circle cx="882.1" cy="876.6" r="9"/><circle cx="889.6" cy="879.1" r="9"/><circle cx="899.6" cy="868.6" r="9"/><circle cx="882.1" cy="877.9" r="9"/><circle cx="899" cy="861" r="9"/><circle cx="880.5" cy="870.7" r="9"/><circle cx="890.5" cy="873.4" r="9"/><circle cx="900.1" cy="885" r="9"/><circle cx="882.1" cy="870.2" r="9"/><circle cx="927.9" cy="880.1" r="9"/><circle cx="911.8" cy="862.8" r="9"/><circle cx="925.8" cy="869.6" r="9"/><circle cx="914.1" cy="879.2" r="9"/><circle cx="927.8" cy="883.4" r="9"/><circle cx="918.4" cy="880.3" r="9"/><circle cx="915.9" cy="870" r="9"/><circle cx="911.7" cy="880" r="9"/><circle cx="911.7" cy="879.3" r="9"/><circle cx="921.8" cy="863.6" r="9"/><circle cx="910.8" cy="870.2" r="9"/><circle cx="911.7" cy="870.7" r="9"/><circle cx="913.3" cy="869.5" r="9"/><circle cx="911.7" cy="865" r="9"/><circle cx="927.6" cy="878.9" r="9"/><circle cx="911.7" cy="875.1" r="9"/><circle cx="921.4" cy="883.6" r="9"/><circle cx="911.7" cy="867.4" r="9"/><circle cx="911.8" cy="877.2" r="9"/><circle cx="911.7" cy="860.2" r="9"/><circle cx="911.7" cy="873.2" r="9"/><circle cx="920.7" cy="870.9" r="9"/><circle cx="925.9" cy="868.7" r="9"/><circle cx="927.8" cy="875.7" r="9"/><circle cx="943.5" cy="877.3" r="9"/><circle cx="942.5" cy="877.9" r="9"/><circle cx="934" cy="865" r="9"/><circle cx="937.5" cy="870.3" r="9"/><circle cx="942.3" cy="884.6" r="9"/><circle cx="945.2" cy="879.4" r="9"/><circle cx="946.9" cy="870.7" r="9"/><circle cx="946.5" cy="880.7" r="9"/><circle cx="935.2" cy="866.7" r="9"/><circle cx="949.5" cy="868.1" r="9"/><circle cx="933.7" cy="872.9" r="9"/><circle cx="952.9" cy="861.5" r="9"/><circle cx="952.4" cy="875" r="9"/><circle cx="940.4" cy="875.6" r="9"/><circle cx="930.5" cy="870.3" r="9"/><circle cx="942.7" cy="875.3" r="9"/><circle cx="952.9" cy="883.2" r="9"/><circle cx="952.4" cy="868.1" r="9"/><circle cx="951.9" cy="866.6" r="9"/><circle cx="932.1" cy="883.9" r="9"/><circle cx="943.2" cy="862.9" r="9"/><circle cx="951.4" cy="861.5" r="9"/><circle cx="949" cy="869.7" r="9"/><circle cx="948.1" cy="864.2" r="9"/><circle cx="978.9" cy="866.6" r="9"/><circle cx="958.6" cy="873.1" r="9"/><circle cx="967" cy="876.5" r="9"/><circle cx="961.8" cy="876.2" r="9"/><circle cx="978.4" cy="860.1" r="9"/><circle cx="957.9" cy="883.7" r="9"/><circle cx="963.7" cy="870" r="9"/><circle cx="963.5" cy="882.3" r="9"/><circle cx="975.5" cy="867" r="9"/><circle cx="972.5" cy="863" r="9"/><circle cx="966.7" cy="878.6" r="9"/><circle cx="967.8" cy="873.2" r="9"/><circle cx="966.4" cy="876.6" r="9"/><circle cx="956.3" cy="861.3" r="9"/><circle cx="969.9" cy="871.5" r="9"/><circle cx="966.9" cy="880.8" r="9"/><circle cx="966.6" cy="873.3" r="9"/><circle cx="975.2" cy="868.1" r="9"/><circle cx="972.6" cy="867.8" r="9"/><circle cx="979.7" cy="880.3" r="9"/><circle cx="966.8" cy="877.1" r="9"/><circle cx="961.5" cy="862.2" r="9"/><circle cx="964.3" cy="879.3" r="9"/><circle cx="979" cy="868.3" r="9"/><circle cx="1004.6" cy="884.1" r="9"/><circle cx="996.6" cy="864.3" r="9"/><circle cx="999.1" cy="874.3" r="9"/><circle cx="983.4" cy="863.6" r="9"/><circle cx="1001.7" cy="869.1" r="9"/><circle cx="994.2" cy="878.6" r="9"/><circle cx="997.7" cy="871" r="9"/><circle cx="987.1" cy="865.5" r="9"/><circle cx="989" cy="877.6" r="9"/><circle cx="1003.7" cy="869.3" r="9"/><circle cx="990.4" cy="880.9" r="9"/><circle cx="1002.5" cy="861.2" r="9"/><circle cx="989.9" cy="866.2" r="9"/><circle cx="995.2" cy="883.2" r="9"/><circle cx="994.5" cy="875.9" r="9"/><circle cx="994.1" cy="867.2" r="9"/><circle cx="998.5" cy="875" r="9"/><circle cx="982.1" cy="875.6" r="9"/><circle cx="984.3" cy="879.7" r="9"/><circle cx="998.2" cy="882.8" r="9"/><circle cx="995.9" cy="861.3" r="9"/><circle cx="1001.7" cy="878.6" r="9"/><circle cx="1001.1" cy="870.4" r="9"/><circle cx="995.6" cy="873.2" r="9"/><circle cx="1021.2" cy="871.1" r="9"/><circle cx="1006.6" cy="864.2" r="9"/><circle cx="1011.8" cy="871.4" r="9"/><circle cx="1027.3" cy="877.6" r="9"/><circle cx="1007.6" cy="885" r="9"/><circle cx="1010.7" cy="864.7" r="9"/><circle cx="1014.5" cy="868.8" r="9"/><circle cx="1025.6" cy="878.7" r="9"/><circle cx="1013.7" cy="864.5" r="9"/><circle cx="1016.8" cy="866.1" r="9"/><circle cx="1006.3" cy="881.9" r="9"/><circle cx="1015.3" cy="882.2" r="9"/><circle cx="1026.4" cy="876.2" r="9"/><circle cx="1032.3" cy="880.1" r="9"/><circle cx="763.6" cy="900.8" r="9"/><circle cx="771" cy="899.7" r="9"/><circle cx="763.6" cy="904.3" r="9"/><circle cx="763.6" cy="896.8" r="9"/><circle cx="792.6" cy="904.3" r="9"/><circle cx="785.5" cy="892.3" r="9"/><circle cx="806" cy="886.2" r="9"/><circle cx="806" cy="895.7" r="9"/><circle cx="807.6" cy="886.8" r="9"/><circle cx="837.7" cy="886.1" r="9"/><circle cx="837.7" cy="897" r="9"/><circle cx="837.7" cy="890.3" r="9"/><circle cx="837.7" cy="904.4" r="9"/><circle cx="848.7" cy="902" r="9"/><circle cx="837.7" cy="905.1" r="9"/><circle cx="837.7" cy="889.2" r="9"/><circle cx="856.3" cy="904" r="9"/><circle cx="870.3" cy="909.4" r="9"/><circle cx="875.5" cy="902.3" r="9"/><circle cx="882.1" cy="909.1" r="9"/><circle cx="904.9" cy="890.5" r="9"/><circle cx="902.4" cy="886.5" r="9"/><circle cx="894.2" cy="899.9" r="9"/><circle cx="885.9" cy="907.5" r="9"/><circle cx="882" cy="899.1" r="9"/><circle cx="902.5" cy="891.2" r="9"/><circle cx="922.4" cy="896" r="9"/><circle cx="910.4" cy="906.5" r="9"/><circle cx="909.3" cy="909.2" r="9"/><circle cx="924.6" cy="904.3" r="9"/><circle cx="925.1" cy="885.9" r="9"/><circle cx="918.3" cy="894.1" r="9"/><circle cx="911.7" cy="902" r="9"/><circle cx="929.3" cy="906.9" r="9"/><circle cx="911.7" cy="886.6" r="9"/><circle cx="917.1" cy="889.7" r="9"/><circle cx="909.4" cy="894.3" r="9"/><circle cx="916.3" cy="893.6" r="9"/><circle cx="954.4" cy="905.7" r="9"/><circle cx="938.6" cy="896.3" r="9"/><circle cx="952.7" cy="899.5" r="9"/><circle cx="930.5" cy="892.7" r="9"/><circle cx="941.4" cy="895.8" r="9"/><circle cx="950.1" cy="902.7" r="9"/><circle cx="948.3" cy="898.8" r="9"/><circle cx="946.3" cy="886.3" r="9"/><circle cx="938.7" cy="885.7" r="9"/><circle cx="950.2" cy="886.7" r="9"/><circle cx="935.8" cy="888.5" r="9"/><circle cx="937.2" cy="908.5" r="9"/><circle cx="948.1" cy="901.7" r="9"/><circle cx="950.2" cy="888.7" r="9"/><circle cx="935.2" cy="903.8" r="9"/><circle cx="949.2" cy="901.2" r="9"/><circle cx="939.1" cy="888.3" r="9"/><circle cx="944.6" cy="900.7" r="9"/><circle cx="930.7" cy="908.8" r="9"/><circle cx="945.4" cy="887.9" r="9"/><circle cx="941.5" cy="906.4" r="9"/><circle cx="936.1" cy="902.2" r="9"/><circle cx="931.3" cy="886.9" r="9"/><circle cx="939.2" cy="889.4" r="9"/><circle cx="966.8" cy="889.6" r="9"/><circle cx="977.9" cy="903.1" r="9"/><circle cx="959.1" cy="891.1" r="9"/><circle cx="978.8" cy="889.4" r="9"/><circle cx="956.2" cy="894.7" r="9"/><circle cx="976.9" cy="904.3" r="9"/><circle cx="955" cy="889.4" r="9"/><circle cx="967" cy="898.7" r="9"/><circle cx="971.4" cy="890.8" r="9"/><circle cx="971" cy="890.4" r="9"/><circle cx="959.7" cy="889.2" r="9"/><circle cx="979" cy="902.4" r="9"/><circle cx="963.5" cy="904.1" r="9"/><circle cx="969.2" cy="896.8" r="9"/><circle cx="955.9" cy="900.9" r="9"/><circle cx="962.4" cy="896.4" r="9"/><circle cx="964.5" cy="890.3" r="9"/><circle cx="971.5" cy="902" r="9"/><circle cx="973.6" cy="899.2" r="9"/><circle cx="973.9" cy="888.6" r="9"/><circle cx="958.6" cy="885.7" r="9"/><circle cx="976.5" cy="909" r="9"/><circle cx="964.8" cy="888.4" r="9"/><circle cx="964" cy="900.3" r="9"/><circle cx="994.9" cy="885.4" r="9"/><circle cx="996.4" cy="885.4" r="9"/><circle cx="1004.1" cy="904.6" r="9"/><circle cx="987.1" cy="888.5" r="9"/><circle cx="1003.2" cy="889" r="9"/><circle cx="988.2" cy="890" r="9"/><circle cx="1002.3" cy="908.5" r="9"/><circle cx="996.1" cy="901.9" r="9"/><circle cx="990.9" cy="898.6" r="9"/><circle cx="985.1" cy="907.1" r="9"/><circle cx="1001.8" cy="896.9" r="9"/><circle cx="994.8" cy="896.5" r="9"/><circle cx="1002" cy="891.6" r="9"/><circle cx="981.2" cy="889.3" r="9"/><circle cx="1003.5" cy="901.3" r="9"/><circle cx="981.1" cy="887.4" r="9"/><circle cx="984.5" cy="901.6" r="9"/><circle cx="1000.3" cy="902.5" r="9"/><circle cx="1001.7" cy="900.2" r="9"/><circle cx="993.8" cy="900" r="9"/><circle cx="1002.1" cy="896.6" r="9"/><circle cx="988.3" cy="895.1" r="9"/><circle cx="989.6" cy="905.2" r="9"/><circle cx="1003.8" cy="908.1" r="9"/><circle cx="1014.6" cy="906.1" r="9"/><circle cx="1013.1" cy="898" r="9"/><circle cx="1013.3" cy="886.5" r="9"/><circle cx="1010" cy="907.7" r="9"/><circle cx="1026.8" cy="885.2" r="9"/><circle cx="1018" cy="909.3" r="9"/><circle cx="1015.3" cy="891.2" r="9"/><circle cx="1024.3" cy="909.5" r="9"/><circle cx="1021.5" cy="895.6" r="9"/><circle cx="772.4" cy="921.2" r="9"/><circle cx="793.3" cy="913.1" r="9"/><circle cx="837.9" cy="924.1" r="9"/><circle cx="837.7" cy="910.2" r="9"/><circle cx="837.7" cy="917.6" r="9"/><circle cx="846.6" cy="923.7" r="9"/><circle cx="837.7" cy="929.7" r="9"/><circle cx="837.3" cy="910.3" r="9"/><circle cx="837.5" cy="933.9" r="9"/><circle cx="837.7" cy="913" r="9"/><circle cx="837.7" cy="911.5" r="9"/><circle cx="844.1" cy="925" r="9"/><circle cx="830.4" cy="932.5" r="9"/><circle cx="837.7" cy="920.8" r="9"/><circle cx="862.7" cy="932.8" r="9"/><circle cx="868.9" cy="912.6" r="9"/><circle cx="862.2" cy="914.2" r="9"/><circle cx="873.9" cy="914.3" r="9"/><circle cx="888.5" cy="931" r="9"/><circle cx="885.5" cy="923" r="9"/><circle cx="911.7" cy="910.5" r="9"/><circle cx="925.3" cy="923.3" r="9"/><circle cx="918" cy="911.2" r="9"/><circle cx="911.7" cy="918.1" r="9"/><circle cx="911.7" cy="910.9" r="9"/><circle cx="911.8" cy="918.9" r="9"/><circle cx="932.5" cy="932.1" r="9"/><circle cx="953" cy="913" r="9"/><circle cx="941.7" cy="923.9" r="9"/><circle cx="951.2" cy="917.4" r="9"/><circle cx="931" cy="922.5" r="9"/><circle cx="934.6" cy="921.5" r="9"/><circle cx="976.4" cy="918.5" r="9"/><circle cx="962.5" cy="931" r="9"/><circle cx="973.6" cy="927.8" r="9"/><circle cx="964.4" cy="921.5" r="9"/><circle cx="971.8" cy="912.3" r="9"/><circle cx="964.9" cy="925.2" r="9"/><circle cx="988.4" cy="935" r="9"/><circle cx="993.6" cy="918.8" r="9"/><circle cx="982.7" cy="922.6" r="9"/><circle cx="996.1" cy="925.3" r="9"/><circle cx="987.9" cy="913.7" r="9"/><circle cx="1003.8" cy="934.9" r="9"/><circle cx="1020.5" cy="925.9" r="9"/><circle cx="1011.8" cy="917" r="9"/><circle cx="1006.8" cy="924.3" r="9"/><circle cx="1008.5" cy="923.4" r="9"/><circle cx="1022.7" cy="926.6" r="9"/><circle cx="837.7" cy="957" r="9"/><circle cx="837.7" cy="947.8" r="9"/><circle cx="883.4" cy="948.1" r="9"/><circle cx="889" cy="951" r="9"/><circle cx="916.1" cy="957.3" r="9"/><circle cx="915.6" cy="937" r="9"/><circle cx="914.9" cy="958.2" r="9"/><circle cx="940.5" cy="949.9" r="9"/><circle cx="938.2" cy="940.3" r="9"/><circle cx="942.9" cy="958.9" r="9"/><circle cx="973.1" cy="951.3" r="9"/><circle cx="961.6" cy="940.3" r="9"/><circle cx="974.7" cy="948.6" r="9"/><circle cx="1000" cy="941.4" r="9"/><circle cx="987.3" cy="949.1" r="9"/><circle cx="988.1" cy="948.1" r="9"/><circle cx="1024.9" cy="955.3" r="9"/><circle cx="1012.8" cy="948.7" r="9"/><circle cx="1024.9" cy="952.2" r="9"/><circle cx="1027.9" cy="958.7" r="9"/><circle cx="1031.8" cy="940.4" r="9"/><circle cx="837.7" cy="961.3" r="9"/><circle cx="885.2" cy="966.7" r="9"/><circle cx="909.6" cy="967.7" r="9"/><circle cx="923.2" cy="962.5" r="9"/><circle cx="937.2" cy="968.2" r="9"/><circle cx="955.7" cy="966.5" r="9"/><circle cx="995.7" cy="963" r="9"/><circle cx="983.4" cy="964" r="9"/><circle cx="1014.7" cy="969.9" r="9"/><circle cx="856" cy="124" r="9"/><circle cx="870" cy="123" r="9"/><circle cx="870" cy="125.5" r="9"/><circle cx="867.2" cy="150" r="9"/><circle cx="764" cy="168" r="9"/><circle cx="764" cy="188" r="9"/><circle cx="838" cy="188" r="9"/><circle cx="826" cy="199.2" r="9"/><circle cx="878" cy="203.2" r="9"/><circle cx="878" cy="224.8" r="9"/><circle cx="764" cy="237.2" r="9"/><circle cx="777.2" cy="254.8" r="9"/><circle cx="799.2" cy="248" r="9"/><circle cx="804" cy="270" r="9"/><circle cx="820" cy="285.2" r="9"/><circle cx="830" cy="293.2" r="9"/><circle cx="764" cy="288" r="9"/><circle cx="838" cy="242.8" r="9"/><circle cx="856" cy="252" r="9"/><circle cx="870" cy="254.8" r="9"/><circle cx="852" cy="268" r="9"/><circle cx="862" cy="276" r="9"/><circle cx="856" cy="298.8" r="9"/><circle cx="878" cy="308" r="9"/><circle cx="838" cy="314.7" r="9"/><circle cx="854.2" cy="302.2" r="9"/><circle cx="878.2" cy="308.7" r="9"/><circle cx="877" cy="310" r="9"/><circle cx="874" cy="328.8" r="9"/><circle cx="873.3" cy="329.5" r="9"/><circle cx="828" cy="300" r="9"/><circle cx="800.7" cy="327.3" r="9"/><circle cx="810.5" cy="334.7" r="9"/><circle cx="838.4" cy="336" r="9"/><circle cx="842.2" cy="337.6" r="9"/><circle cx="848.2" cy="337" r="9"/><circle cx="838.4" cy="354.5" r="9"/><circle cx="838.4" cy="356" r="9"/><circle cx="850" cy="344" r="9"/><circle cx="845.5" cy="370.9" r="9"/><circle cx="850.9" cy="372" r="9"/><circle cx="817.6" cy="390.3" r="9"/><circle cx="764" cy="406" r="9"/><circle cx="764" cy="408" r="9"/><circle cx="764" cy="410" r="9"/><circle cx="806" cy="416" r="9"/><circle cx="838.4" cy="414.5" r="9"/><circle cx="826" cy="430" r="9"/><circle cx="838" cy="440" r="9"/><circle cx="784" cy="456" r="9"/><circle cx="807.2" cy="450" r="9"/><circle cx="786" cy="478" r="9"/><circle cx="806" cy="483.2" r="9"/><circle cx="838" cy="458" r="9"/><circle cx="850" cy="464" r="9"/><circle cx="798" cy="490" r="9"/><circle cx="764" cy="504" r="9"/><circle cx="764" cy="516" r="9"/><circle cx="787.2" cy="504" r="9"/><circle cx="806" cy="504" r="9"/><circle cx="812" cy="510" r="9"/><circle cx="838" cy="496" r="9"/><circle cx="838" cy="512" r="9"/><circle cx="838" cy="524" r="9"/><circle cx="794" cy="528" r="9"/><circle cx="820" cy="524" r="9"/><circle cx="799" cy="450" r="9"/><circle cx="796.8" cy="489.2" r="9"/><circle cx="764" cy="526" r="9"/><circle cx="842" cy="470" r="9"/><circle cx="846" cy="482" r="9"/><circle cx="840" cy="430" r="9"/><circle cx="852" cy="400" r="9"/><circle cx="845" cy="392" r="9"/><circle cx="852" cy="420" r="9"/><circle cx="848" cy="505" r="9"/><circle cx="852" cy="530" r="9"/></g>
<rect x="1050" y="110" width="11" height="856" fill="#4C72B0"/>
<path d="M173 623.6 L181.9 622.7 L190.8 621.8 L199.6 620.9 L208.5 619.9 L217.4 619 L226.3 618 L235.2 617.1 L244 616.1 L252.9 615.2 L261.8 614.2 L270.7 613.2 L279.6 612.3 L288.4 611.3 L297.3 610.4 L306.2 609.4 L315.1 608.5 L324 607.5 L332.8 606.5 L341.7 605.6 L350.6 604.6 L359.5 603.7 L368.4 602.8 L377.2 601.9 L386.1 601.1 L395 600.2 L403.9 599.4 L412.8 598.5 L421.6 597.6 L430.5 596.8 L439.4 595.9 L448.3 595 L457.2 594.2 L466 593.3 L474.9 592.5 L483.8 591.5 L492.7 590.4 L501.6 589.3 L510.4 588.2 L519.3 587.1 L528.2 586 L537.1 584.9 L546 583.8 L554.8 582.7 L563.7 581.6 L572.6 580.6 L581.5 579.5 L590.4 578.4 L599.2 577.3 L608.1 576.2 L617 575.1 L625.9 574.1 L634.8 573 L643.6 571.9 L652.5 570.8 L661.4 569.7 L670.3 568.6 L679.2 567.6 L688 566.5 L696.9 565.4 L705.8 564.3 L714.7 563.2 L723.6 562.1 L732.4 561 L741.3 560 L750.2 558.9 L759.1 557.8 L768 556.6 L776.8 555.4 L785.7 554.3 L794.6 553.1 L803.5 551.9 L812.4 550.7 L821.2 549.5 L830.1 548.3 L839 547.1 L847.9 545.9 L856.8 544.6 L865.6 543.3 L874.5 542 L883.4 540.7 L892.3 539.5 L901.2 538.2 L910 536.9 L918.9 535.6 L927.8 534.3 L936.7 533 L945.6 531.7 L954.4 530.3 L963.3 528.8 L972.2 527.3 L981.1 525.9 L990 524.4 L998.8 522.9 L1007.7 521.5 L1016.6 520 L1025.5 518.5 L1034.4 517 L1043.2 515.6 L1052.1 514.1 L1061 512.6 L1061 534.6 L1052.1 536 L1043.2 537.4 L1034.4 538.8 L1025.5 540.2 L1016.6 541.6 L1007.7 542.9 L998.8 544.3 L990 545.7 L981.1 547.1 L972.2 548.5 L963.3 549.9 L954.4 551.3 L945.6 552.6 L936.7 554.3 L927.8 555.9 L918.9 557.5 L910 559.1 L901.2 560.8 L892.3 562.4 L883.4 564 L874.5 565.7 L865.6 567.3 L856.8 568.9 L847.9 570.6 L839 572.2 L830.1 574.1 L821.2 575.9 L812.4 577.8 L803.5 579.6 L794.6 581.5 L785.7 583.3 L776.8 585.2 L768 587 L759.1 588.9 L750.2 590.6 L741.3 592.3 L732.4 594 L723.6 595.7 L714.7 597.4 L705.8 599.1 L696.9 600.8 L688 602.5 L679.2 604.2 L670.3 605.9 L661.4 607.6 L652.5 609.3 L643.6 611 L634.8 612.7 L625.9 614.4 L617 616.2 L608.1 617.9 L599.2 619.6 L590.4 621.3 L581.5 623 L572.6 624.7 L563.7 626.4 L554.8 628.3 L546 630.3 L537.1 632.4 L528.2 634.4 L519.3 636.4 L510.4 638.5 L501.6 640.5 L492.7 642.6 L483.8 644.6 L474.9 646.5 L466 648.4 L457.2 650.3 L448.3 652.2 L439.4 654.1 L430.5 656 L421.6 657.9 L412.8 659.8 L403.9 661.7 L395 663.6 L386.1 665.5 L377.2 667.3 L368.4 669.2 L359.5 671.1 L350.6 672.9 L341.7 674.8 L332.8 676.6 L324 678.4 L315.1 680.2 L306.2 682 L297.3 683.8 L288.4 685.7 L279.6 687.5 L270.7 689.3 L261.8 691.1 L252.9 692.9 L244 694.7 L235.2 696.6 L226.3 698.4 L217.4 700.2 L208.5 702 L199.6 703.8 L190.8 705.9 L181.9 707.9 L173 710 Z" fill="#FF0000" fill-opacity="0.15"/>
<line x1="170.8" y1="669.7" x2="1061" y2="523.1" stroke="#FF0000" stroke-width="6.6"/>
<line x1="170.6" y1="539.05" x2="1061" y2="539.05" stroke="#000" stroke-width="4.2" stroke-dasharray="17 7.3"/>
</g>
<g font-size="33" text-anchor="middle"><text transform="translate(172.3 1022.9) scale(1 1.08)">0</text><text transform="translate(350.1 1022.9) scale(1 1.08)">20</text><text transform="translate(527.9 1022.9) scale(1 1.08)">40</text><text transform="translate(705.8 1022.9) scale(1 1.08)">60</text><text transform="translate(883.6 1022.9) scale(1 1.08)">80</text><text transform="translate(1061.5 1022.9) scale(1 1.08)">100</text></g>
<g font-size="33" text-anchor="end"><text transform="translate(142 208) scale(1 1.08)">40</text><text transform="translate(142 379.6) scale(1 1.08)">20</text><text transform="translate(142 551.2) scale(1 1.08)">0</text><text transform="translate(142 722.9) scale(1 1.08)">−20</text><text transform="translate(142 894.5) scale(1 1.08)">−40</text></g>
<g font-size="49" text-anchor="middle">
<text transform="translate(615.8 38.8) scale(1 1.04)">Movies With More White Crew</text>
<text transform="translate(616.6 91.8) scale(1 1.04)">Have Higher Budgets</text>
<text transform="translate(616.5 1077.2) scale(1 1.04)">% White</text>
<text transform="translate(61.6 539) rotate(-90) scale(1 1.04)">Budget Relative to Average ($M)</text>
</g>
</svg>
</body></html>
